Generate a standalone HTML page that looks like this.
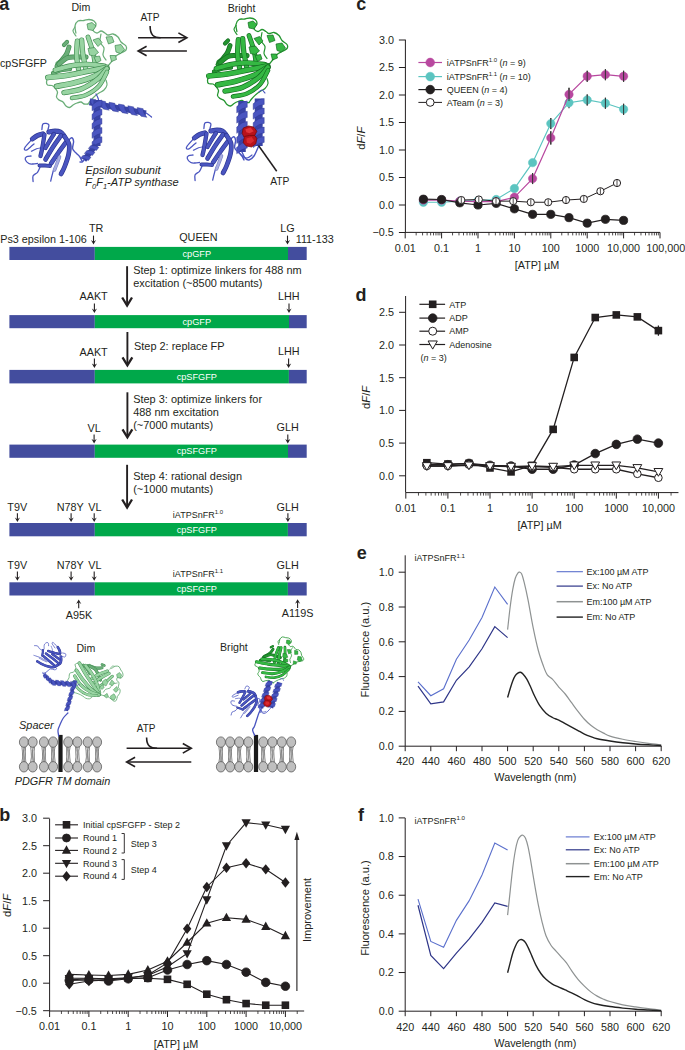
<!DOCTYPE html>
<html><head><meta charset="utf-8"><style>
html,body{margin:0;padding:0;background:#fff;overflow:hidden;width:685px;height:1050px;}
svg{display:block;font-family:"Liberation Sans",sans-serif;}
</style></head><body>
<svg width="685" height="1050" viewBox="0 0 685 1050">
<rect width="685" height="1050" fill="#fff"/>
<line x1="405.4" y1="39.7" x2="405.4" y2="232.4" stroke="#231f20" stroke-width="1"/>
<line x1="398.9" y1="40" x2="405.4" y2="40" stroke="#231f20" stroke-width="1"/>
<text x="393.9" y="43.8" font-size="10.8" text-anchor="end" fill="#231f20">3.0</text>
<line x1="398.9" y1="67.5" x2="405.4" y2="67.5" stroke="#231f20" stroke-width="1"/>
<text x="393.9" y="71.3" font-size="10.8" text-anchor="end" fill="#231f20">2.5</text>
<line x1="398.9" y1="95" x2="405.4" y2="95" stroke="#231f20" stroke-width="1"/>
<text x="393.9" y="98.8" font-size="10.8" text-anchor="end" fill="#231f20">2.0</text>
<line x1="398.9" y1="122.5" x2="405.4" y2="122.5" stroke="#231f20" stroke-width="1"/>
<text x="393.9" y="126.3" font-size="10.8" text-anchor="end" fill="#231f20">1.5</text>
<line x1="398.9" y1="150" x2="405.4" y2="150" stroke="#231f20" stroke-width="1"/>
<text x="393.9" y="153.8" font-size="10.8" text-anchor="end" fill="#231f20">1.0</text>
<line x1="398.9" y1="177.5" x2="405.4" y2="177.5" stroke="#231f20" stroke-width="1"/>
<text x="393.9" y="181.3" font-size="10.8" text-anchor="end" fill="#231f20">0.5</text>
<line x1="398.9" y1="205" x2="405.4" y2="205" stroke="#231f20" stroke-width="1"/>
<text x="393.9" y="208.8" font-size="10.8" text-anchor="end" fill="#231f20">0.0</text>
<line x1="398.9" y1="232.5" x2="405.4" y2="232.5" stroke="#231f20" stroke-width="1"/>
<text x="393.9" y="236.3" font-size="10.8" text-anchor="end" fill="#231f20">−0.5</text>
<line x1="405.2" y1="232.4" x2="660" y2="232.4" stroke="#231f20" stroke-width="1"/>
<line x1="405.2" y1="232.4" x2="405.2" y2="238.4" stroke="#231f20" stroke-width="1"/>
<line x1="416.16" y1="232.4" x2="416.16" y2="235.4" stroke="#231f20" stroke-width="0.8"/>
<line x1="422.57" y1="232.4" x2="422.57" y2="235.4" stroke="#231f20" stroke-width="0.8"/>
<line x1="427.11" y1="232.4" x2="427.11" y2="235.4" stroke="#231f20" stroke-width="0.8"/>
<line x1="430.64" y1="232.4" x2="430.64" y2="235.4" stroke="#231f20" stroke-width="0.8"/>
<line x1="433.52" y1="232.4" x2="433.52" y2="235.4" stroke="#231f20" stroke-width="0.8"/>
<line x1="435.96" y1="232.4" x2="435.96" y2="235.4" stroke="#231f20" stroke-width="0.8"/>
<line x1="438.07" y1="232.4" x2="438.07" y2="235.4" stroke="#231f20" stroke-width="0.8"/>
<line x1="439.93" y1="232.4" x2="439.93" y2="235.4" stroke="#231f20" stroke-width="0.8"/>
<line x1="441.6" y1="232.4" x2="441.6" y2="238.4" stroke="#231f20" stroke-width="1"/>
<line x1="452.56" y1="232.4" x2="452.56" y2="235.4" stroke="#231f20" stroke-width="0.8"/>
<line x1="458.97" y1="232.4" x2="458.97" y2="235.4" stroke="#231f20" stroke-width="0.8"/>
<line x1="463.51" y1="232.4" x2="463.51" y2="235.4" stroke="#231f20" stroke-width="0.8"/>
<line x1="467.04" y1="232.4" x2="467.04" y2="235.4" stroke="#231f20" stroke-width="0.8"/>
<line x1="469.92" y1="232.4" x2="469.92" y2="235.4" stroke="#231f20" stroke-width="0.8"/>
<line x1="472.36" y1="232.4" x2="472.36" y2="235.4" stroke="#231f20" stroke-width="0.8"/>
<line x1="474.47" y1="232.4" x2="474.47" y2="235.4" stroke="#231f20" stroke-width="0.8"/>
<line x1="476.33" y1="232.4" x2="476.33" y2="235.4" stroke="#231f20" stroke-width="0.8"/>
<line x1="478" y1="232.4" x2="478" y2="238.4" stroke="#231f20" stroke-width="1"/>
<line x1="488.96" y1="232.4" x2="488.96" y2="235.4" stroke="#231f20" stroke-width="0.8"/>
<line x1="495.37" y1="232.4" x2="495.37" y2="235.4" stroke="#231f20" stroke-width="0.8"/>
<line x1="499.91" y1="232.4" x2="499.91" y2="235.4" stroke="#231f20" stroke-width="0.8"/>
<line x1="503.44" y1="232.4" x2="503.44" y2="235.4" stroke="#231f20" stroke-width="0.8"/>
<line x1="506.32" y1="232.4" x2="506.32" y2="235.4" stroke="#231f20" stroke-width="0.8"/>
<line x1="508.76" y1="232.4" x2="508.76" y2="235.4" stroke="#231f20" stroke-width="0.8"/>
<line x1="510.87" y1="232.4" x2="510.87" y2="235.4" stroke="#231f20" stroke-width="0.8"/>
<line x1="512.73" y1="232.4" x2="512.73" y2="235.4" stroke="#231f20" stroke-width="0.8"/>
<line x1="514.4" y1="232.4" x2="514.4" y2="238.4" stroke="#231f20" stroke-width="1"/>
<line x1="525.36" y1="232.4" x2="525.36" y2="235.4" stroke="#231f20" stroke-width="0.8"/>
<line x1="531.77" y1="232.4" x2="531.77" y2="235.4" stroke="#231f20" stroke-width="0.8"/>
<line x1="536.31" y1="232.4" x2="536.31" y2="235.4" stroke="#231f20" stroke-width="0.8"/>
<line x1="539.84" y1="232.4" x2="539.84" y2="235.4" stroke="#231f20" stroke-width="0.8"/>
<line x1="542.72" y1="232.4" x2="542.72" y2="235.4" stroke="#231f20" stroke-width="0.8"/>
<line x1="545.16" y1="232.4" x2="545.16" y2="235.4" stroke="#231f20" stroke-width="0.8"/>
<line x1="547.27" y1="232.4" x2="547.27" y2="235.4" stroke="#231f20" stroke-width="0.8"/>
<line x1="549.13" y1="232.4" x2="549.13" y2="235.4" stroke="#231f20" stroke-width="0.8"/>
<line x1="550.8" y1="232.4" x2="550.8" y2="238.4" stroke="#231f20" stroke-width="1"/>
<line x1="561.76" y1="232.4" x2="561.76" y2="235.4" stroke="#231f20" stroke-width="0.8"/>
<line x1="568.17" y1="232.4" x2="568.17" y2="235.4" stroke="#231f20" stroke-width="0.8"/>
<line x1="572.71" y1="232.4" x2="572.71" y2="235.4" stroke="#231f20" stroke-width="0.8"/>
<line x1="576.24" y1="232.4" x2="576.24" y2="235.4" stroke="#231f20" stroke-width="0.8"/>
<line x1="579.12" y1="232.4" x2="579.12" y2="235.4" stroke="#231f20" stroke-width="0.8"/>
<line x1="581.56" y1="232.4" x2="581.56" y2="235.4" stroke="#231f20" stroke-width="0.8"/>
<line x1="583.67" y1="232.4" x2="583.67" y2="235.4" stroke="#231f20" stroke-width="0.8"/>
<line x1="585.53" y1="232.4" x2="585.53" y2="235.4" stroke="#231f20" stroke-width="0.8"/>
<line x1="587.2" y1="232.4" x2="587.2" y2="238.4" stroke="#231f20" stroke-width="1"/>
<line x1="598.16" y1="232.4" x2="598.16" y2="235.4" stroke="#231f20" stroke-width="0.8"/>
<line x1="604.57" y1="232.4" x2="604.57" y2="235.4" stroke="#231f20" stroke-width="0.8"/>
<line x1="609.11" y1="232.4" x2="609.11" y2="235.4" stroke="#231f20" stroke-width="0.8"/>
<line x1="612.64" y1="232.4" x2="612.64" y2="235.4" stroke="#231f20" stroke-width="0.8"/>
<line x1="615.52" y1="232.4" x2="615.52" y2="235.4" stroke="#231f20" stroke-width="0.8"/>
<line x1="617.96" y1="232.4" x2="617.96" y2="235.4" stroke="#231f20" stroke-width="0.8"/>
<line x1="620.07" y1="232.4" x2="620.07" y2="235.4" stroke="#231f20" stroke-width="0.8"/>
<line x1="621.93" y1="232.4" x2="621.93" y2="235.4" stroke="#231f20" stroke-width="0.8"/>
<line x1="623.6" y1="232.4" x2="623.6" y2="238.4" stroke="#231f20" stroke-width="1"/>
<line x1="634.56" y1="232.4" x2="634.56" y2="235.4" stroke="#231f20" stroke-width="0.8"/>
<line x1="640.97" y1="232.4" x2="640.97" y2="235.4" stroke="#231f20" stroke-width="0.8"/>
<line x1="645.51" y1="232.4" x2="645.51" y2="235.4" stroke="#231f20" stroke-width="0.8"/>
<line x1="649.04" y1="232.4" x2="649.04" y2="235.4" stroke="#231f20" stroke-width="0.8"/>
<line x1="651.92" y1="232.4" x2="651.92" y2="235.4" stroke="#231f20" stroke-width="0.8"/>
<line x1="654.36" y1="232.4" x2="654.36" y2="235.4" stroke="#231f20" stroke-width="0.8"/>
<line x1="656.47" y1="232.4" x2="656.47" y2="235.4" stroke="#231f20" stroke-width="0.8"/>
<line x1="658.33" y1="232.4" x2="658.33" y2="235.4" stroke="#231f20" stroke-width="0.8"/>
<line x1="660" y1="232.4" x2="660" y2="238.4" stroke="#231f20" stroke-width="1"/>
<text x="405.2" y="252.2" font-size="10.8" text-anchor="middle" fill="#231f20">0.01</text>
<text x="441.6" y="252.2" font-size="10.8" text-anchor="middle" fill="#231f20">0.1</text>
<text x="478" y="252.2" font-size="10.8" text-anchor="middle" fill="#231f20">1</text>
<text x="514.4" y="252.2" font-size="10.8" text-anchor="middle" fill="#231f20">10</text>
<text x="550.8" y="252.2" font-size="10.8" text-anchor="middle" fill="#231f20">100</text>
<text x="587.2" y="252.2" font-size="10.8" text-anchor="middle" fill="#231f20">1000</text>
<text x="623.6" y="252.2" font-size="10.8" text-anchor="middle" fill="#231f20">10,000</text>
<text x="665.82" y="252.2" font-size="10.8" text-anchor="middle" fill="#231f20">100,000</text>
<text transform="translate(365.1,138.2) rotate(-90)" font-size="11.2" text-anchor="middle" fill="#231f20">d<tspan font-style="italic">F</tspan>/<tspan font-style="italic">F</tspan></text>
<text x="537" y="268.6" font-size="10.8" text-anchor="middle" fill="#231f20">[ATP] µM</text>
<line x1="532.6" y1="173.1" x2="532.6" y2="184.1" stroke="#231f20" stroke-width="1.1"/>
<line x1="550.8" y1="131.3" x2="550.8" y2="144.5" stroke="#231f20" stroke-width="1.1"/>
<line x1="569" y1="87.85" x2="569" y2="101.05" stroke="#231f20" stroke-width="1.1"/>
<line x1="587.2" y1="70.8" x2="587.2" y2="81.8" stroke="#231f20" stroke-width="1.1"/>
<line x1="605.4" y1="69.15" x2="605.4" y2="80.15" stroke="#231f20" stroke-width="1.1"/>
<line x1="623.6" y1="70.8" x2="623.6" y2="81.8" stroke="#231f20" stroke-width="1.1"/>
<line x1="550.8" y1="118.1" x2="550.8" y2="129.1" stroke="#231f20" stroke-width="1.1"/>
<line x1="569" y1="97.2" x2="569" y2="108.2" stroke="#231f20" stroke-width="1.1"/>
<line x1="587.2" y1="94.45" x2="587.2" y2="105.45" stroke="#231f20" stroke-width="1.1"/>
<line x1="605.4" y1="97.75" x2="605.4" y2="108.75" stroke="#231f20" stroke-width="1.1"/>
<line x1="623.6" y1="103.8" x2="623.6" y2="114.8" stroke="#231f20" stroke-width="1.1"/>
<polyline points="423.4,202.25 441.6,202.25 459.8,201.15 478,200.6 496.2,199.5 514.4,188.5 532.6,162.65 550.8,123.6 569,102.7 587.2,99.95 605.4,103.25 623.6,109.3" fill="none" stroke="#5bc4c0" stroke-width="1.2"/>
<circle cx="423.4" cy="202.25" r="4.2" fill="#5bc4c0" stroke="#5bc4c0" stroke-width="0.5"/>
<circle cx="441.6" cy="202.25" r="4.2" fill="#5bc4c0" stroke="#5bc4c0" stroke-width="0.5"/>
<circle cx="459.8" cy="201.15" r="4.2" fill="#5bc4c0" stroke="#5bc4c0" stroke-width="0.5"/>
<circle cx="478" cy="200.6" r="4.2" fill="#5bc4c0" stroke="#5bc4c0" stroke-width="0.5"/>
<circle cx="496.2" cy="199.5" r="4.2" fill="#5bc4c0" stroke="#5bc4c0" stroke-width="0.5"/>
<circle cx="514.4" cy="188.5" r="4.2" fill="#5bc4c0" stroke="#5bc4c0" stroke-width="0.5"/>
<circle cx="532.6" cy="162.65" r="4.2" fill="#5bc4c0" stroke="#5bc4c0" stroke-width="0.5"/>
<circle cx="550.8" cy="123.6" r="4.2" fill="#5bc4c0" stroke="#5bc4c0" stroke-width="0.5"/>
<circle cx="569" cy="102.7" r="4.2" fill="#5bc4c0" stroke="#5bc4c0" stroke-width="0.5"/>
<circle cx="587.2" cy="99.95" r="4.2" fill="#5bc4c0" stroke="#5bc4c0" stroke-width="0.5"/>
<circle cx="605.4" cy="103.25" r="4.2" fill="#5bc4c0" stroke="#5bc4c0" stroke-width="0.5"/>
<circle cx="623.6" cy="109.3" r="4.2" fill="#5bc4c0" stroke="#5bc4c0" stroke-width="0.5"/>
<polyline points="423.4,200.05 441.6,200.05 459.8,201.15 478,201.7 496.2,201.7 514.4,197.3 532.6,178.6 550.8,137.9 569,94.45 587.2,76.3 605.4,74.65 623.6,76.3" fill="none" stroke="#b8489f" stroke-width="1.2"/>
<circle cx="423.4" cy="200.05" r="4.2" fill="#b8489f" stroke="#b8489f" stroke-width="0.5"/>
<circle cx="441.6" cy="200.05" r="4.2" fill="#b8489f" stroke="#b8489f" stroke-width="0.5"/>
<circle cx="459.8" cy="201.15" r="4.2" fill="#b8489f" stroke="#b8489f" stroke-width="0.5"/>
<circle cx="478" cy="201.7" r="4.2" fill="#b8489f" stroke="#b8489f" stroke-width="0.5"/>
<circle cx="496.2" cy="201.7" r="4.2" fill="#b8489f" stroke="#b8489f" stroke-width="0.5"/>
<circle cx="514.4" cy="197.3" r="4.2" fill="#b8489f" stroke="#b8489f" stroke-width="0.5"/>
<circle cx="532.6" cy="178.6" r="4.2" fill="#b8489f" stroke="#b8489f" stroke-width="0.5"/>
<circle cx="550.8" cy="137.9" r="4.2" fill="#b8489f" stroke="#b8489f" stroke-width="0.5"/>
<circle cx="569" cy="94.45" r="4.2" fill="#b8489f" stroke="#b8489f" stroke-width="0.5"/>
<circle cx="587.2" cy="76.3" r="4.2" fill="#b8489f" stroke="#b8489f" stroke-width="0.5"/>
<circle cx="605.4" cy="74.65" r="4.2" fill="#b8489f" stroke="#b8489f" stroke-width="0.5"/>
<circle cx="623.6" cy="76.3" r="4.2" fill="#b8489f" stroke="#b8489f" stroke-width="0.5"/>
<polyline points="423.4,199.22 441.6,199.5 459.8,202.8 478,205 496.2,203.35 514.4,208.85 532.6,214.35 550.8,214.35 569,217.65 587.2,223.15 605.4,219.3 623.6,220.4" fill="none" stroke="#231f20" stroke-width="1.2"/>
<circle cx="423.4" cy="199.22" r="4.1" fill="#231f20" stroke="#231f20" stroke-width="0.8"/>
<circle cx="441.6" cy="199.5" r="4.1" fill="#231f20" stroke="#231f20" stroke-width="0.8"/>
<circle cx="459.8" cy="202.8" r="4.1" fill="#231f20" stroke="#231f20" stroke-width="0.8"/>
<circle cx="478" cy="205" r="4.1" fill="#231f20" stroke="#231f20" stroke-width="0.8"/>
<circle cx="496.2" cy="203.35" r="4.1" fill="#231f20" stroke="#231f20" stroke-width="0.8"/>
<circle cx="514.4" cy="208.85" r="4.1" fill="#231f20" stroke="#231f20" stroke-width="0.8"/>
<circle cx="532.6" cy="214.35" r="4.1" fill="#231f20" stroke="#231f20" stroke-width="0.8"/>
<circle cx="550.8" cy="214.35" r="4.1" fill="#231f20" stroke="#231f20" stroke-width="0.8"/>
<circle cx="569" cy="217.65" r="4.1" fill="#231f20" stroke="#231f20" stroke-width="0.8"/>
<circle cx="587.2" cy="223.15" r="4.1" fill="#231f20" stroke="#231f20" stroke-width="0.8"/>
<circle cx="605.4" cy="219.3" r="4.1" fill="#231f20" stroke="#231f20" stroke-width="0.8"/>
<circle cx="623.6" cy="220.4" r="4.1" fill="#231f20" stroke="#231f20" stroke-width="0.8"/>
<polyline points="461.3,200.05 478.8,199.5 496,201.15 513.2,201.15 530.8,202.25 548.2,202.25 566,200.05 583.8,198.95 600.4,191.25 617,183" fill="none" stroke="#231f20" stroke-width="1"/>
<circle cx="461.3" cy="200.05" r="3.6" fill="#fff" stroke="#231f20" stroke-width="1"/>
<circle cx="478.8" cy="199.5" r="3.6" fill="#fff" stroke="#231f20" stroke-width="1"/>
<circle cx="496" cy="201.15" r="3.6" fill="#fff" stroke="#231f20" stroke-width="1"/>
<circle cx="513.2" cy="201.15" r="3.6" fill="#fff" stroke="#231f20" stroke-width="1"/>
<circle cx="530.8" cy="202.25" r="3.6" fill="#fff" stroke="#231f20" stroke-width="1"/>
<circle cx="548.2" cy="202.25" r="3.6" fill="#fff" stroke="#231f20" stroke-width="1"/>
<circle cx="566" cy="200.05" r="3.6" fill="#fff" stroke="#231f20" stroke-width="1"/>
<circle cx="583.8" cy="198.95" r="3.6" fill="#fff" stroke="#231f20" stroke-width="1"/>
<circle cx="600.4" cy="191.25" r="3.6" fill="#fff" stroke="#231f20" stroke-width="1"/>
<circle cx="617" cy="183" r="3.6" fill="#fff" stroke="#231f20" stroke-width="1"/>
<line x1="461.3" y1="197.05" x2="461.3" y2="203.05" stroke="#231f20" stroke-width="0.8"/>
<line x1="478.8" y1="196.5" x2="478.8" y2="202.5" stroke="#231f20" stroke-width="0.8"/>
<line x1="496" y1="198.15" x2="496" y2="204.15" stroke="#231f20" stroke-width="0.8"/>
<line x1="513.2" y1="198.15" x2="513.2" y2="204.15" stroke="#231f20" stroke-width="0.8"/>
<line x1="530.8" y1="199.25" x2="530.8" y2="205.25" stroke="#231f20" stroke-width="0.8"/>
<line x1="548.2" y1="199.25" x2="548.2" y2="205.25" stroke="#231f20" stroke-width="0.8"/>
<line x1="566" y1="197.05" x2="566" y2="203.05" stroke="#231f20" stroke-width="0.8"/>
<line x1="583.8" y1="195.95" x2="583.8" y2="201.95" stroke="#231f20" stroke-width="0.8"/>
<line x1="600.4" y1="188.25" x2="600.4" y2="194.25" stroke="#231f20" stroke-width="0.8"/>
<line x1="617" y1="180" x2="617" y2="186" stroke="#231f20" stroke-width="0.8"/>
<line x1="532.6" y1="173.1" x2="532.6" y2="184.1" stroke="#333" stroke-width="1"/>
<line x1="550.8" y1="131.3" x2="550.8" y2="144.5" stroke="#333" stroke-width="1"/>
<line x1="569" y1="87.85" x2="569" y2="101.05" stroke="#333" stroke-width="1"/>
<line x1="587.2" y1="70.8" x2="587.2" y2="81.8" stroke="#333" stroke-width="1"/>
<line x1="605.4" y1="69.15" x2="605.4" y2="80.15" stroke="#333" stroke-width="1"/>
<line x1="623.6" y1="70.8" x2="623.6" y2="81.8" stroke="#333" stroke-width="1"/>
<line x1="550.8" y1="118.1" x2="550.8" y2="129.1" stroke="#333" stroke-width="1"/>
<line x1="587.2" y1="94.45" x2="587.2" y2="105.45" stroke="#333" stroke-width="1"/>
<line x1="605.4" y1="97.75" x2="605.4" y2="108.75" stroke="#333" stroke-width="1"/>
<line x1="623.6" y1="103.8" x2="623.6" y2="114.8" stroke="#333" stroke-width="1"/>
<line x1="418.4" y1="62.5" x2="442" y2="62.5" stroke="#b8489f" stroke-width="1.2"/>
<circle cx="430.2" cy="62.5" r="4.4" fill="#b8489f" stroke="#b8489f" stroke-width="0.5"/>
<line x1="418.4" y1="76.6" x2="442" y2="76.6" stroke="#5bc4c0" stroke-width="1.2"/>
<circle cx="430.2" cy="76.6" r="4.4" fill="#5bc4c0" stroke="#5bc4c0" stroke-width="0.5"/>
<line x1="418.4" y1="89.6" x2="442" y2="89.6" stroke="#231f20" stroke-width="1.2"/>
<circle cx="430.2" cy="89.6" r="4.3" fill="#231f20" stroke="#231f20" stroke-width="0.8"/>
<line x1="418.4" y1="102.4" x2="442" y2="102.4" stroke="#231f20" stroke-width="1"/>
<circle cx="430.2" cy="102.4" r="3.9" fill="#fff" stroke="#231f20" stroke-width="1"/>
<text x="446.8" y="65.7" font-size="9" fill="#231f20">iATPSnFR<tspan font-size="6" dy="-3.5">1.0</tspan><tspan dy="3.5"> (<tspan font-style="italic">n</tspan> = 9)</tspan></text>
<text x="446.8" y="79.8" font-size="9" fill="#231f20">iATPSnFR<tspan font-size="6" dy="-3.5">1.1</tspan><tspan dy="3.5"> (<tspan font-style="italic">n</tspan> = 10)</tspan></text>
<text x="446.8" y="92.8" font-size="9" fill="#231f20">QUEEN (<tspan font-style="italic">n</tspan> = 4)</text>
<text x="446.8" y="105.6" font-size="9" fill="#231f20">ATeam (<tspan font-style="italic">n</tspan> = 3)</text>
<line x1="405.6" y1="296" x2="405.6" y2="492.6" stroke="#231f20" stroke-width="1"/>
<line x1="399.1" y1="312.3" x2="405.6" y2="312.3" stroke="#231f20" stroke-width="1"/>
<text x="394.1" y="316.1" font-size="10.8" text-anchor="end" fill="#231f20">2.5</text>
<line x1="399.1" y1="345" x2="405.6" y2="345" stroke="#231f20" stroke-width="1"/>
<text x="394.1" y="348.8" font-size="10.8" text-anchor="end" fill="#231f20">2.0</text>
<line x1="399.1" y1="377.7" x2="405.6" y2="377.7" stroke="#231f20" stroke-width="1"/>
<text x="394.1" y="381.5" font-size="10.8" text-anchor="end" fill="#231f20">1.5</text>
<line x1="399.1" y1="410.4" x2="405.6" y2="410.4" stroke="#231f20" stroke-width="1"/>
<text x="394.1" y="414.2" font-size="10.8" text-anchor="end" fill="#231f20">1.0</text>
<line x1="399.1" y1="443.1" x2="405.6" y2="443.1" stroke="#231f20" stroke-width="1"/>
<text x="394.1" y="446.9" font-size="10.8" text-anchor="end" fill="#231f20">0.5</text>
<line x1="399.1" y1="475.8" x2="405.6" y2="475.8" stroke="#231f20" stroke-width="1"/>
<text x="394.1" y="479.6" font-size="10.8" text-anchor="end" fill="#231f20">0.0</text>
<line x1="405.8" y1="492.6" x2="678.48" y2="492.6" stroke="#231f20" stroke-width="1"/>
<line x1="405.8" y1="492.6" x2="405.8" y2="498.6" stroke="#231f20" stroke-width="1"/>
<line x1="418.47" y1="492.6" x2="418.47" y2="495.6" stroke="#231f20" stroke-width="0.8"/>
<line x1="425.89" y1="492.6" x2="425.89" y2="495.6" stroke="#231f20" stroke-width="0.8"/>
<line x1="431.15" y1="492.6" x2="431.15" y2="495.6" stroke="#231f20" stroke-width="0.8"/>
<line x1="435.23" y1="492.6" x2="435.23" y2="495.6" stroke="#231f20" stroke-width="0.8"/>
<line x1="438.56" y1="492.6" x2="438.56" y2="495.6" stroke="#231f20" stroke-width="0.8"/>
<line x1="441.38" y1="492.6" x2="441.38" y2="495.6" stroke="#231f20" stroke-width="0.8"/>
<line x1="443.82" y1="492.6" x2="443.82" y2="495.6" stroke="#231f20" stroke-width="0.8"/>
<line x1="445.97" y1="492.6" x2="445.97" y2="495.6" stroke="#231f20" stroke-width="0.8"/>
<line x1="447.9" y1="492.6" x2="447.9" y2="498.6" stroke="#231f20" stroke-width="1"/>
<line x1="460.57" y1="492.6" x2="460.57" y2="495.6" stroke="#231f20" stroke-width="0.8"/>
<line x1="467.99" y1="492.6" x2="467.99" y2="495.6" stroke="#231f20" stroke-width="0.8"/>
<line x1="473.25" y1="492.6" x2="473.25" y2="495.6" stroke="#231f20" stroke-width="0.8"/>
<line x1="477.33" y1="492.6" x2="477.33" y2="495.6" stroke="#231f20" stroke-width="0.8"/>
<line x1="480.66" y1="492.6" x2="480.66" y2="495.6" stroke="#231f20" stroke-width="0.8"/>
<line x1="483.48" y1="492.6" x2="483.48" y2="495.6" stroke="#231f20" stroke-width="0.8"/>
<line x1="485.92" y1="492.6" x2="485.92" y2="495.6" stroke="#231f20" stroke-width="0.8"/>
<line x1="488.07" y1="492.6" x2="488.07" y2="495.6" stroke="#231f20" stroke-width="0.8"/>
<line x1="490" y1="492.6" x2="490" y2="498.6" stroke="#231f20" stroke-width="1"/>
<line x1="502.67" y1="492.6" x2="502.67" y2="495.6" stroke="#231f20" stroke-width="0.8"/>
<line x1="510.09" y1="492.6" x2="510.09" y2="495.6" stroke="#231f20" stroke-width="0.8"/>
<line x1="515.35" y1="492.6" x2="515.35" y2="495.6" stroke="#231f20" stroke-width="0.8"/>
<line x1="519.43" y1="492.6" x2="519.43" y2="495.6" stroke="#231f20" stroke-width="0.8"/>
<line x1="522.76" y1="492.6" x2="522.76" y2="495.6" stroke="#231f20" stroke-width="0.8"/>
<line x1="525.58" y1="492.6" x2="525.58" y2="495.6" stroke="#231f20" stroke-width="0.8"/>
<line x1="528.02" y1="492.6" x2="528.02" y2="495.6" stroke="#231f20" stroke-width="0.8"/>
<line x1="530.17" y1="492.6" x2="530.17" y2="495.6" stroke="#231f20" stroke-width="0.8"/>
<line x1="532.1" y1="492.6" x2="532.1" y2="498.6" stroke="#231f20" stroke-width="1"/>
<line x1="544.77" y1="492.6" x2="544.77" y2="495.6" stroke="#231f20" stroke-width="0.8"/>
<line x1="552.19" y1="492.6" x2="552.19" y2="495.6" stroke="#231f20" stroke-width="0.8"/>
<line x1="557.45" y1="492.6" x2="557.45" y2="495.6" stroke="#231f20" stroke-width="0.8"/>
<line x1="561.53" y1="492.6" x2="561.53" y2="495.6" stroke="#231f20" stroke-width="0.8"/>
<line x1="564.86" y1="492.6" x2="564.86" y2="495.6" stroke="#231f20" stroke-width="0.8"/>
<line x1="567.68" y1="492.6" x2="567.68" y2="495.6" stroke="#231f20" stroke-width="0.8"/>
<line x1="570.12" y1="492.6" x2="570.12" y2="495.6" stroke="#231f20" stroke-width="0.8"/>
<line x1="572.27" y1="492.6" x2="572.27" y2="495.6" stroke="#231f20" stroke-width="0.8"/>
<line x1="574.2" y1="492.6" x2="574.2" y2="498.6" stroke="#231f20" stroke-width="1"/>
<line x1="586.87" y1="492.6" x2="586.87" y2="495.6" stroke="#231f20" stroke-width="0.8"/>
<line x1="594.29" y1="492.6" x2="594.29" y2="495.6" stroke="#231f20" stroke-width="0.8"/>
<line x1="599.55" y1="492.6" x2="599.55" y2="495.6" stroke="#231f20" stroke-width="0.8"/>
<line x1="603.63" y1="492.6" x2="603.63" y2="495.6" stroke="#231f20" stroke-width="0.8"/>
<line x1="606.96" y1="492.6" x2="606.96" y2="495.6" stroke="#231f20" stroke-width="0.8"/>
<line x1="609.78" y1="492.6" x2="609.78" y2="495.6" stroke="#231f20" stroke-width="0.8"/>
<line x1="612.22" y1="492.6" x2="612.22" y2="495.6" stroke="#231f20" stroke-width="0.8"/>
<line x1="614.37" y1="492.6" x2="614.37" y2="495.6" stroke="#231f20" stroke-width="0.8"/>
<line x1="616.3" y1="492.6" x2="616.3" y2="498.6" stroke="#231f20" stroke-width="1"/>
<line x1="628.97" y1="492.6" x2="628.97" y2="495.6" stroke="#231f20" stroke-width="0.8"/>
<line x1="636.39" y1="492.6" x2="636.39" y2="495.6" stroke="#231f20" stroke-width="0.8"/>
<line x1="641.65" y1="492.6" x2="641.65" y2="495.6" stroke="#231f20" stroke-width="0.8"/>
<line x1="645.73" y1="492.6" x2="645.73" y2="495.6" stroke="#231f20" stroke-width="0.8"/>
<line x1="649.06" y1="492.6" x2="649.06" y2="495.6" stroke="#231f20" stroke-width="0.8"/>
<line x1="651.88" y1="492.6" x2="651.88" y2="495.6" stroke="#231f20" stroke-width="0.8"/>
<line x1="654.32" y1="492.6" x2="654.32" y2="495.6" stroke="#231f20" stroke-width="0.8"/>
<line x1="656.47" y1="492.6" x2="656.47" y2="495.6" stroke="#231f20" stroke-width="0.8"/>
<line x1="658.4" y1="492.6" x2="658.4" y2="498.6" stroke="#231f20" stroke-width="1"/>
<line x1="671.07" y1="492.6" x2="671.07" y2="495.6" stroke="#231f20" stroke-width="0.8"/>
<text x="405.8" y="512.2" font-size="10.8" text-anchor="middle" fill="#231f20">0.01</text>
<text x="447.9" y="512.2" font-size="10.8" text-anchor="middle" fill="#231f20">0.1</text>
<text x="490" y="512.2" font-size="10.8" text-anchor="middle" fill="#231f20">1</text>
<text x="532.1" y="512.2" font-size="10.8" text-anchor="middle" fill="#231f20">10</text>
<text x="574.2" y="512.2" font-size="10.8" text-anchor="middle" fill="#231f20">100</text>
<text x="616.3" y="512.2" font-size="10.8" text-anchor="middle" fill="#231f20">1000</text>
<text x="658.4" y="512.2" font-size="10.8" text-anchor="middle" fill="#231f20">10,000</text>
<text transform="translate(370.4,397.4) rotate(-90)" font-size="11.2" text-anchor="middle" fill="#231f20">d<tspan font-style="italic">F</tspan>/<tspan font-style="italic">F</tspan></text>
<text x="539.6" y="529.2" font-size="10.8" text-anchor="middle" fill="#231f20">[ATP] µM</text>
<line x1="658.4" y1="325.38" x2="658.4" y2="335.84" stroke="#231f20" stroke-width="1.2"/>
<polyline points="426.85,462.72 447.9,464.03 468.95,463.37 490,467.95 511.05,471.88 532.1,465.34 553.15,429.37 574.2,357.43 595.25,317.53 616.3,314.92 637.35,316.88 658.4,330.61" fill="none" stroke="#231f20" stroke-width="1.3"/>
<rect x="423.05" y="458.92" width="7.6" height="7.6" fill="#231f20"/>
<rect x="444.1" y="460.23" width="7.6" height="7.6" fill="#231f20"/>
<rect x="465.15" y="459.57" width="7.6" height="7.6" fill="#231f20"/>
<rect x="486.2" y="464.15" width="7.6" height="7.6" fill="#231f20"/>
<rect x="507.25" y="468.08" width="7.6" height="7.6" fill="#231f20"/>
<rect x="528.3" y="461.54" width="7.6" height="7.6" fill="#231f20"/>
<rect x="549.35" y="425.57" width="7.6" height="7.6" fill="#231f20"/>
<rect x="570.4" y="353.63" width="7.6" height="7.6" fill="#231f20"/>
<rect x="591.45" y="313.73" width="7.6" height="7.6" fill="#231f20"/>
<rect x="612.5" y="311.12" width="7.6" height="7.6" fill="#231f20"/>
<rect x="633.55" y="313.08" width="7.6" height="7.6" fill="#231f20"/>
<rect x="654.6" y="326.81" width="7.6" height="7.6" fill="#231f20"/>
<polyline points="426.85,464.68 447.9,464.68 468.95,463.37 490,465.34 511.05,465.99 532.1,469.26 553.15,469.26 574.2,465.01 595.25,453.56 616.3,444.41 637.35,439.18 658.4,443.1" fill="none" stroke="#231f20" stroke-width="1.3"/>
<circle cx="426.85" cy="464.68" r="4.3" fill="#231f20" stroke="#231f20" stroke-width="0.8"/>
<circle cx="447.9" cy="464.68" r="4.3" fill="#231f20" stroke="#231f20" stroke-width="0.8"/>
<circle cx="468.95" cy="463.37" r="4.3" fill="#231f20" stroke="#231f20" stroke-width="0.8"/>
<circle cx="490" cy="465.34" r="4.3" fill="#231f20" stroke="#231f20" stroke-width="0.8"/>
<circle cx="511.05" cy="465.99" r="4.3" fill="#231f20" stroke="#231f20" stroke-width="0.8"/>
<circle cx="532.1" cy="469.26" r="4.3" fill="#231f20" stroke="#231f20" stroke-width="0.8"/>
<circle cx="553.15" cy="469.26" r="4.3" fill="#231f20" stroke="#231f20" stroke-width="0.8"/>
<circle cx="574.2" cy="465.01" r="4.3" fill="#231f20" stroke="#231f20" stroke-width="0.8"/>
<circle cx="595.25" cy="453.56" r="4.3" fill="#231f20" stroke="#231f20" stroke-width="0.8"/>
<circle cx="616.3" cy="444.41" r="4.3" fill="#231f20" stroke="#231f20" stroke-width="0.8"/>
<circle cx="637.35" cy="439.18" r="4.3" fill="#231f20" stroke="#231f20" stroke-width="0.8"/>
<circle cx="658.4" cy="443.1" r="4.3" fill="#231f20" stroke="#231f20" stroke-width="0.8"/>
<polyline points="426.85,465.99 447.9,465.99 468.95,464.68 490,465.34 511.05,466.64 532.1,466.64 553.15,467.3 574.2,469.26 595.25,469.26 616.3,469.26 637.35,473.84 658.4,477.76" fill="none" stroke="#231f20" stroke-width="1.3"/>
<circle cx="426.85" cy="465.99" r="3.8" fill="#fff" stroke="#231f20" stroke-width="1"/>
<circle cx="447.9" cy="465.99" r="3.8" fill="#fff" stroke="#231f20" stroke-width="1"/>
<circle cx="468.95" cy="464.68" r="3.8" fill="#fff" stroke="#231f20" stroke-width="1"/>
<circle cx="490" cy="465.34" r="3.8" fill="#fff" stroke="#231f20" stroke-width="1"/>
<circle cx="511.05" cy="466.64" r="3.8" fill="#fff" stroke="#231f20" stroke-width="1"/>
<circle cx="532.1" cy="466.64" r="3.8" fill="#fff" stroke="#231f20" stroke-width="1"/>
<circle cx="553.15" cy="467.3" r="3.8" fill="#fff" stroke="#231f20" stroke-width="1"/>
<circle cx="574.2" cy="469.26" r="3.8" fill="#fff" stroke="#231f20" stroke-width="1"/>
<circle cx="595.25" cy="469.26" r="3.8" fill="#fff" stroke="#231f20" stroke-width="1"/>
<circle cx="616.3" cy="469.26" r="3.8" fill="#fff" stroke="#231f20" stroke-width="1"/>
<circle cx="637.35" cy="473.84" r="3.8" fill="#fff" stroke="#231f20" stroke-width="1"/>
<circle cx="658.4" cy="477.76" r="3.8" fill="#fff" stroke="#231f20" stroke-width="1"/>
<polyline points="426.85,465.99 447.9,465.99 468.95,465.34 490,465.99 511.05,466.64 532.1,465.99 553.15,466.64 574.2,465.34 595.25,465.34 616.3,465.34 637.35,467.95 658.4,471.88" fill="none" stroke="#231f20" stroke-width="1.3"/>
<polygon points="426.85,470.39 422.45,462.63 431.25,462.63" fill="#fff" stroke="#231f20" stroke-width="1"/>
<polygon points="447.9,470.39 443.5,462.63 452.3,462.63" fill="#fff" stroke="#231f20" stroke-width="1"/>
<polygon points="468.95,469.74 464.55,461.98 473.35,461.98" fill="#fff" stroke="#231f20" stroke-width="1"/>
<polygon points="490,470.39 485.6,462.63 494.4,462.63" fill="#fff" stroke="#231f20" stroke-width="1"/>
<polygon points="511.05,471.04 506.65,463.28 515.45,463.28" fill="#fff" stroke="#231f20" stroke-width="1"/>
<polygon points="532.1,470.39 527.7,462.63 536.5,462.63" fill="#fff" stroke="#231f20" stroke-width="1"/>
<polygon points="553.15,471.04 548.75,463.28 557.55,463.28" fill="#fff" stroke="#231f20" stroke-width="1"/>
<polygon points="574.2,469.74 569.8,461.98 578.6,461.98" fill="#fff" stroke="#231f20" stroke-width="1"/>
<polygon points="595.25,469.74 590.85,461.98 599.65,461.98" fill="#fff" stroke="#231f20" stroke-width="1"/>
<polygon points="616.3,469.74 611.9,461.98 620.7,461.98" fill="#fff" stroke="#231f20" stroke-width="1"/>
<polygon points="637.35,472.35 632.95,464.59 641.75,464.59" fill="#fff" stroke="#231f20" stroke-width="1"/>
<polygon points="658.4,476.28 654,468.52 662.8,468.52" fill="#fff" stroke="#231f20" stroke-width="1"/>
<line x1="419.4" y1="304.3" x2="445.1" y2="304.3" stroke="#231f20" stroke-width="1.2"/>
<line x1="419.4" y1="318.1" x2="445.1" y2="318.1" stroke="#231f20" stroke-width="1.2"/>
<line x1="419.4" y1="331.2" x2="445.1" y2="331.2" stroke="#231f20" stroke-width="1.2"/>
<line x1="419.4" y1="344.5" x2="445.1" y2="344.5" stroke="#231f20" stroke-width="1.2"/>
<rect x="428.9" y="300.5" width="7.6" height="7.6" fill="#231f20"/>
<circle cx="432.7" cy="318.1" r="4.3" fill="#231f20" stroke="#231f20" stroke-width="0.8"/>
<circle cx="432.7" cy="331.2" r="4" fill="#fff" stroke="#231f20" stroke-width="1"/>
<polygon points="432.7,349.12 428.08,340.97 437.32,340.97" fill="#fff" stroke="#231f20" stroke-width="1"/>
<text x="449.3" y="307.5" font-size="9" text-anchor="start" fill="#231f20">ATP</text>
<text x="449.3" y="321.3" font-size="9" text-anchor="start" fill="#231f20">ADP</text>
<text x="449.3" y="334.4" font-size="9" text-anchor="start" fill="#231f20">AMP</text>
<text x="449.3" y="347.7" font-size="9" text-anchor="start" fill="#231f20">Adenosine</text>
<text x="420.6" y="361" font-size="9" fill="#231f20">(<tspan font-style="italic">n</tspan> = 3)</text>
<line x1="405.2" y1="555.3" x2="405.2" y2="746.2" stroke="#231f20" stroke-width="1"/>
<line x1="398.7" y1="572.2" x2="405.2" y2="572.2" stroke="#231f20" stroke-width="1"/>
<text x="393.7" y="576" font-size="10.8" text-anchor="end" fill="#231f20">1.0</text>
<line x1="398.7" y1="607" x2="405.2" y2="607" stroke="#231f20" stroke-width="1"/>
<text x="393.7" y="610.8" font-size="10.8" text-anchor="end" fill="#231f20">0.8</text>
<line x1="398.7" y1="641.8" x2="405.2" y2="641.8" stroke="#231f20" stroke-width="1"/>
<text x="393.7" y="645.6" font-size="10.8" text-anchor="end" fill="#231f20">0.6</text>
<line x1="398.7" y1="676.6" x2="405.2" y2="676.6" stroke="#231f20" stroke-width="1"/>
<text x="393.7" y="680.4" font-size="10.8" text-anchor="end" fill="#231f20">0.4</text>
<line x1="398.7" y1="711.4" x2="405.2" y2="711.4" stroke="#231f20" stroke-width="1"/>
<text x="393.7" y="715.2" font-size="10.8" text-anchor="end" fill="#231f20">0.2</text>
<line x1="398.7" y1="746.2" x2="405.2" y2="746.2" stroke="#231f20" stroke-width="1"/>
<text x="393.7" y="750" font-size="10.8" text-anchor="end" fill="#231f20">0.0</text>
<line x1="405.2" y1="746.2" x2="661.7" y2="746.2" stroke="#231f20" stroke-width="1"/>
<line x1="405.2" y1="746.2" x2="405.2" y2="751.2" stroke="#231f20" stroke-width="1"/>
<text x="405.2" y="765.2" font-size="10.8" text-anchor="middle" fill="#231f20">420</text>
<line x1="430.8" y1="746.2" x2="430.8" y2="751.2" stroke="#231f20" stroke-width="1"/>
<text x="430.8" y="765.2" font-size="10.8" text-anchor="middle" fill="#231f20">440</text>
<line x1="456.4" y1="746.2" x2="456.4" y2="751.2" stroke="#231f20" stroke-width="1"/>
<text x="456.4" y="765.2" font-size="10.8" text-anchor="middle" fill="#231f20">460</text>
<line x1="482" y1="746.2" x2="482" y2="751.2" stroke="#231f20" stroke-width="1"/>
<text x="482" y="765.2" font-size="10.8" text-anchor="middle" fill="#231f20">480</text>
<line x1="507.6" y1="746.2" x2="507.6" y2="751.2" stroke="#231f20" stroke-width="1"/>
<text x="507.6" y="765.2" font-size="10.8" text-anchor="middle" fill="#231f20">500</text>
<line x1="533.2" y1="746.2" x2="533.2" y2="751.2" stroke="#231f20" stroke-width="1"/>
<text x="533.2" y="765.2" font-size="10.8" text-anchor="middle" fill="#231f20">520</text>
<line x1="558.8" y1="746.2" x2="558.8" y2="751.2" stroke="#231f20" stroke-width="1"/>
<text x="558.8" y="765.2" font-size="10.8" text-anchor="middle" fill="#231f20">540</text>
<line x1="584.4" y1="746.2" x2="584.4" y2="751.2" stroke="#231f20" stroke-width="1"/>
<text x="584.4" y="765.2" font-size="10.8" text-anchor="middle" fill="#231f20">560</text>
<line x1="610" y1="746.2" x2="610" y2="751.2" stroke="#231f20" stroke-width="1"/>
<text x="610" y="765.2" font-size="10.8" text-anchor="middle" fill="#231f20">580</text>
<line x1="635.6" y1="746.2" x2="635.6" y2="751.2" stroke="#231f20" stroke-width="1"/>
<text x="635.6" y="765.2" font-size="10.8" text-anchor="middle" fill="#231f20">600</text>
<line x1="661.2" y1="746.2" x2="661.2" y2="751.2" stroke="#231f20" stroke-width="1"/>
<text x="661.2" y="765.2" font-size="10.8" text-anchor="middle" fill="#231f20">620</text>
<text x="535.4" y="780.7" font-size="10.85" text-anchor="middle" fill="#231f20">Wavelength (nm)</text>
<text transform="translate(369.3,649.6) rotate(-90)" font-size="11.1" text-anchor="middle" fill="#231f20">Fluorescence (a.u.)</text>
<text x="414.6" y="561.4" font-size="9" fill="#231f20">iATPSnFR<tspan font-size="6.2" dy="-3.6">1.1</tspan></text>
<polyline points="418,681.82 430.8,695.74 443.6,688.78 456.4,659.2 469.2,640.06 482,617.44 494.8,586.99 507.6,604.39" fill="none" stroke="#5a6fcc" stroke-width="1.1"/>
<polyline points="418,686.17 430.8,703.74 443.6,701.83 456.4,680.25 469.2,666.86 482,648.76 494.8,626.66 507.6,637.62" fill="none" stroke="#2e3588" stroke-width="1.2"/>
<path d="M507.6,629.62 C508.03,625.85 509.31,613.67 510.16,607 C511.01,600.33 511.87,594.38 512.72,589.6 C513.57,584.82 514.43,581.05 515.28,578.29 C516.13,575.54 517.09,574.09 517.84,573.07 C518.59,572.06 519.12,572.06 519.76,572.2 C520.4,572.35 520.93,572.2 521.68,573.94 C522.43,575.68 523.17,578.29 524.24,582.64 C525.31,586.99 526.59,592.5 528.08,600.04 C529.57,607.58 531.49,619.47 533.2,627.88 C534.91,636.29 536.61,644.12 538.32,650.5 C540.03,656.88 541.95,662.1 543.44,666.16 C544.93,670.22 545.79,672.69 547.28,674.86 C548.77,677.03 550.48,677.18 552.4,679.21 C554.32,681.24 556.67,684.58 558.8,687.04 C560.93,689.51 563.07,691.39 565.2,694 C567.33,696.61 569.47,699.8 571.6,702.7 C573.73,705.6 575.87,708.65 578,711.4 C580.13,714.16 582.27,716.91 584.4,719.23 C586.53,721.55 588.67,723.58 590.8,725.32 C592.93,727.06 595.07,728.37 597.2,729.67 C599.33,730.98 601.47,732.08 603.6,733.15 C605.73,734.22 606.8,735.09 610,736.11 C613.2,737.12 618.53,738.34 622.8,739.24 C627.07,740.14 631.33,740.81 635.6,741.5 C639.87,742.2 644.13,742.87 648.4,743.42 C652.67,743.97 659.07,744.58 661.2,744.81" fill="none" stroke="#8e9292" stroke-width="1.2"/>
<path d="M507.6,697.48 C508.03,696.03 509.31,691.54 510.16,688.78 C511.01,686.03 511.87,683.12 512.72,680.95 C513.57,678.78 514.43,677.04 515.28,675.73 C516.13,674.42 516.99,673.7 517.84,673.12 C518.69,672.54 519.55,672.11 520.4,672.25 C521.25,672.39 521.89,672.83 522.96,673.99 C524.03,675.15 525.52,677.04 526.8,679.21 C528.08,681.38 529.36,684.29 530.64,687.04 C531.92,689.8 532.99,692.7 534.48,695.74 C535.97,698.78 537.68,702.41 539.6,705.31 C541.52,708.21 543.87,711.11 546,713.14 C548.13,715.17 550.27,716.33 552.4,717.49 C554.53,718.65 556.67,719.09 558.8,720.1 C560.93,721.12 563.07,722.42 565.2,723.58 C567.33,724.74 569.47,725.9 571.6,727.06 C573.73,728.22 575.87,729.38 578,730.54 C580.13,731.7 582.27,733.01 584.4,734.02 C586.53,735.04 588.67,735.85 590.8,736.63 C592.93,737.41 594,737.99 597.2,738.72 C600.4,739.44 605.73,740.31 610,740.98 C614.27,741.65 618.53,742.23 622.8,742.72 C627.07,743.21 631.33,743.59 635.6,743.94 C639.87,744.29 644.13,744.55 648.4,744.81 C652.67,745.07 659.07,745.39 661.2,745.5" fill="none" stroke="#222222" stroke-width="1.4"/>
<line x1="556.6" y1="571.7" x2="582.9" y2="571.7" stroke="#5a6fcc" stroke-width="1.1"/>
<text x="586.4" y="575" font-size="9" text-anchor="start" fill="#231f20">Ex:100 µM ATP</text>
<line x1="556.6" y1="586.1" x2="582.9" y2="586.1" stroke="#2e3588" stroke-width="1.2"/>
<text x="586.4" y="589.4" font-size="9" text-anchor="start" fill="#231f20">Ex: No ATP</text>
<line x1="556.6" y1="601.7" x2="582.9" y2="601.7" stroke="#8e9292" stroke-width="1.5"/>
<text x="586.4" y="605" font-size="9" text-anchor="start" fill="#231f20">Em:100 µM ATP</text>
<line x1="556.6" y1="617.1" x2="582.9" y2="617.1" stroke="#222222" stroke-width="1.4"/>
<text x="586.4" y="620.4" font-size="9" text-anchor="start" fill="#231f20">Em: No ATP</text>
<line x1="405.2" y1="818" x2="405.2" y2="1011.2" stroke="#231f20" stroke-width="1"/>
<line x1="398.7" y1="817.9" x2="405.2" y2="817.9" stroke="#231f20" stroke-width="1"/>
<text x="393.7" y="821.7" font-size="10.8" text-anchor="end" fill="#231f20">1.0</text>
<line x1="398.7" y1="856.56" x2="405.2" y2="856.56" stroke="#231f20" stroke-width="1"/>
<text x="393.7" y="860.36" font-size="10.8" text-anchor="end" fill="#231f20">0.8</text>
<line x1="398.7" y1="895.22" x2="405.2" y2="895.22" stroke="#231f20" stroke-width="1"/>
<text x="393.7" y="899.02" font-size="10.8" text-anchor="end" fill="#231f20">0.6</text>
<line x1="398.7" y1="933.88" x2="405.2" y2="933.88" stroke="#231f20" stroke-width="1"/>
<text x="393.7" y="937.68" font-size="10.8" text-anchor="end" fill="#231f20">0.4</text>
<line x1="398.7" y1="972.54" x2="405.2" y2="972.54" stroke="#231f20" stroke-width="1"/>
<text x="393.7" y="976.34" font-size="10.8" text-anchor="end" fill="#231f20">0.2</text>
<line x1="398.7" y1="1011.2" x2="405.2" y2="1011.2" stroke="#231f20" stroke-width="1"/>
<text x="393.7" y="1015" font-size="10.8" text-anchor="end" fill="#231f20">0.0</text>
<line x1="405.2" y1="1011.2" x2="661.7" y2="1011.2" stroke="#231f20" stroke-width="1"/>
<line x1="405.2" y1="1011.2" x2="405.2" y2="1016.2" stroke="#231f20" stroke-width="1"/>
<text x="405.2" y="1031" font-size="10.8" text-anchor="middle" fill="#231f20">420</text>
<line x1="430.8" y1="1011.2" x2="430.8" y2="1016.2" stroke="#231f20" stroke-width="1"/>
<text x="430.8" y="1031" font-size="10.8" text-anchor="middle" fill="#231f20">440</text>
<line x1="456.4" y1="1011.2" x2="456.4" y2="1016.2" stroke="#231f20" stroke-width="1"/>
<text x="456.4" y="1031" font-size="10.8" text-anchor="middle" fill="#231f20">460</text>
<line x1="482" y1="1011.2" x2="482" y2="1016.2" stroke="#231f20" stroke-width="1"/>
<text x="482" y="1031" font-size="10.8" text-anchor="middle" fill="#231f20">480</text>
<line x1="507.6" y1="1011.2" x2="507.6" y2="1016.2" stroke="#231f20" stroke-width="1"/>
<text x="507.6" y="1031" font-size="10.8" text-anchor="middle" fill="#231f20">500</text>
<line x1="533.2" y1="1011.2" x2="533.2" y2="1016.2" stroke="#231f20" stroke-width="1"/>
<text x="533.2" y="1031" font-size="10.8" text-anchor="middle" fill="#231f20">520</text>
<line x1="558.8" y1="1011.2" x2="558.8" y2="1016.2" stroke="#231f20" stroke-width="1"/>
<text x="558.8" y="1031" font-size="10.8" text-anchor="middle" fill="#231f20">540</text>
<line x1="584.4" y1="1011.2" x2="584.4" y2="1016.2" stroke="#231f20" stroke-width="1"/>
<text x="584.4" y="1031" font-size="10.8" text-anchor="middle" fill="#231f20">560</text>
<line x1="610" y1="1011.2" x2="610" y2="1016.2" stroke="#231f20" stroke-width="1"/>
<text x="610" y="1031" font-size="10.8" text-anchor="middle" fill="#231f20">580</text>
<line x1="635.6" y1="1011.2" x2="635.6" y2="1016.2" stroke="#231f20" stroke-width="1"/>
<text x="635.6" y="1031" font-size="10.8" text-anchor="middle" fill="#231f20">600</text>
<line x1="661.2" y1="1011.2" x2="661.2" y2="1016.2" stroke="#231f20" stroke-width="1"/>
<text x="661.2" y="1031" font-size="10.8" text-anchor="middle" fill="#231f20">620</text>
<text x="535.4" y="1047" font-size="10.85" text-anchor="middle" fill="#231f20">Wavelength (nm)</text>
<text transform="translate(369.3,908) rotate(-90)" font-size="11.1" text-anchor="middle" fill="#231f20">Fluorescence (a.u.)</text>
<text x="414.6" y="823.5" font-size="9" fill="#231f20">iATPSnFR<tspan font-size="6.2" dy="-3.6">1.0</tspan></text>
<polyline points="418,899.09 430.8,941.42 443.6,947.22 456.4,920.35 469.2,900.63 482,874.92 494.8,843.03 507.6,849.99" fill="none" stroke="#5a6fcc" stroke-width="1.1"/>
<polyline points="418,905.27 430.8,955.34 443.6,968.67 456.4,953.21 469.2,938.91 482,922.28 494.8,902.95 507.6,906.43" fill="none" stroke="#2e3588" stroke-width="1.2"/>
<path d="M507.6,915.13 C508.03,911.17 509.31,899.18 510.16,891.35 C511.01,883.53 511.87,874.92 512.72,868.16 C513.57,861.39 514.43,855.43 515.28,850.76 C516.13,846.09 516.99,842.55 517.84,840.13 C518.69,837.71 519.55,837.07 520.4,836.26 C521.25,835.46 522.11,834.97 522.96,835.3 C523.81,835.62 524.67,836.26 525.52,838.2 C526.37,840.13 527.23,843.19 528.08,846.89 C528.93,850.6 529.57,854.3 530.64,860.43 C531.71,866.55 533.2,876.21 534.48,883.62 C535.76,891.03 537.04,898.44 538.32,904.88 C539.6,911.33 540.88,917.13 542.16,922.28 C543.44,927.44 544.51,931.95 546,935.81 C547.49,939.68 549.41,942.9 551.12,945.48 C552.83,948.06 554.53,949.34 556.24,951.28 C557.95,953.21 559.65,955.14 561.36,957.08 C563.07,959.01 564.77,960.62 566.48,962.88 C568.19,965.13 569.68,967.87 571.6,970.61 C573.52,973.35 575.87,976.73 578,979.31 C580.13,981.88 582.27,983.98 584.4,986.07 C586.53,988.17 588.67,990.19 590.8,991.87 C592.93,993.55 595.07,994.9 597.2,996.12 C599.33,997.35 601.47,998.31 603.6,999.22 C605.73,1000.12 606.8,1000.6 610,1001.54 C613.2,1002.47 618.53,1003.92 622.8,1004.82 C627.07,1005.72 631.33,1006.3 635.6,1006.95 C639.87,1007.59 644.13,1008.17 648.4,1008.69 C652.67,1009.2 659.07,1009.81 661.2,1010.04" fill="none" stroke="#8e9292" stroke-width="1.2"/>
<path d="M507.6,972.73 C508.03,971.09 509.31,966.13 510.16,962.88 C511.01,959.62 511.87,955.95 512.72,953.21 C513.57,950.47 514.43,948.38 515.28,946.44 C516.13,944.51 516.99,942.74 517.84,941.61 C518.69,940.48 519.55,939.94 520.4,939.68 C521.25,939.42 522.11,939.58 522.96,940.07 C523.81,940.55 524.67,941.35 525.52,942.58 C526.37,943.8 527.01,945.16 528.08,947.41 C529.15,949.67 530.64,953.21 531.92,956.11 C533.2,959.01 534.27,961.91 535.76,964.81 C537.25,967.71 539.17,971.09 540.88,973.51 C542.59,975.92 544.08,977.53 546,979.31 C547.92,981.08 550.27,982.85 552.4,984.14 C554.53,985.43 556.67,986.07 558.8,987.04 C560.93,988 563.07,988.97 565.2,989.94 C567.33,990.9 569.47,991.81 571.6,992.84 C573.73,993.87 575.87,995 578,996.12 C580.13,997.25 582.27,998.57 584.4,999.6 C586.53,1000.63 588.67,1001.54 590.8,1002.31 C592.93,1003.08 594,1003.53 597.2,1004.24 C600.4,1004.95 605.73,1005.92 610,1006.56 C614.27,1007.21 618.53,1007.66 622.8,1008.11 C627.07,1008.56 631.33,1008.94 635.6,1009.27 C639.87,1009.59 644.13,1009.81 648.4,1010.04 C652.67,1010.27 659.07,1010.52 661.2,1010.62" fill="none" stroke="#222222" stroke-width="1.4"/>
<line x1="565.8" y1="836.9" x2="589.5" y2="836.9" stroke="#5a6fcc" stroke-width="1.1"/>
<text x="593.8" y="840.2" font-size="9" text-anchor="start" fill="#231f20">Ex:100 µM ATP</text>
<line x1="565.8" y1="849.8" x2="589.5" y2="849.8" stroke="#2e3588" stroke-width="1.2"/>
<text x="593.8" y="853.1" font-size="9" text-anchor="start" fill="#231f20">Ex: No ATP</text>
<line x1="565.8" y1="863.7" x2="589.5" y2="863.7" stroke="#8e9292" stroke-width="1.5"/>
<text x="593.8" y="867" font-size="9" text-anchor="start" fill="#231f20">Em:100 µM ATP</text>
<line x1="565.8" y1="876.6" x2="589.5" y2="876.6" stroke="#222222" stroke-width="1.4"/>
<text x="593.8" y="879.9" font-size="9" text-anchor="start" fill="#231f20">Em: No ATP</text>
<line x1="49.6" y1="818.6" x2="49.6" y2="1011" stroke="#231f20" stroke-width="1"/>
<line x1="43.1" y1="818.2" x2="49.6" y2="818.2" stroke="#231f20" stroke-width="1"/>
<text x="36.9" y="822" font-size="10.8" text-anchor="end" fill="#231f20">3.0</text>
<line x1="43.1" y1="845.7" x2="49.6" y2="845.7" stroke="#231f20" stroke-width="1"/>
<text x="36.9" y="849.5" font-size="10.8" text-anchor="end" fill="#231f20">2.5</text>
<line x1="43.1" y1="873.2" x2="49.6" y2="873.2" stroke="#231f20" stroke-width="1"/>
<text x="36.9" y="877" font-size="10.8" text-anchor="end" fill="#231f20">2.0</text>
<line x1="43.1" y1="900.7" x2="49.6" y2="900.7" stroke="#231f20" stroke-width="1"/>
<text x="36.9" y="904.5" font-size="10.8" text-anchor="end" fill="#231f20">1.5</text>
<line x1="43.1" y1="928.2" x2="49.6" y2="928.2" stroke="#231f20" stroke-width="1"/>
<text x="36.9" y="932" font-size="10.8" text-anchor="end" fill="#231f20">1.0</text>
<line x1="43.1" y1="955.7" x2="49.6" y2="955.7" stroke="#231f20" stroke-width="1"/>
<text x="36.9" y="959.5" font-size="10.8" text-anchor="end" fill="#231f20">0.5</text>
<line x1="43.1" y1="983.2" x2="49.6" y2="983.2" stroke="#231f20" stroke-width="1"/>
<text x="36.9" y="987" font-size="10.8" text-anchor="end" fill="#231f20">0.0</text>
<line x1="43.1" y1="1010.7" x2="49.6" y2="1010.7" stroke="#231f20" stroke-width="1"/>
<text x="36.9" y="1014.5" font-size="10.8" text-anchor="end" fill="#231f20">−0.5</text>
<line x1="49.6" y1="1011" x2="304.15" y2="1011" stroke="#231f20" stroke-width="1"/>
<line x1="49.6" y1="1011" x2="49.6" y2="1017" stroke="#231f20" stroke-width="1"/>
<line x1="61.43" y1="1011" x2="61.43" y2="1014" stroke="#231f20" stroke-width="0.8"/>
<line x1="68.35" y1="1011" x2="68.35" y2="1014" stroke="#231f20" stroke-width="0.8"/>
<line x1="73.26" y1="1011" x2="73.26" y2="1014" stroke="#231f20" stroke-width="0.8"/>
<line x1="77.07" y1="1011" x2="77.07" y2="1014" stroke="#231f20" stroke-width="0.8"/>
<line x1="80.18" y1="1011" x2="80.18" y2="1014" stroke="#231f20" stroke-width="0.8"/>
<line x1="82.81" y1="1011" x2="82.81" y2="1014" stroke="#231f20" stroke-width="0.8"/>
<line x1="85.09" y1="1011" x2="85.09" y2="1014" stroke="#231f20" stroke-width="0.8"/>
<line x1="87.1" y1="1011" x2="87.1" y2="1014" stroke="#231f20" stroke-width="0.8"/>
<line x1="88.9" y1="1011" x2="88.9" y2="1017" stroke="#231f20" stroke-width="1"/>
<line x1="100.73" y1="1011" x2="100.73" y2="1014" stroke="#231f20" stroke-width="0.8"/>
<line x1="107.65" y1="1011" x2="107.65" y2="1014" stroke="#231f20" stroke-width="0.8"/>
<line x1="112.56" y1="1011" x2="112.56" y2="1014" stroke="#231f20" stroke-width="0.8"/>
<line x1="116.37" y1="1011" x2="116.37" y2="1014" stroke="#231f20" stroke-width="0.8"/>
<line x1="119.48" y1="1011" x2="119.48" y2="1014" stroke="#231f20" stroke-width="0.8"/>
<line x1="122.11" y1="1011" x2="122.11" y2="1014" stroke="#231f20" stroke-width="0.8"/>
<line x1="124.39" y1="1011" x2="124.39" y2="1014" stroke="#231f20" stroke-width="0.8"/>
<line x1="126.4" y1="1011" x2="126.4" y2="1014" stroke="#231f20" stroke-width="0.8"/>
<line x1="128.2" y1="1011" x2="128.2" y2="1017" stroke="#231f20" stroke-width="1"/>
<line x1="140.03" y1="1011" x2="140.03" y2="1014" stroke="#231f20" stroke-width="0.8"/>
<line x1="146.95" y1="1011" x2="146.95" y2="1014" stroke="#231f20" stroke-width="0.8"/>
<line x1="151.86" y1="1011" x2="151.86" y2="1014" stroke="#231f20" stroke-width="0.8"/>
<line x1="155.67" y1="1011" x2="155.67" y2="1014" stroke="#231f20" stroke-width="0.8"/>
<line x1="158.78" y1="1011" x2="158.78" y2="1014" stroke="#231f20" stroke-width="0.8"/>
<line x1="161.41" y1="1011" x2="161.41" y2="1014" stroke="#231f20" stroke-width="0.8"/>
<line x1="163.69" y1="1011" x2="163.69" y2="1014" stroke="#231f20" stroke-width="0.8"/>
<line x1="165.7" y1="1011" x2="165.7" y2="1014" stroke="#231f20" stroke-width="0.8"/>
<line x1="167.5" y1="1011" x2="167.5" y2="1017" stroke="#231f20" stroke-width="1"/>
<line x1="179.33" y1="1011" x2="179.33" y2="1014" stroke="#231f20" stroke-width="0.8"/>
<line x1="186.25" y1="1011" x2="186.25" y2="1014" stroke="#231f20" stroke-width="0.8"/>
<line x1="191.16" y1="1011" x2="191.16" y2="1014" stroke="#231f20" stroke-width="0.8"/>
<line x1="194.97" y1="1011" x2="194.97" y2="1014" stroke="#231f20" stroke-width="0.8"/>
<line x1="198.08" y1="1011" x2="198.08" y2="1014" stroke="#231f20" stroke-width="0.8"/>
<line x1="200.71" y1="1011" x2="200.71" y2="1014" stroke="#231f20" stroke-width="0.8"/>
<line x1="202.99" y1="1011" x2="202.99" y2="1014" stroke="#231f20" stroke-width="0.8"/>
<line x1="205" y1="1011" x2="205" y2="1014" stroke="#231f20" stroke-width="0.8"/>
<line x1="206.8" y1="1011" x2="206.8" y2="1017" stroke="#231f20" stroke-width="1"/>
<line x1="218.63" y1="1011" x2="218.63" y2="1014" stroke="#231f20" stroke-width="0.8"/>
<line x1="225.55" y1="1011" x2="225.55" y2="1014" stroke="#231f20" stroke-width="0.8"/>
<line x1="230.46" y1="1011" x2="230.46" y2="1014" stroke="#231f20" stroke-width="0.8"/>
<line x1="234.27" y1="1011" x2="234.27" y2="1014" stroke="#231f20" stroke-width="0.8"/>
<line x1="237.38" y1="1011" x2="237.38" y2="1014" stroke="#231f20" stroke-width="0.8"/>
<line x1="240.01" y1="1011" x2="240.01" y2="1014" stroke="#231f20" stroke-width="0.8"/>
<line x1="242.29" y1="1011" x2="242.29" y2="1014" stroke="#231f20" stroke-width="0.8"/>
<line x1="244.3" y1="1011" x2="244.3" y2="1014" stroke="#231f20" stroke-width="0.8"/>
<line x1="246.1" y1="1011" x2="246.1" y2="1017" stroke="#231f20" stroke-width="1"/>
<line x1="257.93" y1="1011" x2="257.93" y2="1014" stroke="#231f20" stroke-width="0.8"/>
<line x1="264.85" y1="1011" x2="264.85" y2="1014" stroke="#231f20" stroke-width="0.8"/>
<line x1="269.76" y1="1011" x2="269.76" y2="1014" stroke="#231f20" stroke-width="0.8"/>
<line x1="273.57" y1="1011" x2="273.57" y2="1014" stroke="#231f20" stroke-width="0.8"/>
<line x1="276.68" y1="1011" x2="276.68" y2="1014" stroke="#231f20" stroke-width="0.8"/>
<line x1="279.31" y1="1011" x2="279.31" y2="1014" stroke="#231f20" stroke-width="0.8"/>
<line x1="281.59" y1="1011" x2="281.59" y2="1014" stroke="#231f20" stroke-width="0.8"/>
<line x1="283.6" y1="1011" x2="283.6" y2="1014" stroke="#231f20" stroke-width="0.8"/>
<line x1="285.4" y1="1011" x2="285.4" y2="1017" stroke="#231f20" stroke-width="1"/>
<line x1="297.23" y1="1011" x2="297.23" y2="1014" stroke="#231f20" stroke-width="0.8"/>
<text x="49.6" y="1030.2" font-size="10.8" text-anchor="middle" fill="#231f20">0.01</text>
<text x="88.9" y="1030.2" font-size="10.8" text-anchor="middle" fill="#231f20">0.1</text>
<text x="128.2" y="1030.2" font-size="10.8" text-anchor="middle" fill="#231f20">1</text>
<text x="167.5" y="1030.2" font-size="10.8" text-anchor="middle" fill="#231f20">10</text>
<text x="206.8" y="1030.2" font-size="10.8" text-anchor="middle" fill="#231f20">100</text>
<text x="246.1" y="1030.2" font-size="10.8" text-anchor="middle" fill="#231f20">1000</text>
<text x="285.4" y="1030.2" font-size="10.8" text-anchor="middle" fill="#231f20">10,000</text>
<text transform="translate(11.3,905.4) rotate(-90)" font-size="11.2" text-anchor="middle" fill="#231f20">d<tspan font-style="italic">F</tspan>/<tspan font-style="italic">F</tspan></text>
<text x="176" y="1048.2" font-size="10.8" text-anchor="middle" fill="#231f20">[ATP] µM</text>
<polyline points="69.25,979.9 88.9,978.8 108.55,979.35 128.2,978.25 147.85,978.25 167.5,979.35 187.15,984.3 206.8,994.2 226.45,999.7 246.1,1003.55 265.75,1005.2 285.4,1005.2" fill="none" stroke="#231f20" stroke-width="1.1"/>
<rect x="65.45" y="976.1" width="7.6" height="7.6" fill="#231f20"/>
<rect x="85.1" y="975" width="7.6" height="7.6" fill="#231f20"/>
<rect x="104.75" y="975.55" width="7.6" height="7.6" fill="#231f20"/>
<rect x="124.4" y="974.45" width="7.6" height="7.6" fill="#231f20"/>
<rect x="144.05" y="974.45" width="7.6" height="7.6" fill="#231f20"/>
<rect x="163.7" y="975.55" width="7.6" height="7.6" fill="#231f20"/>
<rect x="183.35" y="980.5" width="7.6" height="7.6" fill="#231f20"/>
<rect x="203" y="990.4" width="7.6" height="7.6" fill="#231f20"/>
<rect x="222.65" y="995.9" width="7.6" height="7.6" fill="#231f20"/>
<rect x="242.3" y="999.75" width="7.6" height="7.6" fill="#231f20"/>
<rect x="261.95" y="1001.4" width="7.6" height="7.6" fill="#231f20"/>
<rect x="281.6" y="1001.4" width="7.6" height="7.6" fill="#231f20"/>
<polyline points="69.25,980.45 88.9,979.9 108.55,981 128.2,978.8 147.85,977.7 167.5,970 187.15,964.5 206.8,960.65 226.45,964.5 246.1,972.2 265.75,982.38 285.4,986.23" fill="none" stroke="#231f20" stroke-width="1.1"/>
<circle cx="69.25" cy="980.45" r="4.3" fill="#231f20" stroke="#231f20" stroke-width="0.8"/>
<circle cx="88.9" cy="979.9" r="4.3" fill="#231f20" stroke="#231f20" stroke-width="0.8"/>
<circle cx="108.55" cy="981" r="4.3" fill="#231f20" stroke="#231f20" stroke-width="0.8"/>
<circle cx="128.2" cy="978.8" r="4.3" fill="#231f20" stroke="#231f20" stroke-width="0.8"/>
<circle cx="147.85" cy="977.7" r="4.3" fill="#231f20" stroke="#231f20" stroke-width="0.8"/>
<circle cx="167.5" cy="970" r="4.3" fill="#231f20" stroke="#231f20" stroke-width="0.8"/>
<circle cx="187.15" cy="964.5" r="4.3" fill="#231f20" stroke="#231f20" stroke-width="0.8"/>
<circle cx="206.8" cy="960.65" r="4.3" fill="#231f20" stroke="#231f20" stroke-width="0.8"/>
<circle cx="226.45" cy="964.5" r="4.3" fill="#231f20" stroke="#231f20" stroke-width="0.8"/>
<circle cx="246.1" cy="972.2" r="4.3" fill="#231f20" stroke="#231f20" stroke-width="0.8"/>
<circle cx="265.75" cy="982.38" r="4.3" fill="#231f20" stroke="#231f20" stroke-width="0.8"/>
<circle cx="285.4" cy="986.23" r="4.3" fill="#231f20" stroke="#231f20" stroke-width="0.8"/>
<polyline points="69.25,974.4 88.9,974.95 108.55,975.5 128.2,974.4 147.85,970 167.5,961.2 187.15,942.5 206.8,923.25 226.45,917.75 246.1,919.4 265.75,926.55 285.4,935.9" fill="none" stroke="#231f20" stroke-width="1.1"/>
<polygon points="69.25,969.36 64.65,977.76 73.85,977.76" fill="#231f20"/>
<polygon points="88.9,969.91 84.3,978.31 93.5,978.31" fill="#231f20"/>
<polygon points="108.55,970.46 103.95,978.86 113.15,978.86" fill="#231f20"/>
<polygon points="128.2,969.36 123.6,977.76 132.8,977.76" fill="#231f20"/>
<polygon points="147.85,964.96 143.25,973.36 152.45,973.36" fill="#231f20"/>
<polygon points="167.5,956.16 162.9,964.56 172.1,964.56" fill="#231f20"/>
<polygon points="187.15,937.46 182.55,945.86 191.75,945.86" fill="#231f20"/>
<polygon points="206.8,918.21 202.2,926.61 211.4,926.61" fill="#231f20"/>
<polygon points="226.45,912.71 221.85,921.11 231.05,921.11" fill="#231f20"/>
<polygon points="246.1,914.36 241.5,922.76 250.7,922.76" fill="#231f20"/>
<polygon points="265.75,921.51 261.15,929.91 270.35,929.91" fill="#231f20"/>
<polygon points="285.4,930.86 280.8,939.26 290,939.26" fill="#231f20"/>
<polyline points="69.25,978.25 88.9,978.25 108.55,978.8 128.2,977.7 147.85,975.5 167.5,966.7 187.15,953.5 206.8,899.6 226.45,845.7 246.1,822.6 265.75,824.8 285.4,829.2" fill="none" stroke="#231f20" stroke-width="1.1"/>
<polygon points="69.25,983.29 64.65,974.89 73.85,974.89" fill="#231f20"/>
<polygon points="88.9,983.29 84.3,974.89 93.5,974.89" fill="#231f20"/>
<polygon points="108.55,983.84 103.95,975.44 113.15,975.44" fill="#231f20"/>
<polygon points="128.2,982.74 123.6,974.34 132.8,974.34" fill="#231f20"/>
<polygon points="147.85,980.54 143.25,972.14 152.45,972.14" fill="#231f20"/>
<polygon points="167.5,971.74 162.9,963.34 172.1,963.34" fill="#231f20"/>
<polygon points="187.15,958.54 182.55,950.14 191.75,950.14" fill="#231f20"/>
<polygon points="206.8,904.64 202.2,896.24 211.4,896.24" fill="#231f20"/>
<polygon points="226.45,850.74 221.85,842.34 231.05,842.34" fill="#231f20"/>
<polygon points="246.1,827.64 241.5,819.24 250.7,819.24" fill="#231f20"/>
<polygon points="265.75,829.84 261.15,821.44 270.35,821.44" fill="#231f20"/>
<polygon points="285.4,834.24 280.8,825.84 290,825.84" fill="#231f20"/>
<polyline points="69.25,984.3 88.9,981 108.55,979.9 128.2,978.25 147.85,974.95 167.5,962.85 187.15,928.75 206.8,886.95 226.45,867.7 246.1,863.3 265.75,869.35 285.4,882.55" fill="none" stroke="#231f20" stroke-width="1.1"/>
<polygon points="69.25,979.1 73.45,984.3 69.25,989.5 65.05,984.3" fill="#231f20"/>
<polygon points="88.9,975.8 93.1,981 88.9,986.2 84.7,981" fill="#231f20"/>
<polygon points="108.55,974.7 112.75,979.9 108.55,985.1 104.35,979.9" fill="#231f20"/>
<polygon points="128.2,973.05 132.4,978.25 128.2,983.45 124,978.25" fill="#231f20"/>
<polygon points="147.85,969.75 152.05,974.95 147.85,980.15 143.65,974.95" fill="#231f20"/>
<polygon points="167.5,957.65 171.7,962.85 167.5,968.05 163.3,962.85" fill="#231f20"/>
<polygon points="187.15,923.55 191.35,928.75 187.15,933.95 182.95,928.75" fill="#231f20"/>
<polygon points="206.8,881.75 211,886.95 206.8,892.15 202.6,886.95" fill="#231f20"/>
<polygon points="226.45,862.5 230.65,867.7 226.45,872.9 222.25,867.7" fill="#231f20"/>
<polygon points="246.1,858.1 250.3,863.3 246.1,868.5 241.9,863.3" fill="#231f20"/>
<polygon points="265.75,864.15 269.95,869.35 265.75,874.55 261.55,869.35" fill="#231f20"/>
<polygon points="285.4,877.35 289.6,882.55 285.4,887.75 281.2,882.55" fill="#231f20"/>
<line x1="296.9" y1="991.1" x2="296.9" y2="837" stroke="#231f20" stroke-width="1.1"/>
<polygon points="296.9,831.8 294.4,840 299.4,840" fill="#231f20"/>
<text transform="translate(311.0,910.0) rotate(-90)" font-size="11" text-anchor="middle" fill="#231f20">Improvement</text>
<line x1="55.1" y1="824.8" x2="78" y2="824.8" stroke="#231f20" stroke-width="1.1"/>
<rect x="62.7" y="821" width="7.6" height="7.6" fill="#231f20"/>
<line x1="55.1" y1="838" x2="78" y2="838" stroke="#231f20" stroke-width="1.1"/>
<circle cx="66.5" cy="838" r="4" fill="#231f20" stroke="#231f20" stroke-width="0.8"/>
<line x1="55.1" y1="850.4" x2="78" y2="850.4" stroke="#231f20" stroke-width="1.1"/>
<polygon points="66.5,845.36 61.9,853.76 71.1,853.76" fill="#231f20"/>
<line x1="55.1" y1="863.3" x2="78" y2="863.3" stroke="#231f20" stroke-width="1.1"/>
<polygon points="66.5,868.34 61.9,859.94 71.1,859.94" fill="#231f20"/>
<line x1="55.1" y1="876.2" x2="78" y2="876.2" stroke="#231f20" stroke-width="1.1"/>
<polygon points="66.5,871 70.7,876.2 66.5,881.4 62.3,876.2" fill="#231f20"/>
<text x="83.1" y="828" font-size="9" text-anchor="start" fill="#231f20">Initial cpSFGFP - Step 2</text>
<text x="83.1" y="841.2" font-size="9" text-anchor="start" fill="#231f20">Round 1</text>
<text x="83.1" y="853.6" font-size="9" text-anchor="start" fill="#231f20">Round 2</text>
<text x="83.1" y="866.5" font-size="9" text-anchor="start" fill="#231f20">Round 3</text>
<text x="83.1" y="879.4" font-size="9" text-anchor="start" fill="#231f20">Round 4</text>
<polyline points="121.6,833.5 124.3,833.5 124.3,853 121.6,853" fill="none" stroke="#231f20" stroke-width="0.9"/>
<polyline points="121.6,859.6 124.3,859.6 124.3,879.4 121.6,879.4" fill="none" stroke="#231f20" stroke-width="0.9"/>
<text x="130.8" y="847.4" font-size="9" text-anchor="start" fill="#231f20">Step 3</text>
<text x="130.8" y="873.4" font-size="9" text-anchor="start" fill="#231f20">Step 4</text>
<rect x="9.4" y="246.9" width="85.4" height="13.1" fill="#434d9e"/>
<rect x="94.8" y="246.9" width="193.2" height="13.1" fill="#00a84a"/>
<rect x="288" y="246.9" width="18.7" height="13.1" fill="#434d9e"/>
<text x="196.8" y="256.5" font-size="9.2" text-anchor="middle" fill="#ffffff">cpGFP</text>
<text x="86.7" y="242.9" font-size="10.8" text-anchor="end" fill="#231f20">Ps3 epsilon 1-106</text>
<text x="96.2" y="232.4" font-size="10.8" text-anchor="middle" fill="#231f20">TR</text>
<line x1="93.5" y1="235.6" x2="93.5" y2="242.1" stroke="#231f20" stroke-width="1.1"/>
<polygon points="93.5,244.6 90.9,240.1 93.5,241.8 96.1,240.1" fill="#231f20"/>
<text x="198.4" y="241" font-size="10.8" text-anchor="middle" fill="#231f20">QUEEN</text>
<text x="287.5" y="232.4" font-size="10.8" text-anchor="middle" fill="#231f20">LG</text>
<line x1="287.5" y1="235.6" x2="287.5" y2="242.1" stroke="#231f20" stroke-width="1.1"/>
<polygon points="287.5,244.6 284.9,240.1 287.5,241.8 290.1,240.1" fill="#231f20"/>
<text x="295.7" y="242.9" font-size="10.8" text-anchor="start" fill="#231f20">111-133</text>
<line x1="127.1" y1="266.2" x2="127.1" y2="305" stroke="#231f20" stroke-width="1.9"/>
<polyline points="122.2,297.5 127.1,305.5 132,297.5" fill="none" stroke="#231f20" stroke-width="2.3" stroke-linejoin="miter"/>
<text x="133.2" y="273.8" font-size="10.95" text-anchor="start" fill="#231f20">Step 1: optimize linkers for 488 nm</text>
<text x="133.2" y="286.8" font-size="10.95" text-anchor="start" fill="#231f20">excitation (~8500 mutants)</text>
<rect x="9.4" y="315.1" width="85.4" height="13.1" fill="#434d9e"/>
<rect x="94.8" y="315.1" width="194.2" height="13.1" fill="#00a84a"/>
<rect x="289" y="315.1" width="17.7" height="13.1" fill="#434d9e"/>
<text x="196.8" y="324.7" font-size="9.2" text-anchor="middle" fill="#ffffff">cpGFP</text>
<text x="93.6" y="299.6" font-size="10.8" text-anchor="middle" fill="#231f20">AAKT</text>
<line x1="94.4" y1="303.6" x2="94.4" y2="310.5" stroke="#231f20" stroke-width="1.1"/>
<polygon points="94.4,313 91.8,308.5 94.4,310.2 97,308.5" fill="#231f20"/>
<text x="288.8" y="300.1" font-size="10.8" text-anchor="middle" fill="#231f20">LHH</text>
<line x1="289" y1="303.6" x2="289" y2="310.5" stroke="#231f20" stroke-width="1.1"/>
<polygon points="289,313 286.4,308.5 289,310.2 291.6,308.5" fill="#231f20"/>
<line x1="127.4" y1="332" x2="127.4" y2="364.9" stroke="#231f20" stroke-width="1.9"/>
<polyline points="122.5,357.4 127.4,365.4 132.3,357.4" fill="none" stroke="#231f20" stroke-width="2.3" stroke-linejoin="miter"/>
<text x="134" y="350.4" font-size="10.95" text-anchor="start" fill="#231f20">Step 2: replace FP</text>
<rect x="9.4" y="369.9" width="85.4" height="13.5" fill="#434d9e"/>
<rect x="94.8" y="369.9" width="194.1" height="13.5" fill="#00a84a"/>
<rect x="288.9" y="369.9" width="17.8" height="13.5" fill="#434d9e"/>
<text x="196.8" y="379.9" font-size="9.2" text-anchor="middle" fill="#ffffff">cpSFGFP</text>
<text x="93.6" y="355.5" font-size="10.8" text-anchor="middle" fill="#231f20">AAKT</text>
<line x1="94.4" y1="358.6" x2="94.4" y2="365.4" stroke="#231f20" stroke-width="1.1"/>
<polygon points="94.4,367.9 91.8,363.4 94.4,365.1 97,363.4" fill="#231f20"/>
<text x="288.8" y="355.3" font-size="10.8" text-anchor="middle" fill="#231f20">LHH</text>
<line x1="288.6" y1="358.6" x2="288.6" y2="365.4" stroke="#231f20" stroke-width="1.1"/>
<polygon points="288.6,367.9 286,363.4 288.6,365.1 291.2,363.4" fill="#231f20"/>
<line x1="127.4" y1="392.3" x2="127.4" y2="436.8" stroke="#231f20" stroke-width="1.9"/>
<polyline points="122.5,429.3 127.4,437.3 132.3,429.3" fill="none" stroke="#231f20" stroke-width="2.3" stroke-linejoin="miter"/>
<text x="133.2" y="402.6" font-size="10.95" text-anchor="start" fill="#231f20">Step 3: optimize linkers for</text>
<text x="133.2" y="415.5" font-size="10.95" text-anchor="start" fill="#231f20">488 nm excitation</text>
<text x="133.2" y="428.7" font-size="10.95" text-anchor="start" fill="#231f20">(~7000 mutants)</text>
<rect x="9.4" y="444.6" width="85.4" height="13.2" fill="#434d9e"/>
<rect x="94.8" y="444.6" width="193.2" height="13.2" fill="#00a84a"/>
<rect x="288" y="444.6" width="18.7" height="13.2" fill="#434d9e"/>
<text x="196.8" y="454.3" font-size="9.2" text-anchor="middle" fill="#ffffff">cpSFGFP</text>
<text x="94.1" y="432.2" font-size="10.8" text-anchor="middle" fill="#231f20">VL</text>
<line x1="94.1" y1="434.6" x2="94.1" y2="440.9" stroke="#231f20" stroke-width="1.1"/>
<polygon points="94.1,443.4 91.5,438.9 94.1,440.6 96.7,438.9" fill="#231f20"/>
<text x="287.6" y="431.3" font-size="10.8" text-anchor="middle" fill="#231f20">GLH</text>
<line x1="287.8" y1="434.6" x2="287.8" y2="440.9" stroke="#231f20" stroke-width="1.1"/>
<polygon points="287.8,443.4 285.2,438.9 287.8,440.6 290.4,438.9" fill="#231f20"/>
<line x1="127.1" y1="464.8" x2="127.1" y2="507" stroke="#231f20" stroke-width="1.9"/>
<polyline points="122.2,499.5 127.1,507.5 132,499.5" fill="none" stroke="#231f20" stroke-width="2.3" stroke-linejoin="miter"/>
<text x="133.2" y="479.7" font-size="10.95" text-anchor="start" fill="#231f20">Step 4: rational design</text>
<text x="133.2" y="492.8" font-size="10.95" text-anchor="start" fill="#231f20">(~1000 mutants)</text>
<rect x="9.4" y="523" width="85.4" height="13.3" fill="#434d9e"/>
<rect x="94.8" y="523" width="193.1" height="13.3" fill="#00a84a"/>
<rect x="287.9" y="523" width="18.8" height="13.3" fill="#434d9e"/>
<text x="196.8" y="532.8" font-size="9.2" text-anchor="middle" fill="#ffffff">cpSFGFP</text>
<text x="17.2" y="510.6" font-size="10.8" text-anchor="middle" fill="#231f20">T9V</text>
<line x1="17.4" y1="513.2" x2="17.4" y2="519.5" stroke="#231f20" stroke-width="1.1"/>
<polygon points="17.4,522 14.8,517.5 17.4,519.2 20,517.5" fill="#231f20"/>
<text x="70.2" y="510.6" font-size="10.8" text-anchor="middle" fill="#231f20">N78Y</text>
<line x1="71.1" y1="513.2" x2="71.1" y2="519.5" stroke="#231f20" stroke-width="1.1"/>
<polygon points="71.1,522 68.5,517.5 71.1,519.2 73.7,517.5" fill="#231f20"/>
<text x="94.8" y="510.6" font-size="10.8" text-anchor="middle" fill="#231f20">VL</text>
<line x1="94.2" y1="513.2" x2="94.2" y2="519.5" stroke="#231f20" stroke-width="1.1"/>
<polygon points="94.2,522 91.6,517.5 94.2,519.2 96.8,517.5" fill="#231f20"/>
<text x="287.6" y="510.7" font-size="10.8" text-anchor="middle" fill="#231f20">GLH</text>
<line x1="287.9" y1="513.2" x2="287.9" y2="519.5" stroke="#231f20" stroke-width="1.1"/>
<polygon points="287.9,522 285.3,517.5 287.9,519.2 290.5,517.5" fill="#231f20"/>
<text x="172.8" y="517.8" font-size="9" fill="#231f20">iATPSnFR<tspan font-size="6" dy="-3.6">1.0</tspan></text>
<rect x="9.4" y="582.3" width="85.4" height="13.2" fill="#434d9e"/>
<rect x="94.8" y="582.3" width="193.1" height="13.2" fill="#00a84a"/>
<rect x="287.9" y="582.3" width="18.8" height="13.2" fill="#434d9e"/>
<text x="196.8" y="592" font-size="9.2" text-anchor="middle" fill="#ffffff">cpSFGFP</text>
<text x="17.2" y="568.5" font-size="10.8" text-anchor="middle" fill="#231f20">T9V</text>
<line x1="17.4" y1="571.5" x2="17.4" y2="578.3" stroke="#231f20" stroke-width="1.1"/>
<polygon points="17.4,580.8 14.8,576.3 17.4,578 20,576.3" fill="#231f20"/>
<text x="70.2" y="568.5" font-size="10.8" text-anchor="middle" fill="#231f20">N78Y</text>
<line x1="71.1" y1="571.5" x2="71.1" y2="578.3" stroke="#231f20" stroke-width="1.1"/>
<polygon points="71.1,580.8 68.5,576.3 71.1,578 73.7,576.3" fill="#231f20"/>
<text x="94.8" y="568.5" font-size="10.8" text-anchor="middle" fill="#231f20">VL</text>
<line x1="94.2" y1="571.5" x2="94.2" y2="578.3" stroke="#231f20" stroke-width="1.1"/>
<polygon points="94.2,580.8 91.6,576.3 94.2,578 96.8,576.3" fill="#231f20"/>
<text x="287.6" y="568.8" font-size="10.8" text-anchor="middle" fill="#231f20">GLH</text>
<line x1="287.9" y1="571.5" x2="287.9" y2="578.3" stroke="#231f20" stroke-width="1.1"/>
<polygon points="287.9,580.8 285.3,576.3 287.9,578 290.5,576.3" fill="#231f20"/>
<text x="172.8" y="576.9" font-size="9" fill="#231f20">iATPSnFR<tspan font-size="6" dy="-3.6">1.1</tspan></text>
<line x1="78.7" y1="601.9" x2="78.7" y2="608.3" stroke="#231f20" stroke-width="1.1"/>
<polygon points="78.7,599.4 76.1,603.9 78.7,602.2 81.3,603.9" fill="#231f20"/>
<text x="79" y="618.5" font-size="10.8" text-anchor="middle" fill="#231f20">A95K</text>
<line x1="297.6" y1="601.8" x2="297.6" y2="608" stroke="#231f20" stroke-width="1.1"/>
<polygon points="297.6,599.3 295,603.8 297.6,602.1 300.2,603.8" fill="#231f20"/>
<text x="297.6" y="617.2" font-size="10.8" text-anchor="middle" fill="#231f20">A119S</text>
<path d="M75.9,33 C75.75,31.83 74.65,28 75,26 C75.35,24 76.5,21.92 78,21 C79.5,20.08 82.17,20.75 84,20.5 C85.83,20.25 87.33,19.42 89,19.5 C90.67,19.58 92.83,20.08 94,21 C95.17,21.92 96.17,23.5 96,25 C95.83,26.5 92.83,28.67 93,30 C93.17,31.33 95.67,32.83 97,33 C98.33,33.17 99.67,31 101,31 C102.33,31 103.83,32.33 105,33 C106.17,33.67 106.67,34.83 108,35 C109.33,35.17 111.33,33.67 113,34 C114.67,34.33 116.67,35.67 118,37 C119.33,38.33 119.67,40.5 121,42 C122.33,43.5 125.17,44.67 126,46 C126.83,47.33 126.83,48.83 126,50 C125.17,51.17 122.67,52 121,53 C119.33,54 117.5,54.67 116,56 C114.5,57.33 113.33,59.33 112,61 C110.67,62.67 108.67,65.17 108,66" fill="none" stroke="#6aae78" stroke-width="1.3" stroke-linecap="round" stroke-linejoin="round"/>
<path d="M47.8,77 C47.58,77.83 46.55,80.67 46.5,82 C46.45,83.33 46.58,84.42 47.5,85 C48.42,85.58 50.75,85 52,85.5 C53.25,86 54.08,86.92 55,88 C55.92,89.08 57.25,90.5 57.5,92 C57.75,93.5 56.25,95.67 56.5,97 C56.75,98.33 57.92,99.17 59,100 C60.08,100.83 61.83,101 63,102 C64.17,103 64.92,105.08 66,106 C67.08,106.92 68.33,107.67 69.5,107.5 C70.67,107.33 71.75,105.75 73,105 C74.25,104.25 75.67,103.5 77,103 C78.33,102.5 79.83,101.83 81,102 C82.17,102.17 82.83,103.67 84,104 C85.17,104.33 87.33,104 88,104" fill="none" stroke="#6aae78" stroke-width="1.3" stroke-linecap="round" stroke-linejoin="round"/>
<path d="M88,104 C88.5,103.33 89.83,101.33 91,100 C92.17,98.67 93.67,97.17 95,96 C96.33,94.83 97.5,94 99,93 C100.5,92 102.67,91.33 104,90 C105.33,88.67 106.67,86.67 107,85 C107.33,83.33 106.17,80.83 106,80" fill="none" stroke="#6aae78" stroke-width="1.2" stroke-linecap="round" stroke-linejoin="round"/>
<path d="M62,71 C61.33,70.5 59,69.33 58,68 C57,66.67 55.67,64.33 56,63 C56.33,61.67 58.5,61.17 60,60 C61.5,58.83 64.17,56.67 65,56" fill="none" stroke="#6aae78" stroke-width="1.2" stroke-linecap="round" stroke-linejoin="round"/>
<path d="M101,34 C100.83,35.33 99.5,39.67 100,42 C100.5,44.33 103.5,45.83 104,48 C104.5,50.17 102.67,53 103,55 C103.33,57 105.5,59.17 106,60" fill="none" stroke="#6aae78" stroke-width="1.2" stroke-linecap="round" stroke-linejoin="round"/>
<path d="M76,36 C75.5,35.17 73.17,32.5 73,31 C72.83,29.5 74.67,27.67 75,27" fill="none" stroke="#6aae78" stroke-width="1.2" stroke-linecap="round" stroke-linejoin="round"/>
<path d="M69,47 C68.58,48.17 67.67,51.83 66.5,54 C65.33,56.17 63.58,58 62,60 C60.42,62 57.83,65 57,66" fill="none" stroke="#3f8a4f" stroke-width="4.9" stroke-linecap="round" stroke-linejoin="round"/>
<path d="M69,47 C68.58,48.17 67.67,51.83 66.5,54 C65.33,56.17 63.58,58 62,60 C60.42,62 57.83,65 57,66" fill="none" stroke="#6aae78" stroke-width="3.6" stroke-linecap="round" stroke-linejoin="round"/>
<path d="M67,42 C66.5,42.5 64.5,44.5 64,45" fill="none" stroke="#3f8a4f" stroke-width="4.1" stroke-linecap="round" stroke-linejoin="round"/>
<path d="M67,42 C66.5,42.5 64.5,44.5 64,45" fill="none" stroke="#6aae78" stroke-width="2.8" stroke-linecap="round" stroke-linejoin="round"/>
<path d="M59,64 C60.33,63 64.33,59.17 67,58 C69.67,56.83 71.83,57.17 75,57 C78.17,56.83 84.17,57 86,57" fill="none" stroke="#3f8a4f" stroke-width="5.1" stroke-linecap="round" stroke-linejoin="round"/>
<path d="M59,64 C60.33,63 64.33,59.17 67,58 C69.67,56.83 71.83,57.17 75,57 C78.17,56.83 84.17,57 86,57" fill="none" stroke="#6aae78" stroke-width="3.8" stroke-linecap="round" stroke-linejoin="round"/>
<path d="M53,73 C54.5,72.5 59.17,70.67 62,70 C64.83,69.33 68.67,69.17 70,69" fill="none" stroke="#3f8a4f" stroke-width="4.3" stroke-linecap="round" stroke-linejoin="round"/>
<path d="M53,73 C54.5,72.5 59.17,70.67 62,70 C64.83,69.33 68.67,69.17 70,69" fill="none" stroke="#6aae78" stroke-width="3" stroke-linecap="round" stroke-linejoin="round"/>
<path d="M77.3,41 C77.18,43.5 76.4,51.33 76.6,56 C76.8,60.67 78.18,66.83 78.5,69" fill="none" stroke="#3f8a4f" stroke-width="5.2" stroke-linecap="round" stroke-linejoin="round"/>
<path d="M77.3,41 C77.18,43.5 76.4,51.33 76.6,56 C76.8,60.67 78.18,66.83 78.5,69" fill="none" stroke="#98d4a2" stroke-width="3.9" stroke-linecap="round" stroke-linejoin="round"/>
<path d="M81.7,40 C81.9,42.33 82.18,49 82.9,54 C83.62,59 85.48,67.33 86,70" fill="none" stroke="#3f8a4f" stroke-width="5.2" stroke-linecap="round" stroke-linejoin="round"/>
<path d="M81.7,40 C81.9,42.33 82.18,49 82.9,54 C83.62,59 85.48,67.33 86,70" fill="none" stroke="#98d4a2" stroke-width="3.9" stroke-linecap="round" stroke-linejoin="round"/>
<path d="M88,37 C88.58,38.67 90.5,43.67 91.5,47 C92.5,50.33 93.42,53.83 94,57 C94.58,60.17 94.83,64.5 95,66" fill="none" stroke="#3f8a4f" stroke-width="4.8" stroke-linecap="round" stroke-linejoin="round"/>
<path d="M88,37 C88.58,38.67 90.5,43.67 91.5,47 C92.5,50.33 93.42,53.83 94,57 C94.58,60.17 94.83,64.5 95,66" fill="none" stroke="#98d4a2" stroke-width="3.5" stroke-linecap="round" stroke-linejoin="round"/>
<polygon points="87,24 92,22.5 96,26 93,30.5 88,29.5" fill="#98d4a2" stroke="#3f8a4f" stroke-width="0.7" stroke-linejoin="round"/>
<polygon points="93,40 98.5,38 102,42.5 98,46.5" fill="#98d4a2" stroke="#3f8a4f" stroke-width="0.7" stroke-linejoin="round"/>
<polygon points="106,37 112,36.5 114,42 108.5,44" fill="#98d4a2" stroke="#3f8a4f" stroke-width="0.7" stroke-linejoin="round"/>
<polygon points="115,45.5 121,44.5 124.5,49.5 120.5,53.5 116,52" fill="#98d4a2" stroke="#3f8a4f" stroke-width="0.7" stroke-linejoin="round"/>
<polygon points="88,48.5 94.5,47.5 98.5,52.5 94,56 89.5,55" fill="#98d4a2" stroke="#3f8a4f" stroke-width="0.7" stroke-linejoin="round"/>
<polygon points="94,57 99.5,56 101,60.5 96.5,63" fill="#98d4a2" stroke="#3f8a4f" stroke-width="0.7" stroke-linejoin="round"/>
<polygon points="110,55.5 115.5,55.5 116.5,59.5 111.5,61.5" fill="#98d4a2" stroke="#3f8a4f" stroke-width="0.7" stroke-linejoin="round"/>
<path d="M55.3,70 C57.58,69.37 63.98,67.15 69,66.2 C74.02,65.25 79.52,64.3 85.4,64.3 C91.28,64.3 101.15,65.88 104.3,66.2" fill="none" stroke="#3f8a4f" stroke-width="5.3" stroke-linecap="round" stroke-linejoin="round"/>
<path d="M55.3,70 C57.58,69.37 63.98,67.15 69,66.2 C74.02,65.25 79.52,64.3 85.4,64.3 C91.28,64.3 101.15,65.88 104.3,66.2" fill="none" stroke="#98d4a2" stroke-width="4" stroke-linecap="round" stroke-linejoin="round"/>
<path d="M47.8,77.5 C51.33,77.08 62.3,76.05 69,75 C75.7,73.95 81.7,72.45 88,71.2 C94.3,69.95 103.67,68.12 106.8,67.5" fill="none" stroke="#3f8a4f" stroke-width="5.7" stroke-linecap="round" stroke-linejoin="round"/>
<path d="M47.8,77.5 C51.33,77.08 62.3,76.05 69,75 C75.7,73.95 81.7,72.45 88,71.2 C94.3,69.95 103.67,68.12 106.8,67.5" fill="none" stroke="#98d4a2" stroke-width="4.4" stroke-linecap="round" stroke-linejoin="round"/>
<path d="M56.6,86.3 C59.73,85.67 69.13,84.17 75.4,82.5 C81.67,80.83 88.97,78.6 94.2,76.3 C99.43,74 104.7,69.97 106.8,68.7" fill="none" stroke="#3f8a4f" stroke-width="5.7" stroke-linecap="round" stroke-linejoin="round"/>
<path d="M56.6,86.3 C59.73,85.67 69.13,84.17 75.4,82.5 C81.67,80.83 88.97,78.6 94.2,76.3 C99.43,74 104.7,69.97 106.8,68.7" fill="none" stroke="#98d4a2" stroke-width="4.4" stroke-linecap="round" stroke-linejoin="round"/>
<path d="M64,92.6 C66.95,91.97 76.03,91.1 81.7,88.8 C87.37,86.5 93.82,82.15 98,78.8 C102.18,75.45 105.33,70.38 106.8,68.7" fill="none" stroke="#3f8a4f" stroke-width="5.3" stroke-linecap="round" stroke-linejoin="round"/>
<path d="M64,92.6 C66.95,91.97 76.03,91.1 81.7,88.8 C87.37,86.5 93.82,82.15 98,78.8 C102.18,75.45 105.33,70.38 106.8,68.7" fill="none" stroke="#98d4a2" stroke-width="4" stroke-linecap="round" stroke-linejoin="round"/>
<path d="M72,98 C74.33,97.5 81.5,97 86,95 C90.5,93 95.5,89.83 99,86 C102.5,82.17 105.67,74.33 107,72" fill="none" stroke="#3f8a4f" stroke-width="4.5" stroke-linecap="round" stroke-linejoin="round"/>
<path d="M72,98 C74.33,97.5 81.5,97 86,95 C90.5,93 95.5,89.83 99,86 C102.5,82.17 105.67,74.33 107,72" fill="none" stroke="#98d4a2" stroke-width="3.2" stroke-linecap="round" stroke-linejoin="round"/>
<path d="M96,94 C96.33,94.67 97.5,96.67 98,98 C98.5,99.33 98.83,101.33 99,102" fill="none" stroke="#4a55c0" stroke-width="1.2" stroke-linecap="round" stroke-linejoin="round"/>
<line x1="89.5" y1="102.5" x2="146" y2="113.2" stroke="#3843a6" stroke-width="5.62" stroke-linecap="butt"/>
<path d="M90.23,98.67 Q89.74,102.54 93.95,107.31 L99.79,108.42 Q95.57,103.65 96.06,99.77 Z" fill="#4a55c0" stroke="#2c3590" stroke-width="0.45"/>
<path d="M99.64,100.45 Q99.15,104.33 103.37,109.1 L109.21,110.2 Q104.99,105.43 105.48,101.56 Z" fill="#4a55c0" stroke="#2c3590" stroke-width="0.45"/>
<path d="M109.06,102.23 Q108.57,106.11 112.79,110.88 L118.63,111.99 Q114.41,107.22 114.9,103.34 Z" fill="#4a55c0" stroke="#2c3590" stroke-width="0.45"/>
<path d="M118.48,104.02 Q117.99,107.89 122.2,112.66 L128.04,113.77 Q123.82,109 124.31,105.12 Z" fill="#4a55c0" stroke="#2c3590" stroke-width="0.45"/>
<path d="M127.89,105.8 Q127.4,109.68 131.62,114.45 L137.46,115.55 Q133.24,110.78 133.73,106.91 Z" fill="#4a55c0" stroke="#2c3590" stroke-width="0.45"/>
<path d="M137.31,107.58 Q136.82,111.46 141.04,116.23 L146.88,117.34 Q142.66,112.57 143.15,108.69 Z" fill="#4a55c0" stroke="#2c3590" stroke-width="0.45"/>
<path d="M146,113 C146.5,113.33 148.08,114.33 149,115 C149.92,115.67 151.08,116.67 151.5,117" fill="none" stroke="#4a55c0" stroke-width="1.3" stroke-linecap="round" stroke-linejoin="round"/>
<line x1="97" y1="100" x2="97" y2="146" stroke="#3843a6" stroke-width="7.06" stroke-linecap="butt"/>
<path d="M101.9,100 Q97,100.23 92.1,105.06 L92.1,110.76 Q97,105.93 101.9,105.7 Z" fill="#4a55c0" stroke="#2c3590" stroke-width="0.45"/>
<path d="M101.9,109.2 Q97,109.43 92.1,114.26 L92.1,119.96 Q97,115.13 101.9,114.9 Z" fill="#4a55c0" stroke="#2c3590" stroke-width="0.45"/>
<path d="M101.9,118.4 Q97,118.63 92.1,123.46 L92.1,129.16 Q97,124.33 101.9,124.1 Z" fill="#4a55c0" stroke="#2c3590" stroke-width="0.45"/>
<path d="M101.9,127.6 Q97,127.83 92.1,132.66 L92.1,138.36 Q97,133.53 101.9,133.3 Z" fill="#4a55c0" stroke="#2c3590" stroke-width="0.45"/>
<path d="M101.9,136.8 Q97,137.03 92.1,141.86 L92.1,147.56 Q97,142.73 101.9,142.5 Z" fill="#4a55c0" stroke="#2c3590" stroke-width="0.45"/>
<line x1="96" y1="145" x2="84" y2="160" stroke="#3843a6" stroke-width="5.4" stroke-linecap="butt"/>
<path d="M98.93,147.34 Q95.9,145.12 90.87,145.41 L88.39,148.51 Q93.42,148.22 96.45,150.44 Z" fill="#4a55c0" stroke="#2c3590" stroke-width="0.45"/>
<path d="M94.93,152.34 Q91.9,150.12 86.87,150.41 L84.39,153.51 Q89.42,153.22 92.45,155.44 Z" fill="#4a55c0" stroke="#2c3590" stroke-width="0.45"/>
<path d="M90.93,157.34 Q87.9,155.12 82.87,155.41 L80.39,158.51 Q85.42,158.22 88.45,160.44 Z" fill="#4a55c0" stroke="#2c3590" stroke-width="0.45"/>
<path d="M84,160 C83.67,160.33 82.67,161.67 82,162 C81.33,162.33 80.33,162 80,162" fill="none" stroke="#4a55c0" stroke-width="1.4" stroke-linecap="round" stroke-linejoin="round"/>
<path d="M41.9,129.5 C42.05,128.6 42.07,125.12 42.8,124.1 C43.53,123.08 45.28,123.25 46.3,123.4 C47.32,123.55 48.62,124 48.9,125 C49.18,126 48.15,128.67 48,129.4" fill="none" stroke="#4a55c0" stroke-width="1.3" stroke-linecap="round" stroke-linejoin="round"/>
<path d="M32.3,139 C31.13,140.32 26.62,145.15 25.3,146.9 C23.98,148.65 24.12,149.02 24.4,149.5 C24.68,149.98 25.98,150.23 27,149.8 C28.02,149.37 29.33,147.87 30.5,146.9 C31.67,145.93 33.42,144.48 34,144" fill="none" stroke="#4a55c0" stroke-width="1.3" stroke-linecap="round" stroke-linejoin="round"/>
<path d="M31,156 C30.25,156.13 27.45,156.2 26.5,156.8 C25.55,157.4 24.92,158.48 25.3,159.6 C25.68,160.72 27.52,162.77 28.8,163.5 C30.08,164.23 31.55,164 33,164 C34.45,164 36.75,163.58 37.5,163.5" fill="none" stroke="#4a55c0" stroke-width="1.3" stroke-linecap="round" stroke-linejoin="round"/>
<path d="M31.4,151.3 C32.27,150.87 35,149.28 36.6,148.7 C38.2,148.12 40.27,147.95 41,147.8" fill="none" stroke="#4a55c0" stroke-width="1.1" stroke-linecap="round" stroke-linejoin="round"/>
<path d="M40.1,167 C39.67,167.88 38.67,170.83 37.5,172.3 C36.33,173.77 33.83,174.27 33.1,175.8 C32.37,177.33 33.1,180.55 33.1,181.5" fill="none" stroke="#4a55c0" stroke-width="1.3" stroke-linecap="round" stroke-linejoin="round"/>
<path d="M53.3,170.6 C53,171.77 51.93,175.85 51.5,177.6 C51.07,179.35 50.83,180.52 50.7,181.1" fill="none" stroke="#4a55c0" stroke-width="1.3" stroke-linecap="round" stroke-linejoin="round"/>
<path d="M68,141 C68.58,140.47 70.57,137.72 71.5,137.8 C72.43,137.88 73.42,139.68 73.6,141.5 C73.78,143.32 72.18,146.78 72.6,148.7 C73.02,150.62 74.93,151.7 76.1,153 C77.27,154.3 78.62,155.17 79.6,156.5 C80.58,157.83 81.6,160.25 82,161" fill="none" stroke="#4a55c0" stroke-width="1.4" stroke-linecap="round" stroke-linejoin="round"/>
<path d="M32.3,139 C33.17,138.42 35.75,136.37 37.5,135.5 C39.25,134.63 41.92,134.08 42.8,133.8" fill="none" stroke="#2c3590" stroke-width="4.9" stroke-linecap="round" stroke-linejoin="round"/>
<path d="M32.3,139 C33.17,138.42 35.75,136.37 37.5,135.5 C39.25,134.63 41.92,134.08 42.8,133.8" fill="none" stroke="#4a55c0" stroke-width="3.6" stroke-linecap="round" stroke-linejoin="round"/>
<path d="M48.9,132 C49.92,131.85 53.1,131.1 55,131.1 C56.9,131.1 58.83,131.27 60.3,132 C61.77,132.73 63.22,134.92 63.8,135.5" fill="none" stroke="#2c3590" stroke-width="5.1" stroke-linecap="round" stroke-linejoin="round"/>
<path d="M48.9,132 C49.92,131.85 53.1,131.1 55,131.1 C56.9,131.1 58.83,131.27 60.3,132 C61.77,132.73 63.22,134.92 63.8,135.5" fill="none" stroke="#4a55c0" stroke-width="3.8" stroke-linecap="round" stroke-linejoin="round"/>
<path d="M44.5,134.5 C44.28,135.83 43.63,139.92 43.2,142.5 C42.77,145.08 42.35,147.75 41.9,150 C41.45,152.25 40.73,155 40.5,156" fill="none" stroke="#2c3590" stroke-width="4.3" stroke-linecap="round" stroke-linejoin="round"/>
<path d="M44.5,134.5 C44.28,135.83 43.63,139.92 43.2,142.5 C42.77,145.08 42.35,147.75 41.9,150 C41.45,152.25 40.73,155 40.5,156" fill="none" stroke="#4a55c0" stroke-width="3" stroke-linecap="round" stroke-linejoin="round"/>
<path d="M54,134 C53.17,135.33 50.42,139.67 49,142 C47.58,144.33 46.08,147 45.5,148" fill="none" stroke="#2c3590" stroke-width="4.3" stroke-linecap="round" stroke-linejoin="round"/>
<path d="M54,134 C53.17,135.33 50.42,139.67 49,142 C47.58,144.33 46.08,147 45.5,148" fill="none" stroke="#4a55c0" stroke-width="3" stroke-linecap="round" stroke-linejoin="round"/>
<path d="M61,135.5 C59.67,137.42 55.58,143 53,147 C50.42,151 46.75,157.42 45.5,159.5" fill="none" stroke="#2c3590" stroke-width="4.6" stroke-linecap="round" stroke-linejoin="round"/>
<path d="M61,135.5 C59.67,137.42 55.58,143 53,147 C50.42,151 46.75,157.42 45.5,159.5" fill="none" stroke="#4a55c0" stroke-width="3.3" stroke-linecap="round" stroke-linejoin="round"/>
<path d="M66.5,141.5 C65.17,143.33 61.08,148.83 58.5,152.5 C55.92,156.17 52.25,161.67 51,163.5" fill="none" stroke="#2c3590" stroke-width="4.6" stroke-linecap="round" stroke-linejoin="round"/>
<path d="M66.5,141.5 C65.17,143.33 61.08,148.83 58.5,152.5 C55.92,156.17 52.25,161.67 51,163.5" fill="none" stroke="#4a55c0" stroke-width="3.3" stroke-linecap="round" stroke-linejoin="round"/>
<path d="M64.5,136.4 C65.25,137.72 68.33,141.23 69,144.3 C69.67,147.37 69.25,151.02 68.5,154.8 C67.75,158.58 65.75,163.8 64.5,167 C63.25,170.2 61.58,172.83 61,174" fill="none" stroke="#2c3590" stroke-width="4.7" stroke-linecap="round" stroke-linejoin="round"/>
<path d="M64.5,136.4 C65.25,137.72 68.33,141.23 69,144.3 C69.67,147.37 69.25,151.02 68.5,154.8 C67.75,158.58 65.75,163.8 64.5,167 C63.25,170.2 61.58,172.83 61,174" fill="none" stroke="#4a55c0" stroke-width="3.4" stroke-linecap="round" stroke-linejoin="round"/>
<path d="M39.5,165.5 C40.42,165.5 43.25,165.42 45,165.5 C46.75,165.58 49.17,165.92 50,166" fill="none" stroke="#2c3590" stroke-width="3.9" stroke-linecap="round" stroke-linejoin="round"/>
<path d="M39.5,165.5 C40.42,165.5 43.25,165.42 45,165.5 C46.75,165.58 49.17,165.92 50,166" fill="none" stroke="#4a55c0" stroke-width="2.6" stroke-linecap="round" stroke-linejoin="round"/>
<path d="M59.5,157 C59,158.33 57.33,162.83 56.5,165 C55.67,167.17 54.83,169.17 54.5,170" fill="none" stroke="#7b82c8" stroke-width="3.5" stroke-linecap="round" stroke-linejoin="round"/>
<path d="M59.5,157 C59,158.33 57.33,162.83 56.5,165 C55.67,167.17 54.83,169.17 54.5,170" fill="none" stroke="#a9aee0" stroke-width="2.2" stroke-linecap="round" stroke-linejoin="round"/>
<g transform="translate(161,-1.5)">
<path d="M75.9,33 C75.75,31.83 74.65,28 75,26 C75.35,24 76.5,21.92 78,21 C79.5,20.08 82.17,20.75 84,20.5 C85.83,20.25 87.33,19.42 89,19.5 C90.67,19.58 92.83,20.08 94,21 C95.17,21.92 96.17,23.5 96,25 C95.83,26.5 92.83,28.67 93,30 C93.17,31.33 95.67,32.83 97,33 C98.33,33.17 99.67,31 101,31 C102.33,31 103.83,32.33 105,33 C106.17,33.67 106.67,34.83 108,35 C109.33,35.17 111.33,33.67 113,34 C114.67,34.33 116.67,35.67 118,37 C119.33,38.33 119.67,40.5 121,42 C122.33,43.5 125.17,44.67 126,46 C126.83,47.33 126.83,48.83 126,50 C125.17,51.17 122.67,52 121,53 C119.33,54 117.5,54.67 116,56 C114.5,57.33 113.33,59.33 112,61 C110.67,62.67 108.67,65.17 108,66" fill="none" stroke="#23952f" stroke-width="1.3" stroke-linecap="round" stroke-linejoin="round"/>
<path d="M47.8,77 C47.58,77.83 46.55,80.67 46.5,82 C46.45,83.33 46.58,84.42 47.5,85 C48.42,85.58 50.75,85 52,85.5 C53.25,86 54.08,86.92 55,88 C55.92,89.08 57.25,90.5 57.5,92 C57.75,93.5 56.25,95.67 56.5,97 C56.75,98.33 57.92,99.17 59,100 C60.08,100.83 61.83,101 63,102 C64.17,103 64.92,105.08 66,106 C67.08,106.92 68.33,107.67 69.5,107.5 C70.67,107.33 71.75,105.75 73,105 C74.25,104.25 75.67,103.5 77,103 C78.33,102.5 79.83,101.83 81,102 C82.17,102.17 82.83,103.67 84,104 C85.17,104.33 87.33,104 88,104" fill="none" stroke="#23952f" stroke-width="1.3" stroke-linecap="round" stroke-linejoin="round"/>
<path d="M88,104 C88.5,103.33 89.83,101.33 91,100 C92.17,98.67 93.67,97.17 95,96 C96.33,94.83 97.5,94 99,93 C100.5,92 102.67,91.33 104,90 C105.33,88.67 106.67,86.67 107,85 C107.33,83.33 106.17,80.83 106,80" fill="none" stroke="#23952f" stroke-width="1.2" stroke-linecap="round" stroke-linejoin="round"/>
<path d="M62,71 C61.33,70.5 59,69.33 58,68 C57,66.67 55.67,64.33 56,63 C56.33,61.67 58.5,61.17 60,60 C61.5,58.83 64.17,56.67 65,56" fill="none" stroke="#23952f" stroke-width="1.2" stroke-linecap="round" stroke-linejoin="round"/>
<path d="M101,34 C100.83,35.33 99.5,39.67 100,42 C100.5,44.33 103.5,45.83 104,48 C104.5,50.17 102.67,53 103,55 C103.33,57 105.5,59.17 106,60" fill="none" stroke="#23952f" stroke-width="1.2" stroke-linecap="round" stroke-linejoin="round"/>
<path d="M76,36 C75.5,35.17 73.17,32.5 73,31 C72.83,29.5 74.67,27.67 75,27" fill="none" stroke="#23952f" stroke-width="1.2" stroke-linecap="round" stroke-linejoin="round"/>
<path d="M69,47 C68.58,48.17 67.67,51.83 66.5,54 C65.33,56.17 63.58,58 62,60 C60.42,62 57.83,65 57,66" fill="none" stroke="#136a20" stroke-width="4.9" stroke-linecap="round" stroke-linejoin="round"/>
<path d="M69,47 C68.58,48.17 67.67,51.83 66.5,54 C65.33,56.17 63.58,58 62,60 C60.42,62 57.83,65 57,66" fill="none" stroke="#23952f" stroke-width="3.6" stroke-linecap="round" stroke-linejoin="round"/>
<path d="M67,42 C66.5,42.5 64.5,44.5 64,45" fill="none" stroke="#136a20" stroke-width="4.1" stroke-linecap="round" stroke-linejoin="round"/>
<path d="M67,42 C66.5,42.5 64.5,44.5 64,45" fill="none" stroke="#23952f" stroke-width="2.8" stroke-linecap="round" stroke-linejoin="round"/>
<path d="M59,64 C60.33,63 64.33,59.17 67,58 C69.67,56.83 71.83,57.17 75,57 C78.17,56.83 84.17,57 86,57" fill="none" stroke="#136a20" stroke-width="5.1" stroke-linecap="round" stroke-linejoin="round"/>
<path d="M59,64 C60.33,63 64.33,59.17 67,58 C69.67,56.83 71.83,57.17 75,57 C78.17,56.83 84.17,57 86,57" fill="none" stroke="#23952f" stroke-width="3.8" stroke-linecap="round" stroke-linejoin="round"/>
<path d="M53,73 C54.5,72.5 59.17,70.67 62,70 C64.83,69.33 68.67,69.17 70,69" fill="none" stroke="#136a20" stroke-width="4.3" stroke-linecap="round" stroke-linejoin="round"/>
<path d="M53,73 C54.5,72.5 59.17,70.67 62,70 C64.83,69.33 68.67,69.17 70,69" fill="none" stroke="#23952f" stroke-width="3" stroke-linecap="round" stroke-linejoin="round"/>
<path d="M77.3,41 C77.18,43.5 76.4,51.33 76.6,56 C76.8,60.67 78.18,66.83 78.5,69" fill="none" stroke="#136a20" stroke-width="5.2" stroke-linecap="round" stroke-linejoin="round"/>
<path d="M77.3,41 C77.18,43.5 76.4,51.33 76.6,56 C76.8,60.67 78.18,66.83 78.5,69" fill="none" stroke="#35b843" stroke-width="3.9" stroke-linecap="round" stroke-linejoin="round"/>
<path d="M81.7,40 C81.9,42.33 82.18,49 82.9,54 C83.62,59 85.48,67.33 86,70" fill="none" stroke="#136a20" stroke-width="5.2" stroke-linecap="round" stroke-linejoin="round"/>
<path d="M81.7,40 C81.9,42.33 82.18,49 82.9,54 C83.62,59 85.48,67.33 86,70" fill="none" stroke="#35b843" stroke-width="3.9" stroke-linecap="round" stroke-linejoin="round"/>
<path d="M88,37 C88.58,38.67 90.5,43.67 91.5,47 C92.5,50.33 93.42,53.83 94,57 C94.58,60.17 94.83,64.5 95,66" fill="none" stroke="#136a20" stroke-width="4.8" stroke-linecap="round" stroke-linejoin="round"/>
<path d="M88,37 C88.58,38.67 90.5,43.67 91.5,47 C92.5,50.33 93.42,53.83 94,57 C94.58,60.17 94.83,64.5 95,66" fill="none" stroke="#35b843" stroke-width="3.5" stroke-linecap="round" stroke-linejoin="round"/>
<polygon points="87,24 92,22.5 96,26 93,30.5 88,29.5" fill="#35b843" stroke="#136a20" stroke-width="0.7" stroke-linejoin="round"/>
<polygon points="93,40 98.5,38 102,42.5 98,46.5" fill="#35b843" stroke="#136a20" stroke-width="0.7" stroke-linejoin="round"/>
<polygon points="106,37 112,36.5 114,42 108.5,44" fill="#35b843" stroke="#136a20" stroke-width="0.7" stroke-linejoin="round"/>
<polygon points="115,45.5 121,44.5 124.5,49.5 120.5,53.5 116,52" fill="#35b843" stroke="#136a20" stroke-width="0.7" stroke-linejoin="round"/>
<polygon points="88,48.5 94.5,47.5 98.5,52.5 94,56 89.5,55" fill="#35b843" stroke="#136a20" stroke-width="0.7" stroke-linejoin="round"/>
<polygon points="94,57 99.5,56 101,60.5 96.5,63" fill="#35b843" stroke="#136a20" stroke-width="0.7" stroke-linejoin="round"/>
<polygon points="110,55.5 115.5,55.5 116.5,59.5 111.5,61.5" fill="#35b843" stroke="#136a20" stroke-width="0.7" stroke-linejoin="round"/>
<path d="M55.3,70 C57.58,69.37 63.98,67.15 69,66.2 C74.02,65.25 79.52,64.3 85.4,64.3 C91.28,64.3 101.15,65.88 104.3,66.2" fill="none" stroke="#136a20" stroke-width="5.3" stroke-linecap="round" stroke-linejoin="round"/>
<path d="M55.3,70 C57.58,69.37 63.98,67.15 69,66.2 C74.02,65.25 79.52,64.3 85.4,64.3 C91.28,64.3 101.15,65.88 104.3,66.2" fill="none" stroke="#35b843" stroke-width="4" stroke-linecap="round" stroke-linejoin="round"/>
<path d="M47.8,77.5 C51.33,77.08 62.3,76.05 69,75 C75.7,73.95 81.7,72.45 88,71.2 C94.3,69.95 103.67,68.12 106.8,67.5" fill="none" stroke="#136a20" stroke-width="5.7" stroke-linecap="round" stroke-linejoin="round"/>
<path d="M47.8,77.5 C51.33,77.08 62.3,76.05 69,75 C75.7,73.95 81.7,72.45 88,71.2 C94.3,69.95 103.67,68.12 106.8,67.5" fill="none" stroke="#35b843" stroke-width="4.4" stroke-linecap="round" stroke-linejoin="round"/>
<path d="M56.6,86.3 C59.73,85.67 69.13,84.17 75.4,82.5 C81.67,80.83 88.97,78.6 94.2,76.3 C99.43,74 104.7,69.97 106.8,68.7" fill="none" stroke="#136a20" stroke-width="5.7" stroke-linecap="round" stroke-linejoin="round"/>
<path d="M56.6,86.3 C59.73,85.67 69.13,84.17 75.4,82.5 C81.67,80.83 88.97,78.6 94.2,76.3 C99.43,74 104.7,69.97 106.8,68.7" fill="none" stroke="#35b843" stroke-width="4.4" stroke-linecap="round" stroke-linejoin="round"/>
<path d="M64,92.6 C66.95,91.97 76.03,91.1 81.7,88.8 C87.37,86.5 93.82,82.15 98,78.8 C102.18,75.45 105.33,70.38 106.8,68.7" fill="none" stroke="#136a20" stroke-width="5.3" stroke-linecap="round" stroke-linejoin="round"/>
<path d="M64,92.6 C66.95,91.97 76.03,91.1 81.7,88.8 C87.37,86.5 93.82,82.15 98,78.8 C102.18,75.45 105.33,70.38 106.8,68.7" fill="none" stroke="#35b843" stroke-width="4" stroke-linecap="round" stroke-linejoin="round"/>
<path d="M72,98 C74.33,97.5 81.5,97 86,95 C90.5,93 95.5,89.83 99,86 C102.5,82.17 105.67,74.33 107,72" fill="none" stroke="#136a20" stroke-width="4.5" stroke-linecap="round" stroke-linejoin="round"/>
<path d="M72,98 C74.33,97.5 81.5,97 86,95 C90.5,93 95.5,89.83 99,86 C102.5,82.17 105.67,74.33 107,72" fill="none" stroke="#35b843" stroke-width="3.2" stroke-linecap="round" stroke-linejoin="round"/>
</g>
<line x1="242" y1="101" x2="242" y2="152" stroke="#3843a6" stroke-width="7.56" stroke-linecap="butt"/>
<path d="M247.25,101 Q242,101.26 236.75,106.61 L236.75,112.93 Q242,107.58 247.25,107.32 Z" fill="#4a55c0" stroke="#2c3590" stroke-width="0.45"/>
<path d="M247.25,111.2 Q242,111.45 236.75,116.81 L236.75,123.13 Q242,117.78 247.25,117.52 Z" fill="#4a55c0" stroke="#2c3590" stroke-width="0.45"/>
<path d="M247.25,121.4 Q242,121.66 236.75,127.01 L236.75,133.33 Q242,127.98 247.25,127.72 Z" fill="#4a55c0" stroke="#2c3590" stroke-width="0.45"/>
<path d="M247.25,131.6 Q242,131.85 236.75,137.21 L236.75,143.53 Q242,138.18 247.25,137.92 Z" fill="#4a55c0" stroke="#2c3590" stroke-width="0.45"/>
<path d="M247.25,141.8 Q242,142.06 236.75,147.41 L236.75,153.73 Q242,148.38 247.25,148.12 Z" fill="#4a55c0" stroke="#2c3590" stroke-width="0.45"/>
<line x1="258.7" y1="98.5" x2="258.7" y2="146" stroke="#3843a6" stroke-width="7.92" stroke-linecap="butt"/>
<path d="M264.2,98.5 Q258.7,98.74 253.2,103.72 L253.2,109.61 Q258.7,104.63 264.2,104.39 Z" fill="#4a55c0" stroke="#2c3590" stroke-width="0.45"/>
<path d="M264.2,108 Q258.7,108.24 253.2,113.22 L253.2,119.11 Q258.7,114.13 264.2,113.89 Z" fill="#4a55c0" stroke="#2c3590" stroke-width="0.45"/>
<path d="M264.2,117.5 Q258.7,117.74 253.2,122.72 L253.2,128.61 Q258.7,123.63 264.2,123.39 Z" fill="#4a55c0" stroke="#2c3590" stroke-width="0.45"/>
<path d="M264.2,127 Q258.7,127.24 253.2,132.22 L253.2,138.11 Q258.7,133.13 264.2,132.89 Z" fill="#4a55c0" stroke="#2c3590" stroke-width="0.45"/>
<path d="M264.2,136.5 Q258.7,136.74 253.2,141.72 L253.2,147.61 Q258.7,142.63 264.2,142.39 Z" fill="#4a55c0" stroke="#2c3590" stroke-width="0.45"/>
<path d="M242,152 C242.5,153 243.83,156.67 245,158 C246.17,159.33 247.5,160.33 249,160 C250.5,159.67 252.38,158.33 254,156 C255.62,153.67 257.92,147.67 258.7,146" fill="none" stroke="#4a55c0" stroke-width="1.4" stroke-linecap="round" stroke-linejoin="round"/>
<path d="M259,92 C259.5,91.67 261,89.83 262,90 C263,90.17 264.5,92.5 265,93" fill="none" stroke="#4a55c0" stroke-width="1.1" stroke-linecap="round" stroke-linejoin="round"/>
<g transform="translate(249.5,136.5) scale(1.05)">
<polygon points="-6,-8 -1,-10 4,-9 7,-5 5,-1 7,2 6,7 2,10 -3,9 -6,6 -5,1 -7,-3" fill="#b8121b" stroke="#6e0808" stroke-width="0.7" stroke-linejoin="round"/>
<polygon points="-4,-7 1,-8.5 4,-5 0,-3 -3,-4" fill="#e0343a"/>
<polygon points="-3,2 2,0.5 4.5,4 1,7 -2.5,6" fill="#d82a30"/>
<polyline points="-5,0 0,-1 5,-1" fill="none" stroke="#7a0a0a" stroke-width="0.8"/>
</g>
<g transform="translate(162,-1)">
<path d="M41.9,129.5 C42.05,128.6 42.07,125.12 42.8,124.1 C43.53,123.08 45.28,123.25 46.3,123.4 C47.32,123.55 48.62,124 48.9,125 C49.18,126 48.15,128.67 48,129.4" fill="none" stroke="#4a55c0" stroke-width="1.3" stroke-linecap="round" stroke-linejoin="round"/>
<path d="M32.3,139 C31.13,140.32 26.62,145.15 25.3,146.9 C23.98,148.65 24.12,149.02 24.4,149.5 C24.68,149.98 25.98,150.23 27,149.8 C28.02,149.37 29.33,147.87 30.5,146.9 C31.67,145.93 33.42,144.48 34,144" fill="none" stroke="#4a55c0" stroke-width="1.3" stroke-linecap="round" stroke-linejoin="round"/>
<path d="M31,156 C30.25,156.13 27.45,156.2 26.5,156.8 C25.55,157.4 24.92,158.48 25.3,159.6 C25.68,160.72 27.52,162.77 28.8,163.5 C30.08,164.23 31.55,164 33,164 C34.45,164 36.75,163.58 37.5,163.5" fill="none" stroke="#4a55c0" stroke-width="1.3" stroke-linecap="round" stroke-linejoin="round"/>
<path d="M31.4,151.3 C32.27,150.87 35,149.28 36.6,148.7 C38.2,148.12 40.27,147.95 41,147.8" fill="none" stroke="#4a55c0" stroke-width="1.1" stroke-linecap="round" stroke-linejoin="round"/>
<path d="M40.1,167 C39.67,167.88 38.67,170.83 37.5,172.3 C36.33,173.77 33.83,174.27 33.1,175.8 C32.37,177.33 33.1,180.55 33.1,181.5" fill="none" stroke="#4a55c0" stroke-width="1.3" stroke-linecap="round" stroke-linejoin="round"/>
<path d="M53.3,170.6 C53,171.77 51.93,175.85 51.5,177.6 C51.07,179.35 50.83,180.52 50.7,181.1" fill="none" stroke="#4a55c0" stroke-width="1.3" stroke-linecap="round" stroke-linejoin="round"/>
<path d="M68,141 C68.58,140.47 70.57,137.72 71.5,137.8 C72.43,137.88 73.42,139.68 73.6,141.5 C73.78,143.32 72.18,146.78 72.6,148.7 C73.02,150.62 74.93,151.7 76.1,153 C77.27,154.3 78.62,155.17 79.6,156.5 C80.58,157.83 81.6,160.25 82,161" fill="none" stroke="#4a55c0" stroke-width="1.4" stroke-linecap="round" stroke-linejoin="round"/>
<path d="M32.3,139 C33.17,138.42 35.75,136.37 37.5,135.5 C39.25,134.63 41.92,134.08 42.8,133.8" fill="none" stroke="#2c3590" stroke-width="4.9" stroke-linecap="round" stroke-linejoin="round"/>
<path d="M32.3,139 C33.17,138.42 35.75,136.37 37.5,135.5 C39.25,134.63 41.92,134.08 42.8,133.8" fill="none" stroke="#4a55c0" stroke-width="3.6" stroke-linecap="round" stroke-linejoin="round"/>
<path d="M48.9,132 C49.92,131.85 53.1,131.1 55,131.1 C56.9,131.1 58.83,131.27 60.3,132 C61.77,132.73 63.22,134.92 63.8,135.5" fill="none" stroke="#2c3590" stroke-width="5.1" stroke-linecap="round" stroke-linejoin="round"/>
<path d="M48.9,132 C49.92,131.85 53.1,131.1 55,131.1 C56.9,131.1 58.83,131.27 60.3,132 C61.77,132.73 63.22,134.92 63.8,135.5" fill="none" stroke="#4a55c0" stroke-width="3.8" stroke-linecap="round" stroke-linejoin="round"/>
<path d="M44.5,134.5 C44.28,135.83 43.63,139.92 43.2,142.5 C42.77,145.08 42.35,147.75 41.9,150 C41.45,152.25 40.73,155 40.5,156" fill="none" stroke="#2c3590" stroke-width="4.3" stroke-linecap="round" stroke-linejoin="round"/>
<path d="M44.5,134.5 C44.28,135.83 43.63,139.92 43.2,142.5 C42.77,145.08 42.35,147.75 41.9,150 C41.45,152.25 40.73,155 40.5,156" fill="none" stroke="#4a55c0" stroke-width="3" stroke-linecap="round" stroke-linejoin="round"/>
<path d="M54,134 C53.17,135.33 50.42,139.67 49,142 C47.58,144.33 46.08,147 45.5,148" fill="none" stroke="#2c3590" stroke-width="4.3" stroke-linecap="round" stroke-linejoin="round"/>
<path d="M54,134 C53.17,135.33 50.42,139.67 49,142 C47.58,144.33 46.08,147 45.5,148" fill="none" stroke="#4a55c0" stroke-width="3" stroke-linecap="round" stroke-linejoin="round"/>
<path d="M61,135.5 C59.67,137.42 55.58,143 53,147 C50.42,151 46.75,157.42 45.5,159.5" fill="none" stroke="#2c3590" stroke-width="4.6" stroke-linecap="round" stroke-linejoin="round"/>
<path d="M61,135.5 C59.67,137.42 55.58,143 53,147 C50.42,151 46.75,157.42 45.5,159.5" fill="none" stroke="#4a55c0" stroke-width="3.3" stroke-linecap="round" stroke-linejoin="round"/>
<path d="M66.5,141.5 C65.17,143.33 61.08,148.83 58.5,152.5 C55.92,156.17 52.25,161.67 51,163.5" fill="none" stroke="#2c3590" stroke-width="4.6" stroke-linecap="round" stroke-linejoin="round"/>
<path d="M66.5,141.5 C65.17,143.33 61.08,148.83 58.5,152.5 C55.92,156.17 52.25,161.67 51,163.5" fill="none" stroke="#4a55c0" stroke-width="3.3" stroke-linecap="round" stroke-linejoin="round"/>
<path d="M64.5,136.4 C65.25,137.72 68.33,141.23 69,144.3 C69.67,147.37 69.25,151.02 68.5,154.8 C67.75,158.58 65.75,163.8 64.5,167 C63.25,170.2 61.58,172.83 61,174" fill="none" stroke="#2c3590" stroke-width="4.7" stroke-linecap="round" stroke-linejoin="round"/>
<path d="M64.5,136.4 C65.25,137.72 68.33,141.23 69,144.3 C69.67,147.37 69.25,151.02 68.5,154.8 C67.75,158.58 65.75,163.8 64.5,167 C63.25,170.2 61.58,172.83 61,174" fill="none" stroke="#4a55c0" stroke-width="3.4" stroke-linecap="round" stroke-linejoin="round"/>
<path d="M39.5,165.5 C40.42,165.5 43.25,165.42 45,165.5 C46.75,165.58 49.17,165.92 50,166" fill="none" stroke="#2c3590" stroke-width="3.9" stroke-linecap="round" stroke-linejoin="round"/>
<path d="M39.5,165.5 C40.42,165.5 43.25,165.42 45,165.5 C46.75,165.58 49.17,165.92 50,166" fill="none" stroke="#4a55c0" stroke-width="2.6" stroke-linecap="round" stroke-linejoin="round"/>
<path d="M59.5,157 C59,158.33 57.33,162.83 56.5,165 C55.67,167.17 54.83,169.17 54.5,170" fill="none" stroke="#7b82c8" stroke-width="3.5" stroke-linecap="round" stroke-linejoin="round"/>
<path d="M59.5,157 C59,158.33 57.33,162.83 56.5,165 C55.67,167.17 54.83,169.17 54.5,170" fill="none" stroke="#a9aee0" stroke-width="2.2" stroke-linecap="round" stroke-linejoin="round"/>
</g>
<path d="M237,148 C237.67,149.17 239.33,153.33 241,155 C242.67,156.67 245.17,158 247,158 C248.83,158 251.17,155.5 252,155" fill="none" stroke="#4a55c0" stroke-width="1.2" stroke-linecap="round" stroke-linejoin="round"/>
<line x1="258.5" y1="145.5" x2="276.7" y2="171.3" stroke="#231f20" stroke-width="1.5"/>
<text x="-0.7" y="9.6" font-size="18" text-anchor="start" fill="#231f20" font-weight="bold">a</text>
<text x="80.9" y="11.3" font-size="10.6" text-anchor="middle" fill="#231f20">Dim</text>
<text x="241.6" y="11.8" font-size="10.6" text-anchor="middle" fill="#231f20">Bright</text>
<text x="150.1" y="20.8" font-size="10.2" text-anchor="middle" fill="#231f20">ATP</text>
<text x="0" y="66.5" font-size="10.7" text-anchor="start" fill="#231f20">cpSFGFP</text>
<text x="85.3" y="173.7" font-size="11.1" text-anchor="start" fill="#231f20" font-style="italic">Epsilon subunit</text>
<text x="85.3" y="186.1" font-size="11.1" font-style="italic" fill="#231f20">F<tspan font-size="7.4" dy="2.6">0</tspan><tspan dy="-2.6">F</tspan><tspan font-size="7.4" dy="2.6">1</tspan><tspan dy="-2.6">-ATP synthase</tspan></text>
<text x="279.8" y="184.9" font-size="10.3" text-anchor="middle" fill="#231f20">ATP</text>
<line x1="138.1" y1="37.7" x2="186.1" y2="37.7" stroke="#231f20" stroke-width="1.6"/>
<polyline points="178.4,32.9 186.9,37.7 178.4,42.5" fill="none" stroke="#231f20" stroke-width="1.6" stroke-linejoin="miter"/>
<line x1="138.9" y1="51" x2="186.9" y2="51" stroke="#231f20" stroke-width="1.6"/>
<polyline points="146.6,46.2 138.1,51 146.6,55.8" fill="none" stroke="#231f20" stroke-width="1.6" stroke-linejoin="miter"/>
<path d="M150.1,26.1 C150.1,35.7 154.1,37.7 160.6,37.7" fill="none" stroke="#231f20" stroke-width="1.6"/>
<path d="M22.5,746 C22.74,752 23.94,756 22.5,762.5" fill="none" stroke="#555" stroke-width="1.9"/>
<path d="M22.5,746 C22.74,752 23.94,756 22.5,762.5" fill="none" stroke="#ececec" stroke-width="0.8"/>
<path d="M25.3,746 C23.86,752 25.06,756 25.3,762.5" fill="none" stroke="#555" stroke-width="1.9"/>
<path d="M25.3,746 C23.86,752 25.06,756 25.3,762.5" fill="none" stroke="#ececec" stroke-width="0.8"/>
<path d="M31.3,746 C31.54,752 32.74,756 31.3,762.5" fill="none" stroke="#555" stroke-width="1.9"/>
<path d="M31.3,746 C31.54,752 32.74,756 31.3,762.5" fill="none" stroke="#ececec" stroke-width="0.8"/>
<path d="M34.1,746 C32.66,752 33.86,756 34.1,762.5" fill="none" stroke="#555" stroke-width="1.9"/>
<path d="M34.1,746 C32.66,752 33.86,756 34.1,762.5" fill="none" stroke="#ececec" stroke-width="0.8"/>
<path d="M42.5,746 C42.74,752 43.94,756 42.5,762.5" fill="none" stroke="#555" stroke-width="1.9"/>
<path d="M42.5,746 C42.74,752 43.94,756 42.5,762.5" fill="none" stroke="#ececec" stroke-width="0.8"/>
<path d="M45.3,746 C43.86,752 45.06,756 45.3,762.5" fill="none" stroke="#555" stroke-width="1.9"/>
<path d="M45.3,746 C43.86,752 45.06,756 45.3,762.5" fill="none" stroke="#ececec" stroke-width="0.8"/>
<path d="M51.7,746 C51.94,752 53.14,756 51.7,762.5" fill="none" stroke="#555" stroke-width="1.9"/>
<path d="M51.7,746 C51.94,752 53.14,756 51.7,762.5" fill="none" stroke="#ececec" stroke-width="0.8"/>
<path d="M54.5,746 C53.06,752 54.26,756 54.5,762.5" fill="none" stroke="#555" stroke-width="1.9"/>
<path d="M54.5,746 C53.06,752 54.26,756 54.5,762.5" fill="none" stroke="#ececec" stroke-width="0.8"/>
<path d="M66.8,746 C67.04,752 68.24,756 66.8,762.5" fill="none" stroke="#555" stroke-width="1.9"/>
<path d="M66.8,746 C67.04,752 68.24,756 66.8,762.5" fill="none" stroke="#ececec" stroke-width="0.8"/>
<path d="M69.6,746 C68.16,752 69.36,756 69.6,762.5" fill="none" stroke="#555" stroke-width="1.9"/>
<path d="M69.6,746 C68.16,752 69.36,756 69.6,762.5" fill="none" stroke="#ececec" stroke-width="0.8"/>
<path d="M76,746 C76.24,752 77.44,756 76,762.5" fill="none" stroke="#555" stroke-width="1.9"/>
<path d="M76,746 C76.24,752 77.44,756 76,762.5" fill="none" stroke="#ececec" stroke-width="0.8"/>
<path d="M78.8,746 C77.36,752 78.56,756 78.8,762.5" fill="none" stroke="#555" stroke-width="1.9"/>
<path d="M78.8,746 C77.36,752 78.56,756 78.8,762.5" fill="none" stroke="#ececec" stroke-width="0.8"/>
<path d="M86.3,746 C86.54,752 87.74,756 86.3,762.5" fill="none" stroke="#555" stroke-width="1.9"/>
<path d="M86.3,746 C86.54,752 87.74,756 86.3,762.5" fill="none" stroke="#ececec" stroke-width="0.8"/>
<path d="M89.1,746 C87.66,752 88.86,756 89.1,762.5" fill="none" stroke="#555" stroke-width="1.9"/>
<path d="M89.1,746 C87.66,752 88.86,756 89.1,762.5" fill="none" stroke="#ececec" stroke-width="0.8"/>
<path d="M95.7,746 C95.94,752 97.14,756 95.7,762.5" fill="none" stroke="#555" stroke-width="1.9"/>
<path d="M95.7,746 C95.94,752 97.14,756 95.7,762.5" fill="none" stroke="#ececec" stroke-width="0.8"/>
<path d="M98.5,746 C97.06,752 98.26,756 98.5,762.5" fill="none" stroke="#555" stroke-width="1.9"/>
<path d="M98.5,746 C97.06,752 98.26,756 98.5,762.5" fill="none" stroke="#ececec" stroke-width="0.8"/>
<ellipse cx="23.9" cy="742.1" rx="4.5" ry="5.2" fill="#bfbfbf" stroke="#4a4a4a" stroke-width="0.7"/>
<ellipse cx="23.9" cy="766.8" rx="4.5" ry="5.2" fill="#bfbfbf" stroke="#4a4a4a" stroke-width="0.7"/>
<ellipse cx="32.7" cy="742.1" rx="4.5" ry="5.2" fill="#bfbfbf" stroke="#4a4a4a" stroke-width="0.7"/>
<ellipse cx="32.7" cy="766.8" rx="4.5" ry="5.2" fill="#bfbfbf" stroke="#4a4a4a" stroke-width="0.7"/>
<ellipse cx="43.9" cy="742.1" rx="4.5" ry="5.2" fill="#bfbfbf" stroke="#4a4a4a" stroke-width="0.7"/>
<ellipse cx="43.9" cy="766.8" rx="4.5" ry="5.2" fill="#bfbfbf" stroke="#4a4a4a" stroke-width="0.7"/>
<ellipse cx="53.1" cy="742.1" rx="4.5" ry="5.2" fill="#bfbfbf" stroke="#4a4a4a" stroke-width="0.7"/>
<ellipse cx="53.1" cy="766.8" rx="4.5" ry="5.2" fill="#bfbfbf" stroke="#4a4a4a" stroke-width="0.7"/>
<ellipse cx="68.2" cy="742.1" rx="4.5" ry="5.2" fill="#bfbfbf" stroke="#4a4a4a" stroke-width="0.7"/>
<ellipse cx="68.2" cy="766.8" rx="4.5" ry="5.2" fill="#bfbfbf" stroke="#4a4a4a" stroke-width="0.7"/>
<ellipse cx="77.4" cy="742.1" rx="4.5" ry="5.2" fill="#bfbfbf" stroke="#4a4a4a" stroke-width="0.7"/>
<ellipse cx="77.4" cy="766.8" rx="4.5" ry="5.2" fill="#bfbfbf" stroke="#4a4a4a" stroke-width="0.7"/>
<ellipse cx="87.7" cy="742.1" rx="4.5" ry="5.2" fill="#bfbfbf" stroke="#4a4a4a" stroke-width="0.7"/>
<ellipse cx="87.7" cy="766.8" rx="4.5" ry="5.2" fill="#bfbfbf" stroke="#4a4a4a" stroke-width="0.7"/>
<ellipse cx="97.1" cy="742.1" rx="4.5" ry="5.2" fill="#bfbfbf" stroke="#4a4a4a" stroke-width="0.7"/>
<ellipse cx="97.1" cy="766.8" rx="4.5" ry="5.2" fill="#bfbfbf" stroke="#4a4a4a" stroke-width="0.7"/>
<rect x="58.4" y="734.9" width="4.2" height="37.1" fill="#1a1a1a"/>
<path d="M219.5,746 C219.74,752 220.94,756 219.5,762.5" fill="none" stroke="#555" stroke-width="1.9"/>
<path d="M219.5,746 C219.74,752 220.94,756 219.5,762.5" fill="none" stroke="#ececec" stroke-width="0.8"/>
<path d="M222.3,746 C220.86,752 222.06,756 222.3,762.5" fill="none" stroke="#555" stroke-width="1.9"/>
<path d="M222.3,746 C220.86,752 222.06,756 222.3,762.5" fill="none" stroke="#ececec" stroke-width="0.8"/>
<path d="M228.7,746 C228.94,752 230.14,756 228.7,762.5" fill="none" stroke="#555" stroke-width="1.9"/>
<path d="M228.7,746 C228.94,752 230.14,756 228.7,762.5" fill="none" stroke="#ececec" stroke-width="0.8"/>
<path d="M231.5,746 C230.06,752 231.26,756 231.5,762.5" fill="none" stroke="#555" stroke-width="1.9"/>
<path d="M231.5,746 C230.06,752 231.26,756 231.5,762.5" fill="none" stroke="#ececec" stroke-width="0.8"/>
<path d="M237.8,746 C238.04,752 239.24,756 237.8,762.5" fill="none" stroke="#555" stroke-width="1.9"/>
<path d="M237.8,746 C238.04,752 239.24,756 237.8,762.5" fill="none" stroke="#ececec" stroke-width="0.8"/>
<path d="M240.6,746 C239.16,752 240.36,756 240.6,762.5" fill="none" stroke="#555" stroke-width="1.9"/>
<path d="M240.6,746 C239.16,752 240.36,756 240.6,762.5" fill="none" stroke="#ececec" stroke-width="0.8"/>
<path d="M246.9,746 C247.14,752 248.34,756 246.9,762.5" fill="none" stroke="#555" stroke-width="1.9"/>
<path d="M246.9,746 C247.14,752 248.34,756 246.9,762.5" fill="none" stroke="#ececec" stroke-width="0.8"/>
<path d="M249.7,746 C248.26,752 249.46,756 249.7,762.5" fill="none" stroke="#555" stroke-width="1.9"/>
<path d="M249.7,746 C248.26,752 249.46,756 249.7,762.5" fill="none" stroke="#ececec" stroke-width="0.8"/>
<path d="M261.8,746 C262.04,752 263.24,756 261.8,762.5" fill="none" stroke="#555" stroke-width="1.9"/>
<path d="M261.8,746 C262.04,752 263.24,756 261.8,762.5" fill="none" stroke="#ececec" stroke-width="0.8"/>
<path d="M264.6,746 C263.16,752 264.36,756 264.6,762.5" fill="none" stroke="#555" stroke-width="1.9"/>
<path d="M264.6,746 C263.16,752 264.36,756 264.6,762.5" fill="none" stroke="#ececec" stroke-width="0.8"/>
<path d="M271,746 C271.24,752 272.44,756 271,762.5" fill="none" stroke="#555" stroke-width="1.9"/>
<path d="M271,746 C271.24,752 272.44,756 271,762.5" fill="none" stroke="#ececec" stroke-width="0.8"/>
<path d="M273.8,746 C272.36,752 273.56,756 273.8,762.5" fill="none" stroke="#555" stroke-width="1.9"/>
<path d="M273.8,746 C272.36,752 273.56,756 273.8,762.5" fill="none" stroke="#ececec" stroke-width="0.8"/>
<path d="M280.4,746 C280.64,752 281.84,756 280.4,762.5" fill="none" stroke="#555" stroke-width="1.9"/>
<path d="M280.4,746 C280.64,752 281.84,756 280.4,762.5" fill="none" stroke="#ececec" stroke-width="0.8"/>
<path d="M283.2,746 C281.76,752 282.96,756 283.2,762.5" fill="none" stroke="#555" stroke-width="1.9"/>
<path d="M283.2,746 C281.76,752 282.96,756 283.2,762.5" fill="none" stroke="#ececec" stroke-width="0.8"/>
<path d="M289.8,746 C290.04,752 291.24,756 289.8,762.5" fill="none" stroke="#555" stroke-width="1.9"/>
<path d="M289.8,746 C290.04,752 291.24,756 289.8,762.5" fill="none" stroke="#ececec" stroke-width="0.8"/>
<path d="M292.6,746 C291.16,752 292.36,756 292.6,762.5" fill="none" stroke="#555" stroke-width="1.9"/>
<path d="M292.6,746 C291.16,752 292.36,756 292.6,762.5" fill="none" stroke="#ececec" stroke-width="0.8"/>
<ellipse cx="220.9" cy="742.1" rx="4.5" ry="5.2" fill="#bfbfbf" stroke="#4a4a4a" stroke-width="0.7"/>
<ellipse cx="220.9" cy="766.8" rx="4.5" ry="5.2" fill="#bfbfbf" stroke="#4a4a4a" stroke-width="0.7"/>
<ellipse cx="230.1" cy="742.1" rx="4.5" ry="5.2" fill="#bfbfbf" stroke="#4a4a4a" stroke-width="0.7"/>
<ellipse cx="230.1" cy="766.8" rx="4.5" ry="5.2" fill="#bfbfbf" stroke="#4a4a4a" stroke-width="0.7"/>
<ellipse cx="239.2" cy="742.1" rx="4.5" ry="5.2" fill="#bfbfbf" stroke="#4a4a4a" stroke-width="0.7"/>
<ellipse cx="239.2" cy="766.8" rx="4.5" ry="5.2" fill="#bfbfbf" stroke="#4a4a4a" stroke-width="0.7"/>
<ellipse cx="248.3" cy="742.1" rx="4.5" ry="5.2" fill="#bfbfbf" stroke="#4a4a4a" stroke-width="0.7"/>
<ellipse cx="248.3" cy="766.8" rx="4.5" ry="5.2" fill="#bfbfbf" stroke="#4a4a4a" stroke-width="0.7"/>
<ellipse cx="263.2" cy="742.1" rx="4.5" ry="5.2" fill="#bfbfbf" stroke="#4a4a4a" stroke-width="0.7"/>
<ellipse cx="263.2" cy="766.8" rx="4.5" ry="5.2" fill="#bfbfbf" stroke="#4a4a4a" stroke-width="0.7"/>
<ellipse cx="272.4" cy="742.1" rx="4.5" ry="5.2" fill="#bfbfbf" stroke="#4a4a4a" stroke-width="0.7"/>
<ellipse cx="272.4" cy="766.8" rx="4.5" ry="5.2" fill="#bfbfbf" stroke="#4a4a4a" stroke-width="0.7"/>
<ellipse cx="281.8" cy="742.1" rx="4.5" ry="5.2" fill="#bfbfbf" stroke="#4a4a4a" stroke-width="0.7"/>
<ellipse cx="281.8" cy="766.8" rx="4.5" ry="5.2" fill="#bfbfbf" stroke="#4a4a4a" stroke-width="0.7"/>
<ellipse cx="291.2" cy="742.1" rx="4.5" ry="5.2" fill="#bfbfbf" stroke="#4a4a4a" stroke-width="0.7"/>
<ellipse cx="291.2" cy="766.8" rx="4.5" ry="5.2" fill="#bfbfbf" stroke="#4a4a4a" stroke-width="0.7"/>
<rect x="253.9" y="734.9" width="4.2" height="37.1" fill="#1a1a1a"/>
<text x="53.6" y="729.3" font-size="10.9" text-anchor="end" fill="#231f20" font-style="italic">Spacer</text>
<text x="14.7" y="785" font-size="10.9" text-anchor="start" fill="#231f20" font-style="italic">PDGFR TM domain</text>
<text x="85.8" y="651.8" font-size="10.6" text-anchor="middle" fill="#231f20">Dim</text>
<text x="233.9" y="651" font-size="10.6" text-anchor="middle" fill="#231f20">Bright</text>
<text x="146.2" y="731.7" font-size="10" text-anchor="middle" fill="#231f20">ATP</text>
<line x1="126.6" y1="748.3" x2="190.5" y2="748.3" stroke="#231f20" stroke-width="1.6"/>
<polyline points="182.8,743.5 191.3,748.3 182.8,753.1" fill="none" stroke="#231f20" stroke-width="1.6" stroke-linejoin="miter"/>
<line x1="127.4" y1="762" x2="191.3" y2="762" stroke="#231f20" stroke-width="1.6"/>
<polyline points="135.1,757.2 126.6,762 135.1,766.8" fill="none" stroke="#231f20" stroke-width="1.6" stroke-linejoin="miter"/>
<path d="M146.6,737.5 C146.6,746.3 150.6,748.3 157.1,748.3" fill="none" stroke="#231f20" stroke-width="1.6"/>
<path d="M58.7,736 C58.58,735 57.73,732 58,730 C58.27,728 59.42,726 60.3,724 C61.18,722 62.03,719.83 63.3,718 C64.57,716.17 67.13,713.83 67.9,713" fill="none" stroke="#4a55c0" stroke-width="1.3" stroke-linecap="round" stroke-linejoin="round"/>
<g transform="translate(75,684.5) rotate(95) scale(0.55) translate(-97,-102)">
<g transform="translate(89.6,65.7) rotate(-28) scale(1.13) translate(-86,-66)">
<path d="M75.9,33 C75.75,31.83 74.65,28 75,26 C75.35,24 76.5,21.92 78,21 C79.5,20.08 82.17,20.75 84,20.5 C85.83,20.25 87.33,19.42 89,19.5 C90.67,19.58 92.83,20.08 94,21 C95.17,21.92 96.17,23.5 96,25 C95.83,26.5 92.83,28.67 93,30 C93.17,31.33 95.67,32.83 97,33 C98.33,33.17 99.67,31 101,31 C102.33,31 103.83,32.33 105,33 C106.17,33.67 106.67,34.83 108,35 C109.33,35.17 111.33,33.67 113,34 C114.67,34.33 116.67,35.67 118,37 C119.33,38.33 119.67,40.5 121,42 C122.33,43.5 125.17,44.67 126,46 C126.83,47.33 126.83,48.83 126,50 C125.17,51.17 122.67,52 121,53 C119.33,54 117.5,54.67 116,56 C114.5,57.33 113.33,59.33 112,61 C110.67,62.67 108.67,65.17 108,66" fill="none" stroke="#6aae78" stroke-width="1.3" stroke-linecap="round" stroke-linejoin="round"/>
<path d="M47.8,77 C47.58,77.83 46.55,80.67 46.5,82 C46.45,83.33 46.58,84.42 47.5,85 C48.42,85.58 50.75,85 52,85.5 C53.25,86 54.08,86.92 55,88 C55.92,89.08 57.25,90.5 57.5,92 C57.75,93.5 56.25,95.67 56.5,97 C56.75,98.33 57.92,99.17 59,100 C60.08,100.83 61.83,101 63,102 C64.17,103 64.92,105.08 66,106 C67.08,106.92 68.33,107.67 69.5,107.5 C70.67,107.33 71.75,105.75 73,105 C74.25,104.25 75.67,103.5 77,103 C78.33,102.5 79.83,101.83 81,102 C82.17,102.17 82.83,103.67 84,104 C85.17,104.33 87.33,104 88,104" fill="none" stroke="#6aae78" stroke-width="1.3" stroke-linecap="round" stroke-linejoin="round"/>
<path d="M88,104 C88.5,103.33 89.83,101.33 91,100 C92.17,98.67 93.67,97.17 95,96 C96.33,94.83 97.5,94 99,93 C100.5,92 102.67,91.33 104,90 C105.33,88.67 106.67,86.67 107,85 C107.33,83.33 106.17,80.83 106,80" fill="none" stroke="#6aae78" stroke-width="1.2" stroke-linecap="round" stroke-linejoin="round"/>
<path d="M62,71 C61.33,70.5 59,69.33 58,68 C57,66.67 55.67,64.33 56,63 C56.33,61.67 58.5,61.17 60,60 C61.5,58.83 64.17,56.67 65,56" fill="none" stroke="#6aae78" stroke-width="1.2" stroke-linecap="round" stroke-linejoin="round"/>
<path d="M101,34 C100.83,35.33 99.5,39.67 100,42 C100.5,44.33 103.5,45.83 104,48 C104.5,50.17 102.67,53 103,55 C103.33,57 105.5,59.17 106,60" fill="none" stroke="#6aae78" stroke-width="1.2" stroke-linecap="round" stroke-linejoin="round"/>
<path d="M76,36 C75.5,35.17 73.17,32.5 73,31 C72.83,29.5 74.67,27.67 75,27" fill="none" stroke="#6aae78" stroke-width="1.2" stroke-linecap="round" stroke-linejoin="round"/>
<path d="M69,47 C68.58,48.17 67.67,51.83 66.5,54 C65.33,56.17 63.58,58 62,60 C60.42,62 57.83,65 57,66" fill="none" stroke="#3f8a4f" stroke-width="4.9" stroke-linecap="round" stroke-linejoin="round"/>
<path d="M69,47 C68.58,48.17 67.67,51.83 66.5,54 C65.33,56.17 63.58,58 62,60 C60.42,62 57.83,65 57,66" fill="none" stroke="#6aae78" stroke-width="3.6" stroke-linecap="round" stroke-linejoin="round"/>
<path d="M67,42 C66.5,42.5 64.5,44.5 64,45" fill="none" stroke="#3f8a4f" stroke-width="4.1" stroke-linecap="round" stroke-linejoin="round"/>
<path d="M67,42 C66.5,42.5 64.5,44.5 64,45" fill="none" stroke="#6aae78" stroke-width="2.8" stroke-linecap="round" stroke-linejoin="round"/>
<path d="M59,64 C60.33,63 64.33,59.17 67,58 C69.67,56.83 71.83,57.17 75,57 C78.17,56.83 84.17,57 86,57" fill="none" stroke="#3f8a4f" stroke-width="5.1" stroke-linecap="round" stroke-linejoin="round"/>
<path d="M59,64 C60.33,63 64.33,59.17 67,58 C69.67,56.83 71.83,57.17 75,57 C78.17,56.83 84.17,57 86,57" fill="none" stroke="#6aae78" stroke-width="3.8" stroke-linecap="round" stroke-linejoin="round"/>
<path d="M53,73 C54.5,72.5 59.17,70.67 62,70 C64.83,69.33 68.67,69.17 70,69" fill="none" stroke="#3f8a4f" stroke-width="4.3" stroke-linecap="round" stroke-linejoin="round"/>
<path d="M53,73 C54.5,72.5 59.17,70.67 62,70 C64.83,69.33 68.67,69.17 70,69" fill="none" stroke="#6aae78" stroke-width="3" stroke-linecap="round" stroke-linejoin="round"/>
<path d="M77.3,41 C77.18,43.5 76.4,51.33 76.6,56 C76.8,60.67 78.18,66.83 78.5,69" fill="none" stroke="#3f8a4f" stroke-width="5.2" stroke-linecap="round" stroke-linejoin="round"/>
<path d="M77.3,41 C77.18,43.5 76.4,51.33 76.6,56 C76.8,60.67 78.18,66.83 78.5,69" fill="none" stroke="#98d4a2" stroke-width="3.9" stroke-linecap="round" stroke-linejoin="round"/>
<path d="M81.7,40 C81.9,42.33 82.18,49 82.9,54 C83.62,59 85.48,67.33 86,70" fill="none" stroke="#3f8a4f" stroke-width="5.2" stroke-linecap="round" stroke-linejoin="round"/>
<path d="M81.7,40 C81.9,42.33 82.18,49 82.9,54 C83.62,59 85.48,67.33 86,70" fill="none" stroke="#98d4a2" stroke-width="3.9" stroke-linecap="round" stroke-linejoin="round"/>
<path d="M88,37 C88.58,38.67 90.5,43.67 91.5,47 C92.5,50.33 93.42,53.83 94,57 C94.58,60.17 94.83,64.5 95,66" fill="none" stroke="#3f8a4f" stroke-width="4.8" stroke-linecap="round" stroke-linejoin="round"/>
<path d="M88,37 C88.58,38.67 90.5,43.67 91.5,47 C92.5,50.33 93.42,53.83 94,57 C94.58,60.17 94.83,64.5 95,66" fill="none" stroke="#98d4a2" stroke-width="3.5" stroke-linecap="round" stroke-linejoin="round"/>
<polygon points="87,24 92,22.5 96,26 93,30.5 88,29.5" fill="#98d4a2" stroke="#3f8a4f" stroke-width="0.7" stroke-linejoin="round"/>
<polygon points="93,40 98.5,38 102,42.5 98,46.5" fill="#98d4a2" stroke="#3f8a4f" stroke-width="0.7" stroke-linejoin="round"/>
<polygon points="106,37 112,36.5 114,42 108.5,44" fill="#98d4a2" stroke="#3f8a4f" stroke-width="0.7" stroke-linejoin="round"/>
<polygon points="115,45.5 121,44.5 124.5,49.5 120.5,53.5 116,52" fill="#98d4a2" stroke="#3f8a4f" stroke-width="0.7" stroke-linejoin="round"/>
<polygon points="88,48.5 94.5,47.5 98.5,52.5 94,56 89.5,55" fill="#98d4a2" stroke="#3f8a4f" stroke-width="0.7" stroke-linejoin="round"/>
<polygon points="94,57 99.5,56 101,60.5 96.5,63" fill="#98d4a2" stroke="#3f8a4f" stroke-width="0.7" stroke-linejoin="round"/>
<polygon points="110,55.5 115.5,55.5 116.5,59.5 111.5,61.5" fill="#98d4a2" stroke="#3f8a4f" stroke-width="0.7" stroke-linejoin="round"/>
<path d="M55.3,70 C57.58,69.37 63.98,67.15 69,66.2 C74.02,65.25 79.52,64.3 85.4,64.3 C91.28,64.3 101.15,65.88 104.3,66.2" fill="none" stroke="#3f8a4f" stroke-width="5.3" stroke-linecap="round" stroke-linejoin="round"/>
<path d="M55.3,70 C57.58,69.37 63.98,67.15 69,66.2 C74.02,65.25 79.52,64.3 85.4,64.3 C91.28,64.3 101.15,65.88 104.3,66.2" fill="none" stroke="#98d4a2" stroke-width="4" stroke-linecap="round" stroke-linejoin="round"/>
<path d="M47.8,77.5 C51.33,77.08 62.3,76.05 69,75 C75.7,73.95 81.7,72.45 88,71.2 C94.3,69.95 103.67,68.12 106.8,67.5" fill="none" stroke="#3f8a4f" stroke-width="5.7" stroke-linecap="round" stroke-linejoin="round"/>
<path d="M47.8,77.5 C51.33,77.08 62.3,76.05 69,75 C75.7,73.95 81.7,72.45 88,71.2 C94.3,69.95 103.67,68.12 106.8,67.5" fill="none" stroke="#98d4a2" stroke-width="4.4" stroke-linecap="round" stroke-linejoin="round"/>
<path d="M56.6,86.3 C59.73,85.67 69.13,84.17 75.4,82.5 C81.67,80.83 88.97,78.6 94.2,76.3 C99.43,74 104.7,69.97 106.8,68.7" fill="none" stroke="#3f8a4f" stroke-width="5.7" stroke-linecap="round" stroke-linejoin="round"/>
<path d="M56.6,86.3 C59.73,85.67 69.13,84.17 75.4,82.5 C81.67,80.83 88.97,78.6 94.2,76.3 C99.43,74 104.7,69.97 106.8,68.7" fill="none" stroke="#98d4a2" stroke-width="4.4" stroke-linecap="round" stroke-linejoin="round"/>
<path d="M64,92.6 C66.95,91.97 76.03,91.1 81.7,88.8 C87.37,86.5 93.82,82.15 98,78.8 C102.18,75.45 105.33,70.38 106.8,68.7" fill="none" stroke="#3f8a4f" stroke-width="5.3" stroke-linecap="round" stroke-linejoin="round"/>
<path d="M64,92.6 C66.95,91.97 76.03,91.1 81.7,88.8 C87.37,86.5 93.82,82.15 98,78.8 C102.18,75.45 105.33,70.38 106.8,68.7" fill="none" stroke="#98d4a2" stroke-width="4" stroke-linecap="round" stroke-linejoin="round"/>
<path d="M72,98 C74.33,97.5 81.5,97 86,95 C90.5,93 95.5,89.83 99,86 C102.5,82.17 105.67,74.33 107,72" fill="none" stroke="#3f8a4f" stroke-width="4.5" stroke-linecap="round" stroke-linejoin="round"/>
<path d="M72,98 C74.33,97.5 81.5,97 86,95 C90.5,93 95.5,89.83 99,86 C102.5,82.17 105.67,74.33 107,72" fill="none" stroke="#98d4a2" stroke-width="3.2" stroke-linecap="round" stroke-linejoin="round"/>
</g>
<path d="M96,94 C96.33,94.67 97.5,96.67 98,98 C98.5,99.33 98.83,101.33 99,102" fill="none" stroke="#4a55c0" stroke-width="1.2" stroke-linecap="round" stroke-linejoin="round"/>
<line x1="89.5" y1="102.5" x2="146" y2="113.2" stroke="#3843a6" stroke-width="5.62" stroke-linecap="butt"/>
<path d="M90.23,98.67 Q89.74,102.54 93.95,107.31 L99.79,108.42 Q95.57,103.65 96.06,99.77 Z" fill="#4a55c0" stroke="#2c3590" stroke-width="0.45"/>
<path d="M99.64,100.45 Q99.15,104.33 103.37,109.1 L109.21,110.2 Q104.99,105.43 105.48,101.56 Z" fill="#4a55c0" stroke="#2c3590" stroke-width="0.45"/>
<path d="M109.06,102.23 Q108.57,106.11 112.79,110.88 L118.63,111.99 Q114.41,107.22 114.9,103.34 Z" fill="#4a55c0" stroke="#2c3590" stroke-width="0.45"/>
<path d="M118.48,104.02 Q117.99,107.89 122.2,112.66 L128.04,113.77 Q123.82,109 124.31,105.12 Z" fill="#4a55c0" stroke="#2c3590" stroke-width="0.45"/>
<path d="M127.89,105.8 Q127.4,109.68 131.62,114.45 L137.46,115.55 Q133.24,110.78 133.73,106.91 Z" fill="#4a55c0" stroke="#2c3590" stroke-width="0.45"/>
<path d="M137.31,107.58 Q136.82,111.46 141.04,116.23 L146.88,117.34 Q142.66,112.57 143.15,108.69 Z" fill="#4a55c0" stroke="#2c3590" stroke-width="0.45"/>
<line x1="97" y1="100" x2="97" y2="146" stroke="#3843a6" stroke-width="7.06" stroke-linecap="butt"/>
<path d="M101.9,100 Q97,100.23 92.1,105.06 L92.1,110.76 Q97,105.93 101.9,105.7 Z" fill="#4a55c0" stroke="#2c3590" stroke-width="0.45"/>
<path d="M101.9,109.2 Q97,109.43 92.1,114.26 L92.1,119.96 Q97,115.13 101.9,114.9 Z" fill="#4a55c0" stroke="#2c3590" stroke-width="0.45"/>
<path d="M101.9,118.4 Q97,118.63 92.1,123.46 L92.1,129.16 Q97,124.33 101.9,124.1 Z" fill="#4a55c0" stroke="#2c3590" stroke-width="0.45"/>
<path d="M101.9,127.6 Q97,127.83 92.1,132.66 L92.1,138.36 Q97,133.53 101.9,133.3 Z" fill="#4a55c0" stroke="#2c3590" stroke-width="0.45"/>
<path d="M101.9,136.8 Q97,137.03 92.1,141.86 L92.1,147.56 Q97,142.73 101.9,142.5 Z" fill="#4a55c0" stroke="#2c3590" stroke-width="0.45"/>
<line x1="96" y1="145" x2="84" y2="160" stroke="#3843a6" stroke-width="5.4" stroke-linecap="butt"/>
<path d="M98.93,147.34 Q95.9,145.12 90.87,145.41 L88.39,148.51 Q93.42,148.22 96.45,150.44 Z" fill="#4a55c0" stroke="#2c3590" stroke-width="0.45"/>
<path d="M94.93,152.34 Q91.9,150.12 86.87,150.41 L84.39,153.51 Q89.42,153.22 92.45,155.44 Z" fill="#4a55c0" stroke="#2c3590" stroke-width="0.45"/>
<path d="M90.93,157.34 Q87.9,155.12 82.87,155.41 L80.39,158.51 Q85.42,158.22 88.45,160.44 Z" fill="#4a55c0" stroke="#2c3590" stroke-width="0.45"/>
<path d="M84,160 C83.67,160.33 82.67,161.67 82,162 C81.33,162.33 80.33,162 80,162" fill="none" stroke="#4a55c0" stroke-width="1.4" stroke-linecap="round" stroke-linejoin="round"/>
<path d="M41.9,129.5 C42.05,128.6 42.07,125.12 42.8,124.1 C43.53,123.08 45.28,123.25 46.3,123.4 C47.32,123.55 48.62,124 48.9,125 C49.18,126 48.15,128.67 48,129.4" fill="none" stroke="#4a55c0" stroke-width="1.3" stroke-linecap="round" stroke-linejoin="round"/>
<path d="M32.3,139 C31.13,140.32 26.62,145.15 25.3,146.9 C23.98,148.65 24.12,149.02 24.4,149.5 C24.68,149.98 25.98,150.23 27,149.8 C28.02,149.37 29.33,147.87 30.5,146.9 C31.67,145.93 33.42,144.48 34,144" fill="none" stroke="#4a55c0" stroke-width="1.3" stroke-linecap="round" stroke-linejoin="round"/>
<path d="M31,156 C30.25,156.13 27.45,156.2 26.5,156.8 C25.55,157.4 24.92,158.48 25.3,159.6 C25.68,160.72 27.52,162.77 28.8,163.5 C30.08,164.23 31.55,164 33,164 C34.45,164 36.75,163.58 37.5,163.5" fill="none" stroke="#4a55c0" stroke-width="1.3" stroke-linecap="round" stroke-linejoin="round"/>
<path d="M31.4,151.3 C32.27,150.87 35,149.28 36.6,148.7 C38.2,148.12 40.27,147.95 41,147.8" fill="none" stroke="#4a55c0" stroke-width="1.1" stroke-linecap="round" stroke-linejoin="round"/>
<path d="M40.1,167 C39.67,167.88 38.67,170.83 37.5,172.3 C36.33,173.77 33.83,174.27 33.1,175.8 C32.37,177.33 33.1,180.55 33.1,181.5" fill="none" stroke="#4a55c0" stroke-width="1.3" stroke-linecap="round" stroke-linejoin="round"/>
<path d="M53.3,170.6 C53,171.77 51.93,175.85 51.5,177.6 C51.07,179.35 50.83,180.52 50.7,181.1" fill="none" stroke="#4a55c0" stroke-width="1.3" stroke-linecap="round" stroke-linejoin="round"/>
<path d="M68,141 C68.58,140.47 70.57,137.72 71.5,137.8 C72.43,137.88 73.42,139.68 73.6,141.5 C73.78,143.32 72.18,146.78 72.6,148.7 C73.02,150.62 74.93,151.7 76.1,153 C77.27,154.3 78.62,155.17 79.6,156.5 C80.58,157.83 81.6,160.25 82,161" fill="none" stroke="#4a55c0" stroke-width="1.4" stroke-linecap="round" stroke-linejoin="round"/>
<path d="M32.3,139 C33.17,138.42 35.75,136.37 37.5,135.5 C39.25,134.63 41.92,134.08 42.8,133.8" fill="none" stroke="#2c3590" stroke-width="4.9" stroke-linecap="round" stroke-linejoin="round"/>
<path d="M32.3,139 C33.17,138.42 35.75,136.37 37.5,135.5 C39.25,134.63 41.92,134.08 42.8,133.8" fill="none" stroke="#4a55c0" stroke-width="3.6" stroke-linecap="round" stroke-linejoin="round"/>
<path d="M48.9,132 C49.92,131.85 53.1,131.1 55,131.1 C56.9,131.1 58.83,131.27 60.3,132 C61.77,132.73 63.22,134.92 63.8,135.5" fill="none" stroke="#2c3590" stroke-width="5.1" stroke-linecap="round" stroke-linejoin="round"/>
<path d="M48.9,132 C49.92,131.85 53.1,131.1 55,131.1 C56.9,131.1 58.83,131.27 60.3,132 C61.77,132.73 63.22,134.92 63.8,135.5" fill="none" stroke="#4a55c0" stroke-width="3.8" stroke-linecap="round" stroke-linejoin="round"/>
<path d="M44.5,134.5 C44.28,135.83 43.63,139.92 43.2,142.5 C42.77,145.08 42.35,147.75 41.9,150 C41.45,152.25 40.73,155 40.5,156" fill="none" stroke="#2c3590" stroke-width="4.3" stroke-linecap="round" stroke-linejoin="round"/>
<path d="M44.5,134.5 C44.28,135.83 43.63,139.92 43.2,142.5 C42.77,145.08 42.35,147.75 41.9,150 C41.45,152.25 40.73,155 40.5,156" fill="none" stroke="#4a55c0" stroke-width="3" stroke-linecap="round" stroke-linejoin="round"/>
<path d="M54,134 C53.17,135.33 50.42,139.67 49,142 C47.58,144.33 46.08,147 45.5,148" fill="none" stroke="#2c3590" stroke-width="4.3" stroke-linecap="round" stroke-linejoin="round"/>
<path d="M54,134 C53.17,135.33 50.42,139.67 49,142 C47.58,144.33 46.08,147 45.5,148" fill="none" stroke="#4a55c0" stroke-width="3" stroke-linecap="round" stroke-linejoin="round"/>
<path d="M61,135.5 C59.67,137.42 55.58,143 53,147 C50.42,151 46.75,157.42 45.5,159.5" fill="none" stroke="#2c3590" stroke-width="4.6" stroke-linecap="round" stroke-linejoin="round"/>
<path d="M61,135.5 C59.67,137.42 55.58,143 53,147 C50.42,151 46.75,157.42 45.5,159.5" fill="none" stroke="#4a55c0" stroke-width="3.3" stroke-linecap="round" stroke-linejoin="round"/>
<path d="M66.5,141.5 C65.17,143.33 61.08,148.83 58.5,152.5 C55.92,156.17 52.25,161.67 51,163.5" fill="none" stroke="#2c3590" stroke-width="4.6" stroke-linecap="round" stroke-linejoin="round"/>
<path d="M66.5,141.5 C65.17,143.33 61.08,148.83 58.5,152.5 C55.92,156.17 52.25,161.67 51,163.5" fill="none" stroke="#4a55c0" stroke-width="3.3" stroke-linecap="round" stroke-linejoin="round"/>
<path d="M64.5,136.4 C65.25,137.72 68.33,141.23 69,144.3 C69.67,147.37 69.25,151.02 68.5,154.8 C67.75,158.58 65.75,163.8 64.5,167 C63.25,170.2 61.58,172.83 61,174" fill="none" stroke="#2c3590" stroke-width="4.7" stroke-linecap="round" stroke-linejoin="round"/>
<path d="M64.5,136.4 C65.25,137.72 68.33,141.23 69,144.3 C69.67,147.37 69.25,151.02 68.5,154.8 C67.75,158.58 65.75,163.8 64.5,167 C63.25,170.2 61.58,172.83 61,174" fill="none" stroke="#4a55c0" stroke-width="3.4" stroke-linecap="round" stroke-linejoin="round"/>
<path d="M39.5,165.5 C40.42,165.5 43.25,165.42 45,165.5 C46.75,165.58 49.17,165.92 50,166" fill="none" stroke="#2c3590" stroke-width="3.9" stroke-linecap="round" stroke-linejoin="round"/>
<path d="M39.5,165.5 C40.42,165.5 43.25,165.42 45,165.5 C46.75,165.58 49.17,165.92 50,166" fill="none" stroke="#4a55c0" stroke-width="2.6" stroke-linecap="round" stroke-linejoin="round"/>
<path d="M59.5,157 C59,158.33 57.33,162.83 56.5,165 C55.67,167.17 54.83,169.17 54.5,170" fill="none" stroke="#7b82c8" stroke-width="3.5" stroke-linecap="round" stroke-linejoin="round"/>
<path d="M59.5,157 C59,158.33 57.33,162.83 56.5,165 C55.67,167.17 54.83,169.17 54.5,170" fill="none" stroke="#a9aee0" stroke-width="2.2" stroke-linecap="round" stroke-linejoin="round"/>
</g>
<path d="M254.7,735.4 C254.35,734.5 252.6,731.62 252.6,730 C252.6,728.38 253.67,728.5 254.7,725.7 C255.73,722.9 257.67,716.15 258.8,713.2 C259.93,710.25 261.05,708.87 261.5,708" fill="none" stroke="#4a55c0" stroke-width="1.3" stroke-linecap="round" stroke-linejoin="round"/>
<g transform="translate(270,695) rotate(18) scale(0.56) translate(-250,-125)">
<g transform="translate(161,-1.5)">
<path d="M75.9,33 C75.75,31.83 74.65,28 75,26 C75.35,24 76.5,21.92 78,21 C79.5,20.08 82.17,20.75 84,20.5 C85.83,20.25 87.33,19.42 89,19.5 C90.67,19.58 92.83,20.08 94,21 C95.17,21.92 96.17,23.5 96,25 C95.83,26.5 92.83,28.67 93,30 C93.17,31.33 95.67,32.83 97,33 C98.33,33.17 99.67,31 101,31 C102.33,31 103.83,32.33 105,33 C106.17,33.67 106.67,34.83 108,35 C109.33,35.17 111.33,33.67 113,34 C114.67,34.33 116.67,35.67 118,37 C119.33,38.33 119.67,40.5 121,42 C122.33,43.5 125.17,44.67 126,46 C126.83,47.33 126.83,48.83 126,50 C125.17,51.17 122.67,52 121,53 C119.33,54 117.5,54.67 116,56 C114.5,57.33 113.33,59.33 112,61 C110.67,62.67 108.67,65.17 108,66" fill="none" stroke="#23952f" stroke-width="1.3" stroke-linecap="round" stroke-linejoin="round"/>
<path d="M47.8,77 C47.58,77.83 46.55,80.67 46.5,82 C46.45,83.33 46.58,84.42 47.5,85 C48.42,85.58 50.75,85 52,85.5 C53.25,86 54.08,86.92 55,88 C55.92,89.08 57.25,90.5 57.5,92 C57.75,93.5 56.25,95.67 56.5,97 C56.75,98.33 57.92,99.17 59,100 C60.08,100.83 61.83,101 63,102 C64.17,103 64.92,105.08 66,106 C67.08,106.92 68.33,107.67 69.5,107.5 C70.67,107.33 71.75,105.75 73,105 C74.25,104.25 75.67,103.5 77,103 C78.33,102.5 79.83,101.83 81,102 C82.17,102.17 82.83,103.67 84,104 C85.17,104.33 87.33,104 88,104" fill="none" stroke="#23952f" stroke-width="1.3" stroke-linecap="round" stroke-linejoin="round"/>
<path d="M88,104 C88.5,103.33 89.83,101.33 91,100 C92.17,98.67 93.67,97.17 95,96 C96.33,94.83 97.5,94 99,93 C100.5,92 102.67,91.33 104,90 C105.33,88.67 106.67,86.67 107,85 C107.33,83.33 106.17,80.83 106,80" fill="none" stroke="#23952f" stroke-width="1.2" stroke-linecap="round" stroke-linejoin="round"/>
<path d="M62,71 C61.33,70.5 59,69.33 58,68 C57,66.67 55.67,64.33 56,63 C56.33,61.67 58.5,61.17 60,60 C61.5,58.83 64.17,56.67 65,56" fill="none" stroke="#23952f" stroke-width="1.2" stroke-linecap="round" stroke-linejoin="round"/>
<path d="M101,34 C100.83,35.33 99.5,39.67 100,42 C100.5,44.33 103.5,45.83 104,48 C104.5,50.17 102.67,53 103,55 C103.33,57 105.5,59.17 106,60" fill="none" stroke="#23952f" stroke-width="1.2" stroke-linecap="round" stroke-linejoin="round"/>
<path d="M76,36 C75.5,35.17 73.17,32.5 73,31 C72.83,29.5 74.67,27.67 75,27" fill="none" stroke="#23952f" stroke-width="1.2" stroke-linecap="round" stroke-linejoin="round"/>
<path d="M69,47 C68.58,48.17 67.67,51.83 66.5,54 C65.33,56.17 63.58,58 62,60 C60.42,62 57.83,65 57,66" fill="none" stroke="#136a20" stroke-width="4.9" stroke-linecap="round" stroke-linejoin="round"/>
<path d="M69,47 C68.58,48.17 67.67,51.83 66.5,54 C65.33,56.17 63.58,58 62,60 C60.42,62 57.83,65 57,66" fill="none" stroke="#23952f" stroke-width="3.6" stroke-linecap="round" stroke-linejoin="round"/>
<path d="M67,42 C66.5,42.5 64.5,44.5 64,45" fill="none" stroke="#136a20" stroke-width="4.1" stroke-linecap="round" stroke-linejoin="round"/>
<path d="M67,42 C66.5,42.5 64.5,44.5 64,45" fill="none" stroke="#23952f" stroke-width="2.8" stroke-linecap="round" stroke-linejoin="round"/>
<path d="M59,64 C60.33,63 64.33,59.17 67,58 C69.67,56.83 71.83,57.17 75,57 C78.17,56.83 84.17,57 86,57" fill="none" stroke="#136a20" stroke-width="5.1" stroke-linecap="round" stroke-linejoin="round"/>
<path d="M59,64 C60.33,63 64.33,59.17 67,58 C69.67,56.83 71.83,57.17 75,57 C78.17,56.83 84.17,57 86,57" fill="none" stroke="#23952f" stroke-width="3.8" stroke-linecap="round" stroke-linejoin="round"/>
<path d="M53,73 C54.5,72.5 59.17,70.67 62,70 C64.83,69.33 68.67,69.17 70,69" fill="none" stroke="#136a20" stroke-width="4.3" stroke-linecap="round" stroke-linejoin="round"/>
<path d="M53,73 C54.5,72.5 59.17,70.67 62,70 C64.83,69.33 68.67,69.17 70,69" fill="none" stroke="#23952f" stroke-width="3" stroke-linecap="round" stroke-linejoin="round"/>
<path d="M77.3,41 C77.18,43.5 76.4,51.33 76.6,56 C76.8,60.67 78.18,66.83 78.5,69" fill="none" stroke="#136a20" stroke-width="5.2" stroke-linecap="round" stroke-linejoin="round"/>
<path d="M77.3,41 C77.18,43.5 76.4,51.33 76.6,56 C76.8,60.67 78.18,66.83 78.5,69" fill="none" stroke="#35b843" stroke-width="3.9" stroke-linecap="round" stroke-linejoin="round"/>
<path d="M81.7,40 C81.9,42.33 82.18,49 82.9,54 C83.62,59 85.48,67.33 86,70" fill="none" stroke="#136a20" stroke-width="5.2" stroke-linecap="round" stroke-linejoin="round"/>
<path d="M81.7,40 C81.9,42.33 82.18,49 82.9,54 C83.62,59 85.48,67.33 86,70" fill="none" stroke="#35b843" stroke-width="3.9" stroke-linecap="round" stroke-linejoin="round"/>
<path d="M88,37 C88.58,38.67 90.5,43.67 91.5,47 C92.5,50.33 93.42,53.83 94,57 C94.58,60.17 94.83,64.5 95,66" fill="none" stroke="#136a20" stroke-width="4.8" stroke-linecap="round" stroke-linejoin="round"/>
<path d="M88,37 C88.58,38.67 90.5,43.67 91.5,47 C92.5,50.33 93.42,53.83 94,57 C94.58,60.17 94.83,64.5 95,66" fill="none" stroke="#35b843" stroke-width="3.5" stroke-linecap="round" stroke-linejoin="round"/>
<polygon points="87,24 92,22.5 96,26 93,30.5 88,29.5" fill="#35b843" stroke="#136a20" stroke-width="0.7" stroke-linejoin="round"/>
<polygon points="93,40 98.5,38 102,42.5 98,46.5" fill="#35b843" stroke="#136a20" stroke-width="0.7" stroke-linejoin="round"/>
<polygon points="106,37 112,36.5 114,42 108.5,44" fill="#35b843" stroke="#136a20" stroke-width="0.7" stroke-linejoin="round"/>
<polygon points="115,45.5 121,44.5 124.5,49.5 120.5,53.5 116,52" fill="#35b843" stroke="#136a20" stroke-width="0.7" stroke-linejoin="round"/>
<polygon points="88,48.5 94.5,47.5 98.5,52.5 94,56 89.5,55" fill="#35b843" stroke="#136a20" stroke-width="0.7" stroke-linejoin="round"/>
<polygon points="94,57 99.5,56 101,60.5 96.5,63" fill="#35b843" stroke="#136a20" stroke-width="0.7" stroke-linejoin="round"/>
<polygon points="110,55.5 115.5,55.5 116.5,59.5 111.5,61.5" fill="#35b843" stroke="#136a20" stroke-width="0.7" stroke-linejoin="round"/>
<path d="M55.3,70 C57.58,69.37 63.98,67.15 69,66.2 C74.02,65.25 79.52,64.3 85.4,64.3 C91.28,64.3 101.15,65.88 104.3,66.2" fill="none" stroke="#136a20" stroke-width="5.3" stroke-linecap="round" stroke-linejoin="round"/>
<path d="M55.3,70 C57.58,69.37 63.98,67.15 69,66.2 C74.02,65.25 79.52,64.3 85.4,64.3 C91.28,64.3 101.15,65.88 104.3,66.2" fill="none" stroke="#35b843" stroke-width="4" stroke-linecap="round" stroke-linejoin="round"/>
<path d="M47.8,77.5 C51.33,77.08 62.3,76.05 69,75 C75.7,73.95 81.7,72.45 88,71.2 C94.3,69.95 103.67,68.12 106.8,67.5" fill="none" stroke="#136a20" stroke-width="5.7" stroke-linecap="round" stroke-linejoin="round"/>
<path d="M47.8,77.5 C51.33,77.08 62.3,76.05 69,75 C75.7,73.95 81.7,72.45 88,71.2 C94.3,69.95 103.67,68.12 106.8,67.5" fill="none" stroke="#35b843" stroke-width="4.4" stroke-linecap="round" stroke-linejoin="round"/>
<path d="M56.6,86.3 C59.73,85.67 69.13,84.17 75.4,82.5 C81.67,80.83 88.97,78.6 94.2,76.3 C99.43,74 104.7,69.97 106.8,68.7" fill="none" stroke="#136a20" stroke-width="5.7" stroke-linecap="round" stroke-linejoin="round"/>
<path d="M56.6,86.3 C59.73,85.67 69.13,84.17 75.4,82.5 C81.67,80.83 88.97,78.6 94.2,76.3 C99.43,74 104.7,69.97 106.8,68.7" fill="none" stroke="#35b843" stroke-width="4.4" stroke-linecap="round" stroke-linejoin="round"/>
<path d="M64,92.6 C66.95,91.97 76.03,91.1 81.7,88.8 C87.37,86.5 93.82,82.15 98,78.8 C102.18,75.45 105.33,70.38 106.8,68.7" fill="none" stroke="#136a20" stroke-width="5.3" stroke-linecap="round" stroke-linejoin="round"/>
<path d="M64,92.6 C66.95,91.97 76.03,91.1 81.7,88.8 C87.37,86.5 93.82,82.15 98,78.8 C102.18,75.45 105.33,70.38 106.8,68.7" fill="none" stroke="#35b843" stroke-width="4" stroke-linecap="round" stroke-linejoin="round"/>
<path d="M72,98 C74.33,97.5 81.5,97 86,95 C90.5,93 95.5,89.83 99,86 C102.5,82.17 105.67,74.33 107,72" fill="none" stroke="#136a20" stroke-width="4.5" stroke-linecap="round" stroke-linejoin="round"/>
<path d="M72,98 C74.33,97.5 81.5,97 86,95 C90.5,93 95.5,89.83 99,86 C102.5,82.17 105.67,74.33 107,72" fill="none" stroke="#35b843" stroke-width="3.2" stroke-linecap="round" stroke-linejoin="round"/>
</g>
<line x1="242" y1="101" x2="242" y2="152" stroke="#3843a6" stroke-width="7.56" stroke-linecap="butt"/>
<path d="M247.25,101 Q242,101.26 236.75,106.61 L236.75,112.93 Q242,107.58 247.25,107.32 Z" fill="#4a55c0" stroke="#2c3590" stroke-width="0.45"/>
<path d="M247.25,111.2 Q242,111.45 236.75,116.81 L236.75,123.13 Q242,117.78 247.25,117.52 Z" fill="#4a55c0" stroke="#2c3590" stroke-width="0.45"/>
<path d="M247.25,121.4 Q242,121.66 236.75,127.01 L236.75,133.33 Q242,127.98 247.25,127.72 Z" fill="#4a55c0" stroke="#2c3590" stroke-width="0.45"/>
<path d="M247.25,131.6 Q242,131.85 236.75,137.21 L236.75,143.53 Q242,138.18 247.25,137.92 Z" fill="#4a55c0" stroke="#2c3590" stroke-width="0.45"/>
<path d="M247.25,141.8 Q242,142.06 236.75,147.41 L236.75,153.73 Q242,148.38 247.25,148.12 Z" fill="#4a55c0" stroke="#2c3590" stroke-width="0.45"/>
<line x1="258.7" y1="98.5" x2="258.7" y2="146" stroke="#3843a6" stroke-width="7.92" stroke-linecap="butt"/>
<path d="M264.2,98.5 Q258.7,98.74 253.2,103.72 L253.2,109.61 Q258.7,104.63 264.2,104.39 Z" fill="#4a55c0" stroke="#2c3590" stroke-width="0.45"/>
<path d="M264.2,108 Q258.7,108.24 253.2,113.22 L253.2,119.11 Q258.7,114.13 264.2,113.89 Z" fill="#4a55c0" stroke="#2c3590" stroke-width="0.45"/>
<path d="M264.2,117.5 Q258.7,117.74 253.2,122.72 L253.2,128.61 Q258.7,123.63 264.2,123.39 Z" fill="#4a55c0" stroke="#2c3590" stroke-width="0.45"/>
<path d="M264.2,127 Q258.7,127.24 253.2,132.22 L253.2,138.11 Q258.7,133.13 264.2,132.89 Z" fill="#4a55c0" stroke="#2c3590" stroke-width="0.45"/>
<path d="M264.2,136.5 Q258.7,136.74 253.2,141.72 L253.2,147.61 Q258.7,142.63 264.2,142.39 Z" fill="#4a55c0" stroke="#2c3590" stroke-width="0.45"/>
<path d="M242,152 C242.5,153 243.83,156.67 245,158 C246.17,159.33 247.5,160.33 249,160 C250.5,159.67 252.38,158.33 254,156 C255.62,153.67 257.92,147.67 258.7,146" fill="none" stroke="#4a55c0" stroke-width="1.4" stroke-linecap="round" stroke-linejoin="round"/>
<path d="M259,92 C259.5,91.67 261,89.83 262,90 C263,90.17 264.5,92.5 265,93" fill="none" stroke="#4a55c0" stroke-width="1.1" stroke-linecap="round" stroke-linejoin="round"/>
<g transform="translate(249.5,136.5) scale(1.05)">
<polygon points="-6,-8 -1,-10 4,-9 7,-5 5,-1 7,2 6,7 2,10 -3,9 -6,6 -5,1 -7,-3" fill="#b8121b" stroke="#6e0808" stroke-width="0.7" stroke-linejoin="round"/>
<polygon points="-4,-7 1,-8.5 4,-5 0,-3 -3,-4" fill="#e0343a"/>
<polygon points="-3,2 2,0.5 4.5,4 1,7 -2.5,6" fill="#d82a30"/>
<polyline points="-5,0 0,-1 5,-1" fill="none" stroke="#7a0a0a" stroke-width="0.8"/>
</g>
<g transform="translate(162,-1)">
<path d="M41.9,129.5 C42.05,128.6 42.07,125.12 42.8,124.1 C43.53,123.08 45.28,123.25 46.3,123.4 C47.32,123.55 48.62,124 48.9,125 C49.18,126 48.15,128.67 48,129.4" fill="none" stroke="#4a55c0" stroke-width="1.3" stroke-linecap="round" stroke-linejoin="round"/>
<path d="M32.3,139 C31.13,140.32 26.62,145.15 25.3,146.9 C23.98,148.65 24.12,149.02 24.4,149.5 C24.68,149.98 25.98,150.23 27,149.8 C28.02,149.37 29.33,147.87 30.5,146.9 C31.67,145.93 33.42,144.48 34,144" fill="none" stroke="#4a55c0" stroke-width="1.3" stroke-linecap="round" stroke-linejoin="round"/>
<path d="M31,156 C30.25,156.13 27.45,156.2 26.5,156.8 C25.55,157.4 24.92,158.48 25.3,159.6 C25.68,160.72 27.52,162.77 28.8,163.5 C30.08,164.23 31.55,164 33,164 C34.45,164 36.75,163.58 37.5,163.5" fill="none" stroke="#4a55c0" stroke-width="1.3" stroke-linecap="round" stroke-linejoin="round"/>
<path d="M31.4,151.3 C32.27,150.87 35,149.28 36.6,148.7 C38.2,148.12 40.27,147.95 41,147.8" fill="none" stroke="#4a55c0" stroke-width="1.1" stroke-linecap="round" stroke-linejoin="round"/>
<path d="M40.1,167 C39.67,167.88 38.67,170.83 37.5,172.3 C36.33,173.77 33.83,174.27 33.1,175.8 C32.37,177.33 33.1,180.55 33.1,181.5" fill="none" stroke="#4a55c0" stroke-width="1.3" stroke-linecap="round" stroke-linejoin="round"/>
<path d="M53.3,170.6 C53,171.77 51.93,175.85 51.5,177.6 C51.07,179.35 50.83,180.52 50.7,181.1" fill="none" stroke="#4a55c0" stroke-width="1.3" stroke-linecap="round" stroke-linejoin="round"/>
<path d="M68,141 C68.58,140.47 70.57,137.72 71.5,137.8 C72.43,137.88 73.42,139.68 73.6,141.5 C73.78,143.32 72.18,146.78 72.6,148.7 C73.02,150.62 74.93,151.7 76.1,153 C77.27,154.3 78.62,155.17 79.6,156.5 C80.58,157.83 81.6,160.25 82,161" fill="none" stroke="#4a55c0" stroke-width="1.4" stroke-linecap="round" stroke-linejoin="round"/>
<path d="M32.3,139 C33.17,138.42 35.75,136.37 37.5,135.5 C39.25,134.63 41.92,134.08 42.8,133.8" fill="none" stroke="#2c3590" stroke-width="4.9" stroke-linecap="round" stroke-linejoin="round"/>
<path d="M32.3,139 C33.17,138.42 35.75,136.37 37.5,135.5 C39.25,134.63 41.92,134.08 42.8,133.8" fill="none" stroke="#4a55c0" stroke-width="3.6" stroke-linecap="round" stroke-linejoin="round"/>
<path d="M48.9,132 C49.92,131.85 53.1,131.1 55,131.1 C56.9,131.1 58.83,131.27 60.3,132 C61.77,132.73 63.22,134.92 63.8,135.5" fill="none" stroke="#2c3590" stroke-width="5.1" stroke-linecap="round" stroke-linejoin="round"/>
<path d="M48.9,132 C49.92,131.85 53.1,131.1 55,131.1 C56.9,131.1 58.83,131.27 60.3,132 C61.77,132.73 63.22,134.92 63.8,135.5" fill="none" stroke="#4a55c0" stroke-width="3.8" stroke-linecap="round" stroke-linejoin="round"/>
<path d="M44.5,134.5 C44.28,135.83 43.63,139.92 43.2,142.5 C42.77,145.08 42.35,147.75 41.9,150 C41.45,152.25 40.73,155 40.5,156" fill="none" stroke="#2c3590" stroke-width="4.3" stroke-linecap="round" stroke-linejoin="round"/>
<path d="M44.5,134.5 C44.28,135.83 43.63,139.92 43.2,142.5 C42.77,145.08 42.35,147.75 41.9,150 C41.45,152.25 40.73,155 40.5,156" fill="none" stroke="#4a55c0" stroke-width="3" stroke-linecap="round" stroke-linejoin="round"/>
<path d="M54,134 C53.17,135.33 50.42,139.67 49,142 C47.58,144.33 46.08,147 45.5,148" fill="none" stroke="#2c3590" stroke-width="4.3" stroke-linecap="round" stroke-linejoin="round"/>
<path d="M54,134 C53.17,135.33 50.42,139.67 49,142 C47.58,144.33 46.08,147 45.5,148" fill="none" stroke="#4a55c0" stroke-width="3" stroke-linecap="round" stroke-linejoin="round"/>
<path d="M61,135.5 C59.67,137.42 55.58,143 53,147 C50.42,151 46.75,157.42 45.5,159.5" fill="none" stroke="#2c3590" stroke-width="4.6" stroke-linecap="round" stroke-linejoin="round"/>
<path d="M61,135.5 C59.67,137.42 55.58,143 53,147 C50.42,151 46.75,157.42 45.5,159.5" fill="none" stroke="#4a55c0" stroke-width="3.3" stroke-linecap="round" stroke-linejoin="round"/>
<path d="M66.5,141.5 C65.17,143.33 61.08,148.83 58.5,152.5 C55.92,156.17 52.25,161.67 51,163.5" fill="none" stroke="#2c3590" stroke-width="4.6" stroke-linecap="round" stroke-linejoin="round"/>
<path d="M66.5,141.5 C65.17,143.33 61.08,148.83 58.5,152.5 C55.92,156.17 52.25,161.67 51,163.5" fill="none" stroke="#4a55c0" stroke-width="3.3" stroke-linecap="round" stroke-linejoin="round"/>
<path d="M64.5,136.4 C65.25,137.72 68.33,141.23 69,144.3 C69.67,147.37 69.25,151.02 68.5,154.8 C67.75,158.58 65.75,163.8 64.5,167 C63.25,170.2 61.58,172.83 61,174" fill="none" stroke="#2c3590" stroke-width="4.7" stroke-linecap="round" stroke-linejoin="round"/>
<path d="M64.5,136.4 C65.25,137.72 68.33,141.23 69,144.3 C69.67,147.37 69.25,151.02 68.5,154.8 C67.75,158.58 65.75,163.8 64.5,167 C63.25,170.2 61.58,172.83 61,174" fill="none" stroke="#4a55c0" stroke-width="3.4" stroke-linecap="round" stroke-linejoin="round"/>
<path d="M39.5,165.5 C40.42,165.5 43.25,165.42 45,165.5 C46.75,165.58 49.17,165.92 50,166" fill="none" stroke="#2c3590" stroke-width="3.9" stroke-linecap="round" stroke-linejoin="round"/>
<path d="M39.5,165.5 C40.42,165.5 43.25,165.42 45,165.5 C46.75,165.58 49.17,165.92 50,166" fill="none" stroke="#4a55c0" stroke-width="2.6" stroke-linecap="round" stroke-linejoin="round"/>
<path d="M59.5,157 C59,158.33 57.33,162.83 56.5,165 C55.67,167.17 54.83,169.17 54.5,170" fill="none" stroke="#7b82c8" stroke-width="3.5" stroke-linecap="round" stroke-linejoin="round"/>
<path d="M59.5,157 C59,158.33 57.33,162.83 56.5,165 C55.67,167.17 54.83,169.17 54.5,170" fill="none" stroke="#a9aee0" stroke-width="2.2" stroke-linecap="round" stroke-linejoin="round"/>
</g>
<path d="M237,148 C237.67,149.17 239.33,153.33 241,155 C242.67,156.67 245.17,158 247,158 C248.83,158 251.17,155.5 252,155" fill="none" stroke="#4a55c0" stroke-width="1.2" stroke-linecap="round" stroke-linejoin="round"/>
</g>
<text x="-0.7" y="820.8" font-size="18" text-anchor="start" fill="#231f20" font-weight="bold">b</text>
<text x="356.3" y="10.3" font-size="18" text-anchor="start" fill="#231f20" font-weight="bold">c</text>
<text x="355.4" y="300.9" font-size="18" text-anchor="start" fill="#231f20" font-weight="bold">d</text>
<text x="356.8" y="558.9" font-size="18" text-anchor="start" fill="#231f20" font-weight="bold">e</text>
<text x="358" y="820.7" font-size="18" text-anchor="start" fill="#231f20" font-weight="bold">f</text>
</svg>
</body></html>
